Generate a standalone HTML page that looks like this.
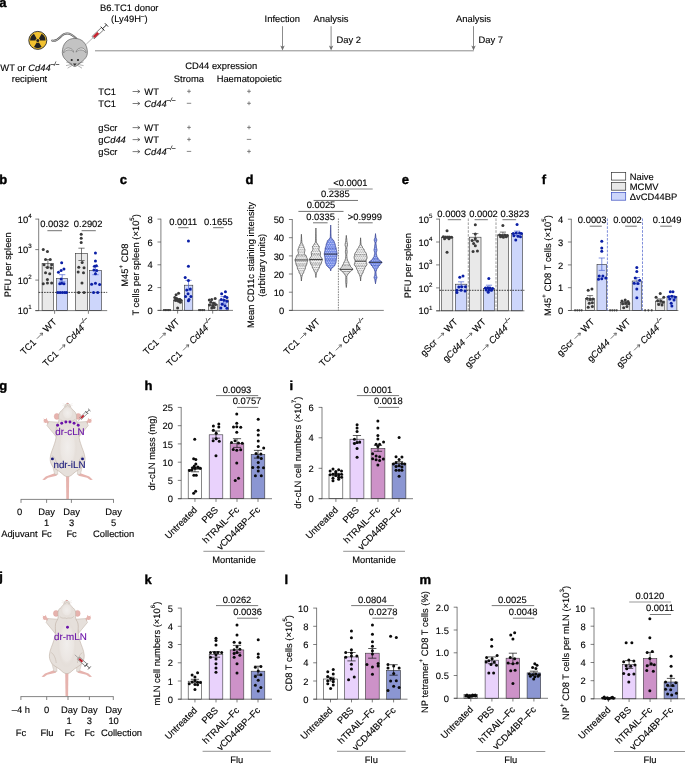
<!DOCTYPE html>
<html><head><meta charset="utf-8"><title>Figure</title>
<style>
html,body{margin:0;padding:0;background:#fff;}
body{width:685px;height:764px;overflow:hidden;font-family:"Liberation Sans",sans-serif;}
svg{display:block;will-change:transform;opacity:0.999;}
svg text{font-family:"Liberation Sans",sans-serif;text-rendering:geometricPrecision;}
</style></head><body>
<svg width="685" height="764" viewBox="0 0 685 764">
<rect x="0" y="0" width="685" height="764" fill="#fff"/>
<text x="-0.80" y="6.80" font-size="13" font-weight="bold" fill="#000" stroke="#000" stroke-width="0.4" stroke-linejoin="round">a</text>
<circle cx="37.80" cy="40.40" r="9.0" fill="#f2c230" stroke="#2a2a2a" stroke-width="0.9"/>
<path d="M35.50 40.40 L30.10 40.40 A7.7 7.7 0 0 1 33.95 33.73 L36.65 38.41 A2.3 2.3 0 0 0 35.50 40.40Z" fill="#222"/>
<path d="M38.95 38.41 L41.65 33.73 A7.7 7.7 0 0 1 45.50 40.40 L40.10 40.40 A2.3 2.3 0 0 0 38.95 38.41Z" fill="#222"/>
<path d="M38.95 42.39 L41.65 47.07 A7.7 7.7 0 0 1 33.95 47.07 L36.65 42.39 A2.3 2.3 0 0 0 38.95 42.39Z" fill="#222"/>
<circle cx="37.80" cy="40.40" r="1.5" fill="#222" stroke="none" stroke-width="0"/>
<path d="M52.2 40.6 C57 42.4 59.6 36.6 63.6 34.4 C67.6 32.2 71.6 33.6 76.4 38.8" fill="none" stroke="#555" stroke-width="2.0" stroke-linecap="round"/>
<path d="M52.2 40.6 C57 42.4 59.6 36.6 63.6 34.4 C67.6 32.2 71.6 33.6 76.4 38.8" fill="none" stroke="#c6c6c6" stroke-width="0.9" stroke-linecap="round"/>
<path d="M62.3 52.6 C62.3 43.6 67.6 38.4 74.8 38.4 C82 38.4 87.4 43.6 87.4 52.6 C87.4 56.2 85.2 58.8 82.8 60.8 L77.2 65.4 C76.2 66.2 75.5 66.5 74.8 66.5 C74.1 66.5 73.4 66.2 72.4 65.4 L66.8 60.8 C64.4 58.8 62.3 56.2 62.3 52.6Z" fill="#c3c3c3" stroke="#5e5e5e" stroke-width="0.7"/>
<path d="M63.6 52.8 C64.0 49.2 66.6 47.6 69.0 48.0 C71.6 48.4 73.4 50.2 73.6 52.2 C72.2 50.6 70.6 49.8 68.6 49.9 C66.4 50.0 64.8 51.2 63.6 52.8Z" fill="#e6e6e6" stroke="#5e5e5e" stroke-width="0.55" stroke-linejoin="round"/>
<path d="M86.0 52.8 C85.6 49.2 83.0 47.6 80.6 48.0 C78.0 48.4 76.2 50.2 76.0 52.2 C77.4 50.6 79.0 49.8 81.0 49.9 C83.2 50.0 84.8 51.2 86.0 52.8Z" fill="#e6e6e6" stroke="#5e5e5e" stroke-width="0.55" stroke-linejoin="round"/>
<circle cx="71.70" cy="60.00" r="1.05" fill="#222" stroke="none" stroke-width="0"/>
<circle cx="78.00" cy="60.00" r="1.05" fill="#222" stroke="none" stroke-width="0"/>
<path d="M72.9 63.4 L76.7 63.4 L74.8 66.0Z" fill="#333"/>
<line x1="71.80" y1="63.60" x2="66.20" y2="62.00" stroke="#555" stroke-width="0.45"/>
<line x1="71.80" y1="64.40" x2="66.00" y2="65.60" stroke="#555" stroke-width="0.45"/>
<line x1="72.40" y1="65.20" x2="67.60" y2="68.20" stroke="#555" stroke-width="0.45"/>
<line x1="77.80" y1="63.60" x2="83.40" y2="62.00" stroke="#555" stroke-width="0.45"/>
<line x1="77.80" y1="64.40" x2="83.60" y2="65.60" stroke="#555" stroke-width="0.45"/>
<line x1="77.20" y1="65.20" x2="82.00" y2="68.20" stroke="#555" stroke-width="0.45"/>
<g transform="translate(86.2 44.2) rotate(-43.5)"><line x1="0" y1="0" x2="9.6" y2="0" stroke="#666" stroke-width="0.45"/><rect x="9.6" y="-1.6" width="13.0" height="3.2" fill="#fff" stroke="#333" stroke-width="0.6"/><rect x="10.4" y="-1.2" width="6.2" height="2.4" fill="#c8202c"/><line x1="22.6" y1="-2.7" x2="22.6" y2="2.7" stroke="#222" stroke-width="0.9"/><line x1="22.6" y1="0" x2="28.0" y2="0" stroke="#222" stroke-width="0.9"/><line x1="28.0" y1="-2.3" x2="28.0" y2="2.3" stroke="#222" stroke-width="0.9"/></g>
<text x="129.30" y="10.60" font-size="9.4" text-anchor="middle" fill="#000" stroke="#000" stroke-width="0.12">B6.TC1 donor</text>
<text x="129.30" y="22.40" font-size="9.4" text-anchor="middle" fill="#000" stroke="#000" stroke-width="0.12">(Ly49H<tspan font-size="6.2" dy="-4.89">–</tspan><tspan dy="4.89" font-size="9.4">&#8203;</tspan>)</text>
<text x="0.30" y="70.60" font-size="9.4" fill="#000" stroke="#000" stroke-width="0.12">WT or <tspan font-style="italic">Cd44<tspan font-size="6.2" dy="-4.89">–/–</tspan><tspan dy="4.89" font-size="9.4">&#8203;</tspan></tspan></text>
<text x="29.50" y="82.40" font-size="9.4" text-anchor="middle" fill="#000" stroke="#000" stroke-width="0.12">recipient</text>
<line x1="95.00" y1="50.80" x2="473.80" y2="50.80" stroke="#6e6e6e" stroke-width="0.8"/>
<line x1="282.50" y1="26.20" x2="282.50" y2="48.60" stroke="#6e6e6e" stroke-width="0.8"/>
<path d="M280.30 45.60 L282.50 50.60 L284.70 45.60 L282.50 46.80Z" fill="#6e6e6e"/>
<line x1="331.10" y1="26.20" x2="331.10" y2="48.60" stroke="#6e6e6e" stroke-width="0.8"/>
<path d="M328.90 45.60 L331.10 50.60 L333.30 45.60 L331.10 46.80Z" fill="#6e6e6e"/>
<line x1="473.50" y1="26.20" x2="473.50" y2="48.60" stroke="#6e6e6e" stroke-width="0.8"/>
<path d="M471.30 45.60 L473.50 50.60 L475.70 45.60 L473.50 46.80Z" fill="#6e6e6e"/>
<text x="282.30" y="21.80" font-size="9.4" text-anchor="middle" fill="#000" stroke="#000" stroke-width="0.12">Infection</text>
<text x="331.00" y="21.80" font-size="9.4" text-anchor="middle" fill="#000" stroke="#000" stroke-width="0.12">Analysis</text>
<text x="473.50" y="21.80" font-size="9.4" text-anchor="middle" fill="#000" stroke="#000" stroke-width="0.12">Analysis</text>
<text x="336.50" y="43.00" font-size="9.4" fill="#000" stroke="#000" stroke-width="0.12">Day 2</text>
<text x="478.50" y="43.00" font-size="9.4" fill="#000" stroke="#000" stroke-width="0.12">Day 7</text>
<text x="221.30" y="68.80" font-size="9.4" text-anchor="middle" fill="#000" stroke="#000" stroke-width="0.12">CD44 expression</text>
<text x="188.90" y="81.80" font-size="9.4" text-anchor="middle" fill="#000" stroke="#000" stroke-width="0.12">Stroma</text>
<text x="249.20" y="81.80" font-size="9.4" text-anchor="middle" fill="#000" stroke="#000" stroke-width="0.12">Haematopoietic</text>
<text x="98.20" y="94.50" font-size="9.4" fill="#000" stroke="#000" stroke-width="0.12">TC1</text>
<line x1="132.60" y1="91.50" x2="139.40" y2="91.50" stroke="#222" stroke-width="0.6"/>
<path d="M137.60 89.90 L139.90 91.50 L137.60 93.10" stroke="#222" stroke-width="0.6" fill="none"/>
<text x="144.30" y="94.50" font-size="9.4" fill="#000" stroke="#000" stroke-width="0.12">WT</text>
<line x1="187.10" y1="91.30" x2="190.90" y2="91.30" stroke="#555" stroke-width="0.7"/>
<line x1="189.00" y1="89.40" x2="189.00" y2="93.20" stroke="#555" stroke-width="0.7"/>
<line x1="247.10" y1="91.30" x2="250.90" y2="91.30" stroke="#555" stroke-width="0.7"/>
<line x1="249.00" y1="89.40" x2="249.00" y2="93.20" stroke="#555" stroke-width="0.7"/>
<text x="98.20" y="106.50" font-size="9.4" fill="#000" stroke="#000" stroke-width="0.12">TC1</text>
<line x1="132.60" y1="103.50" x2="139.40" y2="103.50" stroke="#222" stroke-width="0.6"/>
<path d="M137.60 101.90 L139.90 103.50 L137.60 105.10" stroke="#222" stroke-width="0.6" fill="none"/>
<text x="144.30" y="106.50" font-size="9.4" fill="#000" stroke="#000" stroke-width="0.12"><tspan font-style="italic">Cd44<tspan font-size="6.2" dy="-4.89">–/–</tspan><tspan dy="4.89" font-size="9.4">&#8203;</tspan></tspan></text>
<line x1="186.80" y1="103.30" x2="191.20" y2="103.30" stroke="#555" stroke-width="0.7"/>
<line x1="247.10" y1="103.30" x2="250.90" y2="103.30" stroke="#555" stroke-width="0.7"/>
<line x1="249.00" y1="101.40" x2="249.00" y2="105.20" stroke="#555" stroke-width="0.7"/>
<text x="98.20" y="130.60" font-size="9.4" fill="#000" stroke="#000" stroke-width="0.12">gScr</text>
<line x1="132.60" y1="127.60" x2="139.40" y2="127.60" stroke="#222" stroke-width="0.6"/>
<path d="M137.60 126.00 L139.90 127.60 L137.60 129.20" stroke="#222" stroke-width="0.6" fill="none"/>
<text x="144.30" y="130.60" font-size="9.4" fill="#000" stroke="#000" stroke-width="0.12">WT</text>
<line x1="187.10" y1="127.40" x2="190.90" y2="127.40" stroke="#555" stroke-width="0.7"/>
<line x1="189.00" y1="125.50" x2="189.00" y2="129.30" stroke="#555" stroke-width="0.7"/>
<line x1="247.10" y1="127.40" x2="250.90" y2="127.40" stroke="#555" stroke-width="0.7"/>
<line x1="249.00" y1="125.50" x2="249.00" y2="129.30" stroke="#555" stroke-width="0.7"/>
<text x="98.20" y="142.60" font-size="9.4" fill="#000" stroke="#000" stroke-width="0.12">g<tspan font-style="italic">Cd44</tspan></text>
<line x1="132.60" y1="139.60" x2="139.40" y2="139.60" stroke="#222" stroke-width="0.6"/>
<path d="M137.60 138.00 L139.90 139.60 L137.60 141.20" stroke="#222" stroke-width="0.6" fill="none"/>
<text x="144.30" y="142.60" font-size="9.4" fill="#000" stroke="#000" stroke-width="0.12">WT</text>
<line x1="187.10" y1="139.40" x2="190.90" y2="139.40" stroke="#555" stroke-width="0.7"/>
<line x1="189.00" y1="137.50" x2="189.00" y2="141.30" stroke="#555" stroke-width="0.7"/>
<line x1="246.80" y1="139.40" x2="251.20" y2="139.40" stroke="#555" stroke-width="0.7"/>
<text x="98.20" y="154.60" font-size="9.4" fill="#000" stroke="#000" stroke-width="0.12">gScr</text>
<line x1="132.60" y1="151.60" x2="139.40" y2="151.60" stroke="#222" stroke-width="0.6"/>
<path d="M137.60 150.00 L139.90 151.60 L137.60 153.20" stroke="#222" stroke-width="0.6" fill="none"/>
<text x="144.30" y="154.60" font-size="9.4" fill="#000" stroke="#000" stroke-width="0.12"><tspan font-style="italic">Cd44<tspan font-size="6.2" dy="-4.89">–/–</tspan><tspan dy="4.89" font-size="9.4">&#8203;</tspan></tspan></text>
<line x1="186.80" y1="151.40" x2="191.20" y2="151.40" stroke="#555" stroke-width="0.7"/>
<line x1="247.10" y1="151.40" x2="250.90" y2="151.40" stroke="#555" stroke-width="0.7"/>
<line x1="249.00" y1="149.50" x2="249.00" y2="153.30" stroke="#555" stroke-width="0.7"/>
<text x="-0.80" y="183.90" font-size="13" font-weight="bold" fill="#000" stroke="#000" stroke-width="0.4" stroke-linejoin="round">b</text>
<rect x="42.10" y="263.40" width="11.60" height="47.20" fill="#e9e9e9" stroke="#2e2e2e" stroke-width="0.58"/>
<rect x="56.70" y="278.40" width="11.00" height="32.20" fill="#cdd6fb" stroke="#2e2e2e" stroke-width="0.58"/>
<rect x="75.30" y="253.30" width="12.40" height="57.30" fill="#e9e9e9" stroke="#2e2e2e" stroke-width="0.58"/>
<rect x="89.60" y="270.40" width="11.90" height="40.20" fill="#cdd6fb" stroke="#2e2e2e" stroke-width="0.58"/>
<line x1="38.70" y1="218.75" x2="38.70" y2="310.95" stroke="#3a3a3a" stroke-width="0.65"/>
<line x1="35.30" y1="219.10" x2="38.70" y2="219.10" stroke="#3a3a3a" stroke-width="0.65"/>
<text x="31.70" y="222.75" font-size="9.4" text-anchor="end" fill="#000" stroke="#000" stroke-width="0.12">10<tspan font-size="6.2" dy="-4.89">4</tspan><tspan dy="4.89" font-size="9.4">&#8203;</tspan></text>
<line x1="35.30" y1="249.60" x2="38.70" y2="249.60" stroke="#3a3a3a" stroke-width="0.65"/>
<text x="31.70" y="253.25" font-size="9.4" text-anchor="end" fill="#000" stroke="#000" stroke-width="0.12">10<tspan font-size="6.2" dy="-4.89">3</tspan><tspan dy="4.89" font-size="9.4">&#8203;</tspan></text>
<line x1="35.30" y1="280.10" x2="38.70" y2="280.10" stroke="#3a3a3a" stroke-width="0.65"/>
<text x="31.70" y="283.75" font-size="9.4" text-anchor="end" fill="#000" stroke="#000" stroke-width="0.12">10<tspan font-size="6.2" dy="-4.89">2</tspan><tspan dy="4.89" font-size="9.4">&#8203;</tspan></text>
<line x1="35.30" y1="310.60" x2="38.70" y2="310.60" stroke="#3a3a3a" stroke-width="0.65"/>
<text x="31.70" y="314.25" font-size="9.4" text-anchor="end" fill="#000" stroke="#000" stroke-width="0.12">10<tspan font-size="6.2" dy="-4.89">1</tspan><tspan dy="4.89" font-size="9.4">&#8203;</tspan></text>
<line x1="35.40" y1="310.60" x2="107.20" y2="310.60" stroke="#3a3a3a" stroke-width="0.65"/>
<line x1="54.60" y1="310.60" x2="54.60" y2="313.80" stroke="#3a3a3a" stroke-width="0.65"/>
<line x1="88.40" y1="310.60" x2="88.40" y2="313.80" stroke="#3a3a3a" stroke-width="0.65"/>
<line x1="38.70" y1="292.40" x2="107.20" y2="292.40" stroke="#111" stroke-width="0.8" stroke-dasharray="1.6 1.1"/>
<line x1="47.90" y1="259.60" x2="47.90" y2="267.20" stroke="#333" stroke-width="0.65"/>
<line x1="44.80" y1="259.60" x2="51.00" y2="259.60" stroke="#333" stroke-width="0.65"/>
<line x1="44.80" y1="267.20" x2="51.00" y2="267.20" stroke="#333" stroke-width="0.65"/>
<line x1="62.20" y1="274.70" x2="62.20" y2="281.80" stroke="#4058d0" stroke-width="0.65"/>
<line x1="59.10" y1="274.70" x2="65.30" y2="274.70" stroke="#4058d0" stroke-width="0.65"/>
<line x1="59.10" y1="281.80" x2="65.30" y2="281.80" stroke="#4058d0" stroke-width="0.65"/>
<line x1="81.50" y1="248.20" x2="81.50" y2="260.50" stroke="#333" stroke-width="0.65"/>
<line x1="78.40" y1="248.20" x2="84.60" y2="248.20" stroke="#333" stroke-width="0.65"/>
<line x1="78.40" y1="260.50" x2="84.60" y2="260.50" stroke="#333" stroke-width="0.65"/>
<line x1="95.50" y1="266.60" x2="95.50" y2="274.70" stroke="#4058d0" stroke-width="0.65"/>
<line x1="92.40" y1="266.60" x2="98.60" y2="266.60" stroke="#4058d0" stroke-width="0.65"/>
<line x1="92.40" y1="274.70" x2="98.60" y2="274.70" stroke="#4058d0" stroke-width="0.65"/>
<circle cx="43.26" cy="249.51" r="1.5" fill="#3a3a3a" stroke="none" stroke-width="0"/>
<circle cx="47.44" cy="251.41" r="1.5" fill="#3a3a3a" stroke="none" stroke-width="0"/>
<circle cx="45.54" cy="259.57" r="1.5" fill="#3a3a3a" stroke="none" stroke-width="0"/>
<circle cx="50.28" cy="259.57" r="1.5" fill="#3a3a3a" stroke="none" stroke-width="0"/>
<circle cx="44.02" cy="264.69" r="1.5" fill="#3a3a3a" stroke="none" stroke-width="0"/>
<circle cx="51.61" cy="264.69" r="1.5" fill="#3a3a3a" stroke="none" stroke-width="0"/>
<circle cx="47.44" cy="267.54" r="1.5" fill="#3a3a3a" stroke="none" stroke-width="0"/>
<circle cx="51.23" cy="268.11" r="1.5" fill="#3a3a3a" stroke="none" stroke-width="0"/>
<circle cx="45.54" cy="272.85" r="1.5" fill="#3a3a3a" stroke="none" stroke-width="0"/>
<circle cx="49.72" cy="273.80" r="1.5" fill="#3a3a3a" stroke="none" stroke-width="0"/>
<circle cx="47.44" cy="279.49" r="1.5" fill="#3a3a3a" stroke="none" stroke-width="0"/>
<circle cx="43.26" cy="283.67" r="1.5" fill="#3a3a3a" stroke="none" stroke-width="0"/>
<circle cx="47.44" cy="282.91" r="1.5" fill="#3a3a3a" stroke="none" stroke-width="0"/>
<circle cx="51.61" cy="282.91" r="1.5" fill="#3a3a3a" stroke="none" stroke-width="0"/>
<circle cx="61.67" cy="262.79" r="1.5" fill="#0b1fa6" stroke="none" stroke-width="0"/>
<circle cx="63.95" cy="269.06" r="1.5" fill="#0b1fa6" stroke="none" stroke-width="0"/>
<circle cx="61.10" cy="270.57" r="1.5" fill="#0b1fa6" stroke="none" stroke-width="0"/>
<circle cx="58.44" cy="272.28" r="1.5" fill="#0b1fa6" stroke="none" stroke-width="0"/>
<circle cx="61.10" cy="278.92" r="1.5" fill="#0b1fa6" stroke="none" stroke-width="0"/>
<circle cx="61.67" cy="283.29" r="1.5" fill="#0b1fa6" stroke="none" stroke-width="0"/>
<circle cx="63.95" cy="283.67" r="1.5" fill="#0b1fa6" stroke="none" stroke-width="0"/>
<circle cx="59.77" cy="283.86" r="1.5" fill="#0b1fa6" stroke="none" stroke-width="0"/>
<circle cx="57.87" cy="292.39" r="1.5" fill="#0b1fa6" stroke="none" stroke-width="0"/>
<circle cx="60.15" cy="292.39" r="1.5" fill="#0b1fa6" stroke="none" stroke-width="0"/>
<circle cx="62.43" cy="292.39" r="1.5" fill="#0b1fa6" stroke="none" stroke-width="0"/>
<circle cx="64.71" cy="292.39" r="1.5" fill="#0b1fa6" stroke="none" stroke-width="0"/>
<circle cx="66.41" cy="292.39" r="1.5" fill="#0b1fa6" stroke="none" stroke-width="0"/>
<circle cx="81.21" cy="234.33" r="1.5" fill="#3a3a3a" stroke="none" stroke-width="0"/>
<circle cx="81.21" cy="238.13" r="1.5" fill="#3a3a3a" stroke="none" stroke-width="0"/>
<circle cx="81.21" cy="242.49" r="1.5" fill="#3a3a3a" stroke="none" stroke-width="0"/>
<circle cx="82.16" cy="262.41" r="1.5" fill="#3a3a3a" stroke="none" stroke-width="0"/>
<circle cx="78.75" cy="267.16" r="1.5" fill="#3a3a3a" stroke="none" stroke-width="0"/>
<circle cx="84.06" cy="267.73" r="1.5" fill="#3a3a3a" stroke="none" stroke-width="0"/>
<circle cx="78.18" cy="271.90" r="1.5" fill="#3a3a3a" stroke="none" stroke-width="0"/>
<circle cx="83.49" cy="272.85" r="1.5" fill="#3a3a3a" stroke="none" stroke-width="0"/>
<circle cx="81.97" cy="282.91" r="1.5" fill="#3a3a3a" stroke="none" stroke-width="0"/>
<circle cx="78.75" cy="292.39" r="1.5" fill="#3a3a3a" stroke="none" stroke-width="0"/>
<circle cx="84.06" cy="292.39" r="1.5" fill="#3a3a3a" stroke="none" stroke-width="0"/>
<circle cx="95.45" cy="252.93" r="1.5" fill="#0b1fa6" stroke="none" stroke-width="0"/>
<circle cx="95.45" cy="260.90" r="1.5" fill="#0b1fa6" stroke="none" stroke-width="0"/>
<circle cx="94.50" cy="266.21" r="1.5" fill="#0b1fa6" stroke="none" stroke-width="0"/>
<circle cx="96.39" cy="265.83" r="1.5" fill="#0b1fa6" stroke="none" stroke-width="0"/>
<circle cx="93.93" cy="270.00" r="1.5" fill="#0b1fa6" stroke="none" stroke-width="0"/>
<circle cx="96.77" cy="270.38" r="1.5" fill="#0b1fa6" stroke="none" stroke-width="0"/>
<circle cx="95.45" cy="273.80" r="1.5" fill="#0b1fa6" stroke="none" stroke-width="0"/>
<circle cx="91.65" cy="284.24" r="1.5" fill="#0b1fa6" stroke="none" stroke-width="0"/>
<circle cx="95.45" cy="283.29" r="1.5" fill="#0b1fa6" stroke="none" stroke-width="0"/>
<circle cx="99.62" cy="284.61" r="1.5" fill="#0b1fa6" stroke="none" stroke-width="0"/>
<circle cx="93.55" cy="292.39" r="1.5" fill="#0b1fa6" stroke="none" stroke-width="0"/>
<circle cx="97.72" cy="292.39" r="1.5" fill="#0b1fa6" stroke="none" stroke-width="0"/>
<text x="54.60" y="226.90" font-size="9.4" text-anchor="middle" fill="#000" stroke="#000" stroke-width="0.12">0.0032</text>
<line x1="47.40" y1="230.70" x2="62.00" y2="230.70" stroke="#444" stroke-width="0.75"/>
<text x="88.20" y="226.90" font-size="9.4" text-anchor="middle" fill="#000" stroke="#000" stroke-width="0.12">0.2902</text>
<line x1="81.60" y1="230.70" x2="95.80" y2="230.70" stroke="#444" stroke-width="0.75"/>
<text x="11.00" y="264.80" font-size="9.4" text-anchor="middle" transform="rotate(-90 11.00 264.80)" fill="#000" stroke="#000" stroke-width="0.12">PFU per spleen</text>
<g transform="translate(57.20 322.50) rotate(-45)"><text x="-46.77" y="0" font-size="9.4" fill="#000" stroke="#000" stroke-width="0.12">TC1</text><path d="M-25.81 -2.91 L-18.41 -2.91" stroke="#222" stroke-width="0.6" fill="none"/><path d="M-20.11 -4.51 L-17.81 -2.91 L-20.11 -1.31" stroke="#222" stroke-width="0.6" fill="none" stroke-linejoin="miter"/><text x="-14.61" y="0" font-size="9.4" fill="#000" stroke="#000" stroke-width="0.12">WT</text></g>
<g transform="translate(91.20 322.50) rotate(-45)"><text x="-63.26" y="0" font-size="9.4" fill="#000" stroke="#000" stroke-width="0.12">TC1</text><path d="M-42.30 -2.91 L-34.90 -2.91" stroke="#222" stroke-width="0.6" fill="none"/><path d="M-36.60 -4.51 L-34.30 -2.91 L-36.60 -1.31" stroke="#222" stroke-width="0.6" fill="none" stroke-linejoin="miter"/><text x="-31.10" y="0" font-size="9.4" fill="#000" stroke="#000" stroke-width="0.12"><tspan font-style="italic">Cd44<tspan font-size="6.2" dy="-4.89">–/–</tspan><tspan dy="4.89" font-size="9.4">&#8203;</tspan></tspan></text></g>
<text x="119.80" y="183.90" font-size="13" font-weight="bold" fill="#000" stroke="#000" stroke-width="0.4" stroke-linejoin="round">c</text>
<rect x="173.40" y="300.00" width="9.30" height="10.40" fill="#e9e9e9" stroke="#2e2e2e" stroke-width="0.58"/>
<rect x="184.30" y="285.20" width="8.50" height="25.20" fill="#cdd6fb" stroke="#2e2e2e" stroke-width="0.58"/>
<rect x="208.40" y="304.20" width="9.10" height="6.20" fill="#e9e9e9" stroke="#2e2e2e" stroke-width="0.58"/>
<rect x="219.00" y="300.00" width="9.30" height="10.40" fill="#cdd6fb" stroke="#2e2e2e" stroke-width="0.58"/>
<line x1="160.90" y1="218.75" x2="160.90" y2="310.75" stroke="#3a3a3a" stroke-width="0.65"/>
<line x1="157.50" y1="219.10" x2="160.90" y2="219.10" stroke="#3a3a3a" stroke-width="0.65"/>
<text x="152.70" y="222.75" font-size="9.4" text-anchor="end" fill="#000" stroke="#000" stroke-width="0.12">8</text>
<line x1="157.50" y1="242.00" x2="160.90" y2="242.00" stroke="#3a3a3a" stroke-width="0.65"/>
<text x="152.70" y="245.65" font-size="9.4" text-anchor="end" fill="#000" stroke="#000" stroke-width="0.12">6</text>
<line x1="157.50" y1="264.80" x2="160.90" y2="264.80" stroke="#3a3a3a" stroke-width="0.65"/>
<text x="152.70" y="268.45" font-size="9.4" text-anchor="end" fill="#000" stroke="#000" stroke-width="0.12">4</text>
<line x1="157.50" y1="287.60" x2="160.90" y2="287.60" stroke="#3a3a3a" stroke-width="0.65"/>
<text x="152.70" y="291.25" font-size="9.4" text-anchor="end" fill="#000" stroke="#000" stroke-width="0.12">2</text>
<line x1="157.50" y1="310.40" x2="160.90" y2="310.40" stroke="#3a3a3a" stroke-width="0.65"/>
<text x="152.70" y="314.05" font-size="9.4" text-anchor="end" fill="#000" stroke="#000" stroke-width="0.12">0</text>
<line x1="157.70" y1="310.40" x2="233.00" y2="310.40" stroke="#3a3a3a" stroke-width="0.65"/>
<line x1="177.60" y1="310.40" x2="177.60" y2="313.60" stroke="#3a3a3a" stroke-width="0.65"/>
<line x1="212.70" y1="310.40" x2="212.70" y2="313.60" stroke="#3a3a3a" stroke-width="0.65"/>
<line x1="178.00" y1="298.50" x2="178.00" y2="301.50" stroke="#333" stroke-width="0.65"/>
<line x1="174.90" y1="298.50" x2="181.10" y2="298.50" stroke="#333" stroke-width="0.65"/>
<line x1="174.90" y1="301.50" x2="181.10" y2="301.50" stroke="#333" stroke-width="0.65"/>
<line x1="188.50" y1="280.40" x2="188.50" y2="290.30" stroke="#4058d0" stroke-width="0.65"/>
<line x1="185.40" y1="280.40" x2="191.60" y2="280.40" stroke="#4058d0" stroke-width="0.65"/>
<line x1="185.40" y1="290.30" x2="191.60" y2="290.30" stroke="#4058d0" stroke-width="0.65"/>
<line x1="213.00" y1="302.30" x2="213.00" y2="305.70" stroke="#333" stroke-width="0.65"/>
<line x1="209.90" y1="302.30" x2="216.10" y2="302.30" stroke="#333" stroke-width="0.65"/>
<line x1="209.90" y1="305.70" x2="216.10" y2="305.70" stroke="#333" stroke-width="0.65"/>
<line x1="223.60" y1="296.60" x2="223.60" y2="303.20" stroke="#4058d0" stroke-width="0.65"/>
<line x1="220.50" y1="296.60" x2="226.70" y2="296.60" stroke="#4058d0" stroke-width="0.65"/>
<line x1="220.50" y1="303.20" x2="226.70" y2="303.20" stroke="#4058d0" stroke-width="0.65"/>
<circle cx="163.96" cy="310.04" r="1.1" fill="#3a3a3a" stroke="none" stroke-width="0"/>
<circle cx="165.47" cy="310.04" r="1.1" fill="#3a3a3a" stroke="none" stroke-width="0"/>
<circle cx="166.99" cy="310.04" r="1.1" fill="#3a3a3a" stroke="none" stroke-width="0"/>
<circle cx="168.51" cy="310.04" r="1.1" fill="#3a3a3a" stroke="none" stroke-width="0"/>
<circle cx="170.03" cy="310.04" r="1.1" fill="#3a3a3a" stroke="none" stroke-width="0"/>
<circle cx="178.57" cy="293.15" r="1.5" fill="#3a3a3a" stroke="none" stroke-width="0"/>
<circle cx="176.10" cy="294.67" r="1.5" fill="#3a3a3a" stroke="none" stroke-width="0"/>
<circle cx="174.77" cy="297.52" r="1.5" fill="#3a3a3a" stroke="none" stroke-width="0"/>
<circle cx="176.67" cy="298.47" r="1.5" fill="#3a3a3a" stroke="none" stroke-width="0"/>
<circle cx="179.52" cy="299.42" r="1.5" fill="#3a3a3a" stroke="none" stroke-width="0"/>
<circle cx="175.34" cy="300.36" r="1.5" fill="#3a3a3a" stroke="none" stroke-width="0"/>
<circle cx="178.57" cy="301.31" r="1.5" fill="#3a3a3a" stroke="none" stroke-width="0"/>
<circle cx="180.46" cy="302.26" r="1.5" fill="#3a3a3a" stroke="none" stroke-width="0"/>
<circle cx="177.62" cy="307.95" r="1.5" fill="#3a3a3a" stroke="none" stroke-width="0"/>
<circle cx="177.24" cy="299.98" r="1.5" fill="#3a3a3a" stroke="none" stroke-width="0"/>
<circle cx="180.84" cy="300.36" r="1.5" fill="#3a3a3a" stroke="none" stroke-width="0"/>
<circle cx="188.43" cy="240.97" r="1.5" fill="#0b1fa6" stroke="none" stroke-width="0"/>
<circle cx="188.43" cy="266.21" r="1.5" fill="#0b1fa6" stroke="none" stroke-width="0"/>
<circle cx="185.21" cy="277.59" r="1.5" fill="#0b1fa6" stroke="none" stroke-width="0"/>
<circle cx="188.43" cy="280.44" r="1.5" fill="#0b1fa6" stroke="none" stroke-width="0"/>
<circle cx="190.33" cy="288.98" r="1.5" fill="#0b1fa6" stroke="none" stroke-width="0"/>
<circle cx="186.73" cy="289.93" r="1.5" fill="#0b1fa6" stroke="none" stroke-width="0"/>
<circle cx="188.06" cy="293.72" r="1.5" fill="#0b1fa6" stroke="none" stroke-width="0"/>
<circle cx="185.59" cy="296.57" r="1.5" fill="#0b1fa6" stroke="none" stroke-width="0"/>
<circle cx="190.90" cy="296.57" r="1.5" fill="#0b1fa6" stroke="none" stroke-width="0"/>
<circle cx="189.00" cy="299.42" r="1.5" fill="#0b1fa6" stroke="none" stroke-width="0"/>
<circle cx="188.43" cy="300.74" r="1.5" fill="#0b1fa6" stroke="none" stroke-width="0"/>
<circle cx="199.06" cy="310.04" r="1.1" fill="#3a3a3a" stroke="none" stroke-width="0"/>
<circle cx="200.77" cy="310.04" r="1.1" fill="#3a3a3a" stroke="none" stroke-width="0"/>
<circle cx="202.48" cy="310.04" r="1.1" fill="#3a3a3a" stroke="none" stroke-width="0"/>
<circle cx="204.18" cy="310.04" r="1.1" fill="#3a3a3a" stroke="none" stroke-width="0"/>
<circle cx="209.31" cy="299.98" r="1.5" fill="#3a3a3a" stroke="none" stroke-width="0"/>
<circle cx="211.77" cy="299.42" r="1.5" fill="#3a3a3a" stroke="none" stroke-width="0"/>
<circle cx="215.19" cy="298.47" r="1.5" fill="#3a3a3a" stroke="none" stroke-width="0"/>
<circle cx="210.83" cy="302.26" r="1.5" fill="#3a3a3a" stroke="none" stroke-width="0"/>
<circle cx="213.67" cy="303.21" r="1.5" fill="#3a3a3a" stroke="none" stroke-width="0"/>
<circle cx="209.50" cy="305.11" r="1.5" fill="#3a3a3a" stroke="none" stroke-width="0"/>
<circle cx="212.72" cy="305.68" r="1.5" fill="#3a3a3a" stroke="none" stroke-width="0"/>
<circle cx="215.57" cy="304.54" r="1.5" fill="#3a3a3a" stroke="none" stroke-width="0"/>
<circle cx="211.77" cy="307.95" r="1.5" fill="#3a3a3a" stroke="none" stroke-width="0"/>
<circle cx="214.05" cy="307.57" r="1.5" fill="#3a3a3a" stroke="none" stroke-width="0"/>
<circle cx="225.44" cy="291.83" r="1.5" fill="#0b1fa6" stroke="none" stroke-width="0"/>
<circle cx="221.64" cy="293.72" r="1.5" fill="#0b1fa6" stroke="none" stroke-width="0"/>
<circle cx="225.06" cy="296.57" r="1.5" fill="#0b1fa6" stroke="none" stroke-width="0"/>
<circle cx="226.95" cy="297.52" r="1.5" fill="#0b1fa6" stroke="none" stroke-width="0"/>
<circle cx="221.26" cy="299.42" r="1.5" fill="#0b1fa6" stroke="none" stroke-width="0"/>
<circle cx="224.11" cy="300.36" r="1.5" fill="#0b1fa6" stroke="none" stroke-width="0"/>
<circle cx="226.95" cy="301.31" r="1.5" fill="#0b1fa6" stroke="none" stroke-width="0"/>
<circle cx="222.21" cy="304.16" r="1.5" fill="#0b1fa6" stroke="none" stroke-width="0"/>
<circle cx="225.06" cy="305.68" r="1.5" fill="#0b1fa6" stroke="none" stroke-width="0"/>
<circle cx="220.88" cy="307.95" r="1.5" fill="#0b1fa6" stroke="none" stroke-width="0"/>
<circle cx="226.95" cy="308.33" r="1.5" fill="#0b1fa6" stroke="none" stroke-width="0"/>
<text x="183.20" y="224.50" font-size="9.4" text-anchor="middle" fill="#000" stroke="#000" stroke-width="0.12">0.0011</text>
<line x1="178.20" y1="227.70" x2="188.60" y2="227.70" stroke="#444" stroke-width="0.75"/>
<text x="218.30" y="224.50" font-size="9.4" text-anchor="middle" fill="#000" stroke="#000" stroke-width="0.12">0.1655</text>
<line x1="213.10" y1="227.70" x2="223.70" y2="227.70" stroke="#444" stroke-width="0.75"/>
<text x="127.80" y="265.20" font-size="9.4" text-anchor="middle" transform="rotate(-90 127.80 265.20)" fill="#000" stroke="#000" stroke-width="0.12">M45<tspan font-size="6.2" dy="-4.89">+</tspan><tspan dy="4.89" font-size="9.4">&#8203;</tspan> CD8</text>
<text x="139.20" y="264.80" font-size="9.4" text-anchor="middle" transform="rotate(-90 139.20 264.80)" fill="#000" stroke="#000" stroke-width="0.12">T cells per spleen (×10<tspan font-size="6.2" dy="-4.89">5</tspan><tspan dy="4.89" font-size="9.4">&#8203;</tspan>)</text>
<g transform="translate(180.00 322.50) rotate(-45)"><text x="-46.77" y="0" font-size="9.4" fill="#000" stroke="#000" stroke-width="0.12">TC1</text><path d="M-25.81 -2.91 L-18.41 -2.91" stroke="#222" stroke-width="0.6" fill="none"/><path d="M-20.11 -4.51 L-17.81 -2.91 L-20.11 -1.31" stroke="#222" stroke-width="0.6" fill="none" stroke-linejoin="miter"/><text x="-14.61" y="0" font-size="9.4" fill="#000" stroke="#000" stroke-width="0.12">WT</text></g>
<g transform="translate(215.00 322.50) rotate(-45)"><text x="-63.26" y="0" font-size="9.4" fill="#000" stroke="#000" stroke-width="0.12">TC1</text><path d="M-42.30 -2.91 L-34.90 -2.91" stroke="#222" stroke-width="0.6" fill="none"/><path d="M-36.60 -4.51 L-34.30 -2.91 L-36.60 -1.31" stroke="#222" stroke-width="0.6" fill="none" stroke-linejoin="miter"/><text x="-31.10" y="0" font-size="9.4" fill="#000" stroke="#000" stroke-width="0.12"><tspan font-style="italic">Cd44<tspan font-size="6.2" dy="-4.89">–/–</tspan><tspan dy="4.89" font-size="9.4">&#8203;</tspan></tspan></text></g>
<text x="245.50" y="183.50" font-size="13" font-weight="bold" fill="#000" stroke="#000" stroke-width="0.4" stroke-linejoin="round">d</text>
<clipPath id="vc1"><path d="M301.40 234.30 L301.41 234.97 L301.45 235.63 L301.50 236.30 L301.55 236.97 L301.60 237.64 L301.64 238.30 L301.65 238.97 L301.67 239.64 L301.73 240.30 L301.80 240.97 L301.86 241.64 L301.90 242.31 L301.99 242.97 L302.37 243.64 L302.80 244.31 L303.00 244.97 L303.21 245.64 L303.66 246.31 L303.90 246.98 L304.01 247.64 L304.30 248.31 L304.64 248.98 L304.87 249.64 L304.89 250.31 L304.81 250.98 L304.67 251.65 L304.53 252.31 L304.43 252.98 L304.41 253.65 L304.74 254.31 L305.38 254.98 L306.03 255.65 L306.38 256.32 L306.46 256.98 L306.74 257.65 L307.14 258.32 L307.53 258.98 L307.77 259.65 L307.78 260.32 L307.61 260.99 L307.34 261.65 L307.10 262.32 L307.00 262.99 L306.93 263.65 L306.74 264.32 L306.45 264.99 L306.12 265.66 L305.80 266.32 L305.56 266.99 L305.42 267.66 L305.37 268.32 L305.17 268.99 L304.81 269.66 L304.40 270.33 L304.04 270.99 L303.83 271.66 L303.77 272.33 L303.50 272.99 L303.06 273.66 L302.60 274.33 L302.28 275.00 L302.19 275.66 L302.02 276.33 L301.77 277.00 L301.70 277.66 L301.66 278.33 L301.58 279.00 L301.50 279.67 L301.43 280.33 L301.40 281.00 L301.40 281.00 L301.37 280.33 L301.30 279.67 L301.22 279.00 L301.14 278.33 L301.10 277.66 L301.03 277.00 L300.78 276.33 L300.61 275.66 L300.52 275.00 L300.20 274.33 L299.74 273.66 L299.30 272.99 L299.03 272.33 L298.97 271.66 L298.76 270.99 L298.40 270.33 L297.99 269.66 L297.63 268.99 L297.43 268.32 L297.38 267.66 L297.24 266.99 L297.00 266.32 L296.68 265.66 L296.35 264.99 L296.06 264.32 L295.87 263.65 L295.80 262.99 L295.70 262.32 L295.46 261.65 L295.19 260.99 L295.02 260.32 L295.03 259.65 L295.27 258.98 L295.66 258.32 L296.06 257.65 L296.34 256.98 L296.42 256.32 L296.77 255.65 L297.42 254.98 L298.06 254.31 L298.39 253.65 L298.37 252.98 L298.27 252.31 L298.13 251.65 L297.99 250.98 L297.91 250.31 L297.93 249.64 L298.16 248.98 L298.50 248.31 L298.79 247.64 L298.90 246.98 L299.14 246.31 L299.59 245.64 L299.80 244.97 L300.00 244.31 L300.43 243.64 L300.81 242.97 L300.90 242.31 L300.94 241.64 L301.00 240.97 L301.07 240.30 L301.13 239.64 L301.15 238.97 L301.16 238.30 L301.20 237.64 L301.25 236.97 L301.30 236.30 L301.35 235.63 L301.39 234.97 L301.40 234.30Z"/></clipPath>
<path d="M301.40 234.30 L301.41 234.97 L301.45 235.63 L301.50 236.30 L301.55 236.97 L301.60 237.64 L301.64 238.30 L301.65 238.97 L301.67 239.64 L301.73 240.30 L301.80 240.97 L301.86 241.64 L301.90 242.31 L301.99 242.97 L302.37 243.64 L302.80 244.31 L303.00 244.97 L303.21 245.64 L303.66 246.31 L303.90 246.98 L304.01 247.64 L304.30 248.31 L304.64 248.98 L304.87 249.64 L304.89 250.31 L304.81 250.98 L304.67 251.65 L304.53 252.31 L304.43 252.98 L304.41 253.65 L304.74 254.31 L305.38 254.98 L306.03 255.65 L306.38 256.32 L306.46 256.98 L306.74 257.65 L307.14 258.32 L307.53 258.98 L307.77 259.65 L307.78 260.32 L307.61 260.99 L307.34 261.65 L307.10 262.32 L307.00 262.99 L306.93 263.65 L306.74 264.32 L306.45 264.99 L306.12 265.66 L305.80 266.32 L305.56 266.99 L305.42 267.66 L305.37 268.32 L305.17 268.99 L304.81 269.66 L304.40 270.33 L304.04 270.99 L303.83 271.66 L303.77 272.33 L303.50 272.99 L303.06 273.66 L302.60 274.33 L302.28 275.00 L302.19 275.66 L302.02 276.33 L301.77 277.00 L301.70 277.66 L301.66 278.33 L301.58 279.00 L301.50 279.67 L301.43 280.33 L301.40 281.00 L301.40 281.00 L301.37 280.33 L301.30 279.67 L301.22 279.00 L301.14 278.33 L301.10 277.66 L301.03 277.00 L300.78 276.33 L300.61 275.66 L300.52 275.00 L300.20 274.33 L299.74 273.66 L299.30 272.99 L299.03 272.33 L298.97 271.66 L298.76 270.99 L298.40 270.33 L297.99 269.66 L297.63 268.99 L297.43 268.32 L297.38 267.66 L297.24 266.99 L297.00 266.32 L296.68 265.66 L296.35 264.99 L296.06 264.32 L295.87 263.65 L295.80 262.99 L295.70 262.32 L295.46 261.65 L295.19 260.99 L295.02 260.32 L295.03 259.65 L295.27 258.98 L295.66 258.32 L296.06 257.65 L296.34 256.98 L296.42 256.32 L296.77 255.65 L297.42 254.98 L298.06 254.31 L298.39 253.65 L298.37 252.98 L298.27 252.31 L298.13 251.65 L297.99 250.98 L297.91 250.31 L297.93 249.64 L298.16 248.98 L298.50 248.31 L298.79 247.64 L298.90 246.98 L299.14 246.31 L299.59 245.64 L299.80 244.97 L300.00 244.31 L300.43 243.64 L300.81 242.97 L300.90 242.31 L300.94 241.64 L301.00 240.97 L301.07 240.30 L301.13 239.64 L301.15 238.97 L301.16 238.30 L301.20 237.64 L301.25 236.97 L301.30 236.30 L301.35 235.63 L301.39 234.97 L301.40 234.30Z" fill="#fff" stroke="none"/>
<path d="M293.40 235.30h16 M294.40 237.05h16 M293.40 238.80h16 M294.40 240.55h16 M293.40 242.30h16 M294.40 244.05h16 M293.40 245.80h16 M294.40 247.55h16 M293.40 249.30h16 M294.40 251.05h16 M293.40 252.80h16 M294.40 254.55h16 M293.40 256.30h16 M294.40 258.05h16 M293.40 259.80h16 M294.40 261.55h16 M293.40 263.30h16 M294.40 265.05h16 M293.40 266.80h16 M294.40 268.55h16 M293.40 270.30h16 M294.40 272.05h16 M293.40 273.80h16 M294.40 275.55h16 M293.40 277.30h16 M294.40 279.05h16 M293.40 280.80h16" clip-path="url(#vc1)" stroke="#6e6e6e" stroke-width="0.62" stroke-dasharray="1.5 0.5" fill="none"/>
<path d="M301.40 234.30 L301.41 234.97 L301.45 235.63 L301.50 236.30 L301.55 236.97 L301.60 237.64 L301.64 238.30 L301.65 238.97 L301.67 239.64 L301.73 240.30 L301.80 240.97 L301.86 241.64 L301.90 242.31 L301.99 242.97 L302.37 243.64 L302.80 244.31 L303.00 244.97 L303.21 245.64 L303.66 246.31 L303.90 246.98 L304.01 247.64 L304.30 248.31 L304.64 248.98 L304.87 249.64 L304.89 250.31 L304.81 250.98 L304.67 251.65 L304.53 252.31 L304.43 252.98 L304.41 253.65 L304.74 254.31 L305.38 254.98 L306.03 255.65 L306.38 256.32 L306.46 256.98 L306.74 257.65 L307.14 258.32 L307.53 258.98 L307.77 259.65 L307.78 260.32 L307.61 260.99 L307.34 261.65 L307.10 262.32 L307.00 262.99 L306.93 263.65 L306.74 264.32 L306.45 264.99 L306.12 265.66 L305.80 266.32 L305.56 266.99 L305.42 267.66 L305.37 268.32 L305.17 268.99 L304.81 269.66 L304.40 270.33 L304.04 270.99 L303.83 271.66 L303.77 272.33 L303.50 272.99 L303.06 273.66 L302.60 274.33 L302.28 275.00 L302.19 275.66 L302.02 276.33 L301.77 277.00 L301.70 277.66 L301.66 278.33 L301.58 279.00 L301.50 279.67 L301.43 280.33 L301.40 281.00 L301.40 281.00 L301.37 280.33 L301.30 279.67 L301.22 279.00 L301.14 278.33 L301.10 277.66 L301.03 277.00 L300.78 276.33 L300.61 275.66 L300.52 275.00 L300.20 274.33 L299.74 273.66 L299.30 272.99 L299.03 272.33 L298.97 271.66 L298.76 270.99 L298.40 270.33 L297.99 269.66 L297.63 268.99 L297.43 268.32 L297.38 267.66 L297.24 266.99 L297.00 266.32 L296.68 265.66 L296.35 264.99 L296.06 264.32 L295.87 263.65 L295.80 262.99 L295.70 262.32 L295.46 261.65 L295.19 260.99 L295.02 260.32 L295.03 259.65 L295.27 258.98 L295.66 258.32 L296.06 257.65 L296.34 256.98 L296.42 256.32 L296.77 255.65 L297.42 254.98 L298.06 254.31 L298.39 253.65 L298.37 252.98 L298.27 252.31 L298.13 251.65 L297.99 250.98 L297.91 250.31 L297.93 249.64 L298.16 248.98 L298.50 248.31 L298.79 247.64 L298.90 246.98 L299.14 246.31 L299.59 245.64 L299.80 244.97 L300.00 244.31 L300.43 243.64 L300.81 242.97 L300.90 242.31 L300.94 241.64 L301.00 240.97 L301.07 240.30 L301.13 239.64 L301.15 238.97 L301.16 238.30 L301.20 237.64 L301.25 236.97 L301.30 236.30 L301.35 235.63 L301.39 234.97 L301.40 234.30Z" fill="none" stroke="#2a2a2a" stroke-width="0.6" stroke-linejoin="round"/>
<line x1="296.77" y1="255.50" x2="306.03" y2="255.50" stroke="#333" stroke-width="0.5" stroke-dasharray="0.7 0.7"/>
<line x1="296.35" y1="265.00" x2="306.45" y2="265.00" stroke="#333" stroke-width="0.5" stroke-dasharray="0.7 0.7"/>
<line x1="295.02" y1="260.00" x2="307.78" y2="260.00" stroke="#111" stroke-width="0.8"/>
<clipPath id="vc2"><path d="M315.90 228.00 L315.90 228.71 L315.92 229.41 L315.94 230.12 L315.97 230.83 L316.00 231.54 L316.04 232.24 L316.07 232.95 L316.10 233.66 L316.13 234.36 L316.14 235.07 L316.15 235.78 L316.15 236.49 L316.17 237.19 L316.20 237.90 L316.23 238.61 L316.27 239.31 L316.30 240.02 L316.33 240.73 L316.35 241.44 L316.36 242.14 L316.70 242.85 L317.28 243.56 L317.67 244.26 L317.91 244.97 L318.72 245.68 L319.29 246.39 L319.26 247.09 L319.14 247.80 L319.00 248.51 L318.91 249.21 L318.98 249.92 L319.40 250.63 L319.98 251.34 L320.41 252.04 L320.50 252.75 L320.45 253.46 L320.38 254.16 L320.32 254.87 L320.30 255.58 L320.49 256.29 L320.94 256.99 L321.51 257.70 L322.04 258.41 L322.35 259.11 L322.37 259.82 L322.16 260.53 L321.84 261.24 L321.57 261.94 L321.49 262.65 L321.33 263.36 L320.96 264.06 L320.49 264.77 L320.01 265.48 L319.66 266.19 L319.50 266.89 L319.39 267.60 L319.01 268.31 L318.51 269.01 L318.09 269.72 L317.90 270.43 L317.70 271.14 L317.17 271.84 L316.70 272.55 L316.57 273.26 L316.31 273.96 L316.20 274.67 L316.14 275.38 L316.04 276.09 L315.94 276.79 L315.90 277.50 L315.90 277.50 L315.86 276.79 L315.76 276.09 L315.66 275.38 L315.60 274.67 L315.49 273.96 L315.23 273.26 L315.10 272.55 L314.63 271.84 L314.10 271.14 L313.90 270.43 L313.71 269.72 L313.29 269.01 L312.79 268.31 L312.41 267.60 L312.30 266.89 L312.14 266.19 L311.79 265.48 L311.31 264.77 L310.84 264.06 L310.47 263.36 L310.31 262.65 L310.23 261.94 L309.96 261.24 L309.64 260.53 L309.43 259.82 L309.45 259.11 L309.76 258.41 L310.29 257.70 L310.86 256.99 L311.31 256.29 L311.50 255.58 L311.48 254.87 L311.42 254.16 L311.35 253.46 L311.30 252.75 L311.39 252.04 L311.82 251.34 L312.40 250.63 L312.82 249.92 L312.89 249.21 L312.80 248.51 L312.66 247.80 L312.54 247.09 L312.51 246.39 L313.08 245.68 L313.89 244.97 L314.13 244.26 L314.52 243.56 L315.10 242.85 L315.44 242.14 L315.45 241.44 L315.47 240.73 L315.50 240.02 L315.53 239.31 L315.57 238.61 L315.60 237.90 L315.63 237.19 L315.65 236.49 L315.65 235.78 L315.66 235.07 L315.67 234.36 L315.70 233.66 L315.73 232.95 L315.76 232.24 L315.80 231.54 L315.83 230.83 L315.86 230.12 L315.88 229.41 L315.90 228.71 L315.90 228.00Z"/></clipPath>
<path d="M315.90 228.00 L315.90 228.71 L315.92 229.41 L315.94 230.12 L315.97 230.83 L316.00 231.54 L316.04 232.24 L316.07 232.95 L316.10 233.66 L316.13 234.36 L316.14 235.07 L316.15 235.78 L316.15 236.49 L316.17 237.19 L316.20 237.90 L316.23 238.61 L316.27 239.31 L316.30 240.02 L316.33 240.73 L316.35 241.44 L316.36 242.14 L316.70 242.85 L317.28 243.56 L317.67 244.26 L317.91 244.97 L318.72 245.68 L319.29 246.39 L319.26 247.09 L319.14 247.80 L319.00 248.51 L318.91 249.21 L318.98 249.92 L319.40 250.63 L319.98 251.34 L320.41 252.04 L320.50 252.75 L320.45 253.46 L320.38 254.16 L320.32 254.87 L320.30 255.58 L320.49 256.29 L320.94 256.99 L321.51 257.70 L322.04 258.41 L322.35 259.11 L322.37 259.82 L322.16 260.53 L321.84 261.24 L321.57 261.94 L321.49 262.65 L321.33 263.36 L320.96 264.06 L320.49 264.77 L320.01 265.48 L319.66 266.19 L319.50 266.89 L319.39 267.60 L319.01 268.31 L318.51 269.01 L318.09 269.72 L317.90 270.43 L317.70 271.14 L317.17 271.84 L316.70 272.55 L316.57 273.26 L316.31 273.96 L316.20 274.67 L316.14 275.38 L316.04 276.09 L315.94 276.79 L315.90 277.50 L315.90 277.50 L315.86 276.79 L315.76 276.09 L315.66 275.38 L315.60 274.67 L315.49 273.96 L315.23 273.26 L315.10 272.55 L314.63 271.84 L314.10 271.14 L313.90 270.43 L313.71 269.72 L313.29 269.01 L312.79 268.31 L312.41 267.60 L312.30 266.89 L312.14 266.19 L311.79 265.48 L311.31 264.77 L310.84 264.06 L310.47 263.36 L310.31 262.65 L310.23 261.94 L309.96 261.24 L309.64 260.53 L309.43 259.82 L309.45 259.11 L309.76 258.41 L310.29 257.70 L310.86 256.99 L311.31 256.29 L311.50 255.58 L311.48 254.87 L311.42 254.16 L311.35 253.46 L311.30 252.75 L311.39 252.04 L311.82 251.34 L312.40 250.63 L312.82 249.92 L312.89 249.21 L312.80 248.51 L312.66 247.80 L312.54 247.09 L312.51 246.39 L313.08 245.68 L313.89 244.97 L314.13 244.26 L314.52 243.56 L315.10 242.85 L315.44 242.14 L315.45 241.44 L315.47 240.73 L315.50 240.02 L315.53 239.31 L315.57 238.61 L315.60 237.90 L315.63 237.19 L315.65 236.49 L315.65 235.78 L315.66 235.07 L315.67 234.36 L315.70 233.66 L315.73 232.95 L315.76 232.24 L315.80 231.54 L315.83 230.83 L315.86 230.12 L315.88 229.41 L315.90 228.71 L315.90 228.00Z" fill="#fff" stroke="none"/>
<path d="M307.90 229.00h16 M308.90 230.75h16 M307.90 232.50h16 M308.90 234.25h16 M307.90 236.00h16 M308.90 237.75h16 M307.90 239.50h16 M308.90 241.25h16 M307.90 243.00h16 M308.90 244.75h16 M307.90 246.50h16 M308.90 248.25h16 M307.90 250.00h16 M308.90 251.75h16 M307.90 253.50h16 M308.90 255.25h16 M307.90 257.00h16 M308.90 258.75h16 M307.90 260.50h16 M308.90 262.25h16 M307.90 264.00h16 M308.90 265.75h16 M307.90 267.50h16 M308.90 269.25h16 M307.90 271.00h16 M308.90 272.75h16 M307.90 274.50h16 M308.90 276.25h16" clip-path="url(#vc2)" stroke="#6e6e6e" stroke-width="0.62" stroke-dasharray="1.5 0.5" fill="none"/>
<path d="M315.90 228.00 L315.90 228.71 L315.92 229.41 L315.94 230.12 L315.97 230.83 L316.00 231.54 L316.04 232.24 L316.07 232.95 L316.10 233.66 L316.13 234.36 L316.14 235.07 L316.15 235.78 L316.15 236.49 L316.17 237.19 L316.20 237.90 L316.23 238.61 L316.27 239.31 L316.30 240.02 L316.33 240.73 L316.35 241.44 L316.36 242.14 L316.70 242.85 L317.28 243.56 L317.67 244.26 L317.91 244.97 L318.72 245.68 L319.29 246.39 L319.26 247.09 L319.14 247.80 L319.00 248.51 L318.91 249.21 L318.98 249.92 L319.40 250.63 L319.98 251.34 L320.41 252.04 L320.50 252.75 L320.45 253.46 L320.38 254.16 L320.32 254.87 L320.30 255.58 L320.49 256.29 L320.94 256.99 L321.51 257.70 L322.04 258.41 L322.35 259.11 L322.37 259.82 L322.16 260.53 L321.84 261.24 L321.57 261.94 L321.49 262.65 L321.33 263.36 L320.96 264.06 L320.49 264.77 L320.01 265.48 L319.66 266.19 L319.50 266.89 L319.39 267.60 L319.01 268.31 L318.51 269.01 L318.09 269.72 L317.90 270.43 L317.70 271.14 L317.17 271.84 L316.70 272.55 L316.57 273.26 L316.31 273.96 L316.20 274.67 L316.14 275.38 L316.04 276.09 L315.94 276.79 L315.90 277.50 L315.90 277.50 L315.86 276.79 L315.76 276.09 L315.66 275.38 L315.60 274.67 L315.49 273.96 L315.23 273.26 L315.10 272.55 L314.63 271.84 L314.10 271.14 L313.90 270.43 L313.71 269.72 L313.29 269.01 L312.79 268.31 L312.41 267.60 L312.30 266.89 L312.14 266.19 L311.79 265.48 L311.31 264.77 L310.84 264.06 L310.47 263.36 L310.31 262.65 L310.23 261.94 L309.96 261.24 L309.64 260.53 L309.43 259.82 L309.45 259.11 L309.76 258.41 L310.29 257.70 L310.86 256.99 L311.31 256.29 L311.50 255.58 L311.48 254.87 L311.42 254.16 L311.35 253.46 L311.30 252.75 L311.39 252.04 L311.82 251.34 L312.40 250.63 L312.82 249.92 L312.89 249.21 L312.80 248.51 L312.66 247.80 L312.54 247.09 L312.51 246.39 L313.08 245.68 L313.89 244.97 L314.13 244.26 L314.52 243.56 L315.10 242.85 L315.44 242.14 L315.45 241.44 L315.47 240.73 L315.50 240.02 L315.53 239.31 L315.57 238.61 L315.60 237.90 L315.63 237.19 L315.65 236.49 L315.65 235.78 L315.66 235.07 L315.67 234.36 L315.70 233.66 L315.73 232.95 L315.76 232.24 L315.80 231.54 L315.83 230.83 L315.86 230.12 L315.88 229.41 L315.90 228.71 L315.90 228.00Z" fill="none" stroke="#2a2a2a" stroke-width="0.6" stroke-linejoin="round"/>
<line x1="311.42" y1="254.50" x2="320.38" y2="254.50" stroke="#333" stroke-width="0.5" stroke-dasharray="0.7 0.7"/>
<line x1="310.84" y1="264.00" x2="320.96" y2="264.00" stroke="#333" stroke-width="0.5" stroke-dasharray="0.7 0.7"/>
<line x1="309.43" y1="259.50" x2="322.37" y2="259.50" stroke="#111" stroke-width="0.8"/>
<clipPath id="vc3"><path d="M330.70 225.00 L330.71 225.66 L330.72 226.31 L330.75 226.97 L330.78 227.63 L330.81 228.29 L330.85 228.94 L330.88 229.60 L330.91 230.26 L330.94 230.91 L330.95 231.57 L330.95 232.23 L330.96 232.89 L330.98 233.54 L331.01 234.20 L331.04 234.86 L331.07 235.51 L331.09 236.17 L331.10 236.83 L331.24 237.49 L331.71 238.14 L332.08 238.80 L332.35 239.46 L333.28 240.11 L334.04 240.77 L334.13 241.43 L334.31 242.09 L334.58 242.74 L334.89 243.40 L335.14 244.06 L335.28 244.71 L335.32 245.37 L335.45 246.03 L335.68 246.69 L335.93 247.34 L336.15 248.00 L336.28 248.66 L336.31 249.31 L336.37 249.97 L336.49 250.63 L336.65 251.29 L336.81 251.94 L336.95 252.60 L337.06 253.26 L337.10 253.91 L337.07 254.57 L336.97 255.23 L336.83 255.89 L336.68 256.54 L336.56 257.20 L336.50 257.86 L336.48 258.51 L336.42 259.17 L336.33 259.83 L336.23 260.49 L336.14 261.14 L336.10 261.80 L336.04 262.46 L335.80 263.11 L335.46 263.77 L335.19 264.43 L335.09 265.09 L334.64 265.74 L333.83 266.40 L333.32 267.06 L332.70 267.71 L331.43 268.37 L331.16 269.03 L330.99 269.69 L330.82 270.34 L330.70 271.00 L330.70 271.00 L330.58 270.34 L330.41 269.69 L330.24 269.03 L329.97 268.37 L328.70 267.71 L328.08 267.06 L327.57 266.40 L326.76 265.74 L326.31 265.09 L326.21 264.43 L325.94 263.77 L325.60 263.11 L325.36 262.46 L325.30 261.80 L325.26 261.14 L325.17 260.49 L325.07 259.83 L324.98 259.17 L324.92 258.51 L324.90 257.86 L324.84 257.20 L324.72 256.54 L324.57 255.89 L324.43 255.23 L324.33 254.57 L324.30 253.91 L324.34 253.26 L324.45 252.60 L324.59 251.94 L324.75 251.29 L324.91 250.63 L325.03 249.97 L325.09 249.31 L325.12 248.66 L325.25 248.00 L325.47 247.34 L325.72 246.69 L325.95 246.03 L326.08 245.37 L326.12 244.71 L326.26 244.06 L326.51 243.40 L326.82 242.74 L327.09 242.09 L327.27 241.43 L327.36 240.77 L328.12 240.11 L329.05 239.46 L329.32 238.80 L329.69 238.14 L330.16 237.49 L330.30 236.83 L330.31 236.17 L330.33 235.51 L330.36 234.86 L330.39 234.20 L330.42 233.54 L330.44 232.89 L330.45 232.23 L330.45 231.57 L330.46 230.91 L330.49 230.26 L330.52 229.60 L330.55 228.94 L330.59 228.29 L330.62 227.63 L330.65 226.97 L330.68 226.31 L330.69 225.66 L330.70 225.00Z"/></clipPath>
<path d="M330.70 225.00 L330.71 225.66 L330.72 226.31 L330.75 226.97 L330.78 227.63 L330.81 228.29 L330.85 228.94 L330.88 229.60 L330.91 230.26 L330.94 230.91 L330.95 231.57 L330.95 232.23 L330.96 232.89 L330.98 233.54 L331.01 234.20 L331.04 234.86 L331.07 235.51 L331.09 236.17 L331.10 236.83 L331.24 237.49 L331.71 238.14 L332.08 238.80 L332.35 239.46 L333.28 240.11 L334.04 240.77 L334.13 241.43 L334.31 242.09 L334.58 242.74 L334.89 243.40 L335.14 244.06 L335.28 244.71 L335.32 245.37 L335.45 246.03 L335.68 246.69 L335.93 247.34 L336.15 248.00 L336.28 248.66 L336.31 249.31 L336.37 249.97 L336.49 250.63 L336.65 251.29 L336.81 251.94 L336.95 252.60 L337.06 253.26 L337.10 253.91 L337.07 254.57 L336.97 255.23 L336.83 255.89 L336.68 256.54 L336.56 257.20 L336.50 257.86 L336.48 258.51 L336.42 259.17 L336.33 259.83 L336.23 260.49 L336.14 261.14 L336.10 261.80 L336.04 262.46 L335.80 263.11 L335.46 263.77 L335.19 264.43 L335.09 265.09 L334.64 265.74 L333.83 266.40 L333.32 267.06 L332.70 267.71 L331.43 268.37 L331.16 269.03 L330.99 269.69 L330.82 270.34 L330.70 271.00 L330.70 271.00 L330.58 270.34 L330.41 269.69 L330.24 269.03 L329.97 268.37 L328.70 267.71 L328.08 267.06 L327.57 266.40 L326.76 265.74 L326.31 265.09 L326.21 264.43 L325.94 263.77 L325.60 263.11 L325.36 262.46 L325.30 261.80 L325.26 261.14 L325.17 260.49 L325.07 259.83 L324.98 259.17 L324.92 258.51 L324.90 257.86 L324.84 257.20 L324.72 256.54 L324.57 255.89 L324.43 255.23 L324.33 254.57 L324.30 253.91 L324.34 253.26 L324.45 252.60 L324.59 251.94 L324.75 251.29 L324.91 250.63 L325.03 249.97 L325.09 249.31 L325.12 248.66 L325.25 248.00 L325.47 247.34 L325.72 246.69 L325.95 246.03 L326.08 245.37 L326.12 244.71 L326.26 244.06 L326.51 243.40 L326.82 242.74 L327.09 242.09 L327.27 241.43 L327.36 240.77 L328.12 240.11 L329.05 239.46 L329.32 238.80 L329.69 238.14 L330.16 237.49 L330.30 236.83 L330.31 236.17 L330.33 235.51 L330.36 234.86 L330.39 234.20 L330.42 233.54 L330.44 232.89 L330.45 232.23 L330.45 231.57 L330.46 230.91 L330.49 230.26 L330.52 229.60 L330.55 228.94 L330.59 228.29 L330.62 227.63 L330.65 226.97 L330.68 226.31 L330.69 225.66 L330.70 225.00Z" fill="#6f86e6" stroke="none"/>
<path d="M322.70 226.00h16 M323.70 227.75h16 M322.70 229.50h16 M323.70 231.25h16 M322.70 233.00h16 M323.70 234.75h16 M322.70 236.50h16 M323.70 238.25h16 M322.70 240.00h16 M323.70 241.75h16 M322.70 243.50h16 M323.70 245.25h16 M322.70 247.00h16 M323.70 248.75h16 M322.70 250.50h16 M323.70 252.25h16 M322.70 254.00h16 M323.70 255.75h16 M322.70 257.50h16 M323.70 259.25h16 M322.70 261.00h16 M323.70 262.75h16 M322.70 264.50h16 M323.70 266.25h16 M322.70 268.00h16 M323.70 269.75h16" clip-path="url(#vc3)" stroke="#f4f6ff" stroke-width="0.8" stroke-dasharray="0.8 1.0" fill="none"/>
<path d="M330.70 225.00 L330.71 225.66 L330.72 226.31 L330.75 226.97 L330.78 227.63 L330.81 228.29 L330.85 228.94 L330.88 229.60 L330.91 230.26 L330.94 230.91 L330.95 231.57 L330.95 232.23 L330.96 232.89 L330.98 233.54 L331.01 234.20 L331.04 234.86 L331.07 235.51 L331.09 236.17 L331.10 236.83 L331.24 237.49 L331.71 238.14 L332.08 238.80 L332.35 239.46 L333.28 240.11 L334.04 240.77 L334.13 241.43 L334.31 242.09 L334.58 242.74 L334.89 243.40 L335.14 244.06 L335.28 244.71 L335.32 245.37 L335.45 246.03 L335.68 246.69 L335.93 247.34 L336.15 248.00 L336.28 248.66 L336.31 249.31 L336.37 249.97 L336.49 250.63 L336.65 251.29 L336.81 251.94 L336.95 252.60 L337.06 253.26 L337.10 253.91 L337.07 254.57 L336.97 255.23 L336.83 255.89 L336.68 256.54 L336.56 257.20 L336.50 257.86 L336.48 258.51 L336.42 259.17 L336.33 259.83 L336.23 260.49 L336.14 261.14 L336.10 261.80 L336.04 262.46 L335.80 263.11 L335.46 263.77 L335.19 264.43 L335.09 265.09 L334.64 265.74 L333.83 266.40 L333.32 267.06 L332.70 267.71 L331.43 268.37 L331.16 269.03 L330.99 269.69 L330.82 270.34 L330.70 271.00 L330.70 271.00 L330.58 270.34 L330.41 269.69 L330.24 269.03 L329.97 268.37 L328.70 267.71 L328.08 267.06 L327.57 266.40 L326.76 265.74 L326.31 265.09 L326.21 264.43 L325.94 263.77 L325.60 263.11 L325.36 262.46 L325.30 261.80 L325.26 261.14 L325.17 260.49 L325.07 259.83 L324.98 259.17 L324.92 258.51 L324.90 257.86 L324.84 257.20 L324.72 256.54 L324.57 255.89 L324.43 255.23 L324.33 254.57 L324.30 253.91 L324.34 253.26 L324.45 252.60 L324.59 251.94 L324.75 251.29 L324.91 250.63 L325.03 249.97 L325.09 249.31 L325.12 248.66 L325.25 248.00 L325.47 247.34 L325.72 246.69 L325.95 246.03 L326.08 245.37 L326.12 244.71 L326.26 244.06 L326.51 243.40 L326.82 242.74 L327.09 242.09 L327.27 241.43 L327.36 240.77 L328.12 240.11 L329.05 239.46 L329.32 238.80 L329.69 238.14 L330.16 237.49 L330.30 236.83 L330.31 236.17 L330.33 235.51 L330.36 234.86 L330.39 234.20 L330.42 233.54 L330.44 232.89 L330.45 232.23 L330.45 231.57 L330.46 230.91 L330.49 230.26 L330.52 229.60 L330.55 228.94 L330.59 228.29 L330.62 227.63 L330.65 226.97 L330.68 226.31 L330.69 225.66 L330.70 225.00Z" fill="none" stroke="#17247a" stroke-width="0.6" stroke-linejoin="round"/>
<line x1="325.12" y1="248.50" x2="336.28" y2="248.50" stroke="#1a2a90" stroke-width="0.5" stroke-dasharray="0.7 0.7"/>
<line x1="325.07" y1="260.00" x2="336.33" y2="260.00" stroke="#1a2a90" stroke-width="0.5" stroke-dasharray="0.7 0.7"/>
<line x1="324.30" y1="254.10" x2="337.10" y2="254.10" stroke="#111" stroke-width="0.8"/>
<clipPath id="vc4"><path d="M346.30 235.40 L346.33 236.14 L346.42 236.89 L346.54 237.63 L346.66 238.38 L346.76 239.12 L346.80 239.87 L346.83 240.61 L346.92 241.35 L347.06 242.10 L347.22 242.84 L347.37 243.59 L347.47 244.33 L347.50 245.08 L347.38 245.82 L347.13 246.56 L346.89 247.31 L346.80 248.05 L346.84 248.80 L346.93 249.54 L347.04 250.29 L347.14 251.03 L347.20 251.77 L347.17 252.52 L347.05 253.26 L346.90 254.01 L346.81 254.75 L346.81 255.50 L346.87 256.24 L346.95 256.98 L347.00 257.73 L347.07 258.47 L347.33 259.22 L347.50 259.96 L347.68 260.71 L348.16 261.45 L348.67 262.19 L348.90 262.94 L349.07 263.68 L349.55 264.43 L350.05 265.17 L350.30 265.92 L350.55 266.66 L351.30 267.40 L352.19 268.15 L352.80 268.89 L352.79 269.64 L351.86 270.38 L350.61 271.13 L349.92 271.87 L349.59 272.61 L348.65 273.36 L347.83 274.10 L347.63 274.85 L347.19 275.59 L346.81 276.34 L346.80 277.08 L346.81 277.82 L346.83 278.57 L346.85 279.31 L346.87 280.06 L346.89 280.80 L346.90 281.55 L346.89 282.29 L346.82 283.03 L346.71 283.78 L346.62 284.52 L346.59 285.27 L346.49 286.01 L346.36 286.76 L346.30 287.50 L346.30 287.50 L346.24 286.76 L346.11 286.01 L346.01 285.27 L345.98 284.52 L345.89 283.78 L345.78 283.03 L345.71 282.29 L345.70 281.55 L345.71 280.80 L345.73 280.06 L345.75 279.31 L345.77 278.57 L345.79 277.82 L345.80 277.08 L345.79 276.34 L345.41 275.59 L344.97 274.85 L344.77 274.10 L343.95 273.36 L343.01 272.61 L342.68 271.87 L341.99 271.13 L340.74 270.38 L339.81 269.64 L339.80 268.89 L340.41 268.15 L341.30 267.40 L342.05 266.66 L342.30 265.92 L342.55 265.17 L343.05 264.43 L343.53 263.68 L343.70 262.94 L343.93 262.19 L344.44 261.45 L344.92 260.71 L345.10 259.96 L345.27 259.22 L345.53 258.47 L345.60 257.73 L345.65 256.98 L345.73 256.24 L345.79 255.50 L345.79 254.75 L345.70 254.01 L345.55 253.26 L345.43 252.52 L345.40 251.77 L345.46 251.03 L345.56 250.29 L345.67 249.54 L345.76 248.80 L345.80 248.05 L345.71 247.31 L345.47 246.56 L345.22 245.82 L345.10 245.08 L345.13 244.33 L345.23 243.59 L345.38 242.84 L345.54 242.10 L345.68 241.35 L345.77 240.61 L345.80 239.87 L345.84 239.12 L345.94 238.38 L346.06 237.63 L346.18 236.89 L346.27 236.14 L346.30 235.40Z"/></clipPath>
<path d="M346.30 235.40 L346.33 236.14 L346.42 236.89 L346.54 237.63 L346.66 238.38 L346.76 239.12 L346.80 239.87 L346.83 240.61 L346.92 241.35 L347.06 242.10 L347.22 242.84 L347.37 243.59 L347.47 244.33 L347.50 245.08 L347.38 245.82 L347.13 246.56 L346.89 247.31 L346.80 248.05 L346.84 248.80 L346.93 249.54 L347.04 250.29 L347.14 251.03 L347.20 251.77 L347.17 252.52 L347.05 253.26 L346.90 254.01 L346.81 254.75 L346.81 255.50 L346.87 256.24 L346.95 256.98 L347.00 257.73 L347.07 258.47 L347.33 259.22 L347.50 259.96 L347.68 260.71 L348.16 261.45 L348.67 262.19 L348.90 262.94 L349.07 263.68 L349.55 264.43 L350.05 265.17 L350.30 265.92 L350.55 266.66 L351.30 267.40 L352.19 268.15 L352.80 268.89 L352.79 269.64 L351.86 270.38 L350.61 271.13 L349.92 271.87 L349.59 272.61 L348.65 273.36 L347.83 274.10 L347.63 274.85 L347.19 275.59 L346.81 276.34 L346.80 277.08 L346.81 277.82 L346.83 278.57 L346.85 279.31 L346.87 280.06 L346.89 280.80 L346.90 281.55 L346.89 282.29 L346.82 283.03 L346.71 283.78 L346.62 284.52 L346.59 285.27 L346.49 286.01 L346.36 286.76 L346.30 287.50 L346.30 287.50 L346.24 286.76 L346.11 286.01 L346.01 285.27 L345.98 284.52 L345.89 283.78 L345.78 283.03 L345.71 282.29 L345.70 281.55 L345.71 280.80 L345.73 280.06 L345.75 279.31 L345.77 278.57 L345.79 277.82 L345.80 277.08 L345.79 276.34 L345.41 275.59 L344.97 274.85 L344.77 274.10 L343.95 273.36 L343.01 272.61 L342.68 271.87 L341.99 271.13 L340.74 270.38 L339.81 269.64 L339.80 268.89 L340.41 268.15 L341.30 267.40 L342.05 266.66 L342.30 265.92 L342.55 265.17 L343.05 264.43 L343.53 263.68 L343.70 262.94 L343.93 262.19 L344.44 261.45 L344.92 260.71 L345.10 259.96 L345.27 259.22 L345.53 258.47 L345.60 257.73 L345.65 256.98 L345.73 256.24 L345.79 255.50 L345.79 254.75 L345.70 254.01 L345.55 253.26 L345.43 252.52 L345.40 251.77 L345.46 251.03 L345.56 250.29 L345.67 249.54 L345.76 248.80 L345.80 248.05 L345.71 247.31 L345.47 246.56 L345.22 245.82 L345.10 245.08 L345.13 244.33 L345.23 243.59 L345.38 242.84 L345.54 242.10 L345.68 241.35 L345.77 240.61 L345.80 239.87 L345.84 239.12 L345.94 238.38 L346.06 237.63 L346.18 236.89 L346.27 236.14 L346.30 235.40Z" fill="#fff" stroke="none"/>
<path d="M338.30 236.40h16 M339.30 238.15h16 M338.30 239.90h16 M339.30 241.65h16 M338.30 243.40h16 M339.30 245.15h16 M338.30 246.90h16 M339.30 248.65h16 M338.30 250.40h16 M339.30 252.15h16 M338.30 253.90h16 M339.30 255.65h16 M338.30 257.40h16 M339.30 259.15h16 M338.30 260.90h16 M339.30 262.65h16 M338.30 264.40h16 M339.30 266.15h16 M338.30 267.90h16 M339.30 269.65h16 M338.30 271.40h16 M339.30 273.15h16 M338.30 274.90h16 M339.30 276.65h16 M338.30 278.40h16 M339.30 280.15h16 M338.30 281.90h16 M339.30 283.65h16 M338.30 285.40h16 M339.30 287.15h16" clip-path="url(#vc4)" stroke="#6e6e6e" stroke-width="0.62" stroke-dasharray="1.5 0.5" fill="none"/>
<path d="M346.30 235.40 L346.33 236.14 L346.42 236.89 L346.54 237.63 L346.66 238.38 L346.76 239.12 L346.80 239.87 L346.83 240.61 L346.92 241.35 L347.06 242.10 L347.22 242.84 L347.37 243.59 L347.47 244.33 L347.50 245.08 L347.38 245.82 L347.13 246.56 L346.89 247.31 L346.80 248.05 L346.84 248.80 L346.93 249.54 L347.04 250.29 L347.14 251.03 L347.20 251.77 L347.17 252.52 L347.05 253.26 L346.90 254.01 L346.81 254.75 L346.81 255.50 L346.87 256.24 L346.95 256.98 L347.00 257.73 L347.07 258.47 L347.33 259.22 L347.50 259.96 L347.68 260.71 L348.16 261.45 L348.67 262.19 L348.90 262.94 L349.07 263.68 L349.55 264.43 L350.05 265.17 L350.30 265.92 L350.55 266.66 L351.30 267.40 L352.19 268.15 L352.80 268.89 L352.79 269.64 L351.86 270.38 L350.61 271.13 L349.92 271.87 L349.59 272.61 L348.65 273.36 L347.83 274.10 L347.63 274.85 L347.19 275.59 L346.81 276.34 L346.80 277.08 L346.81 277.82 L346.83 278.57 L346.85 279.31 L346.87 280.06 L346.89 280.80 L346.90 281.55 L346.89 282.29 L346.82 283.03 L346.71 283.78 L346.62 284.52 L346.59 285.27 L346.49 286.01 L346.36 286.76 L346.30 287.50 L346.30 287.50 L346.24 286.76 L346.11 286.01 L346.01 285.27 L345.98 284.52 L345.89 283.78 L345.78 283.03 L345.71 282.29 L345.70 281.55 L345.71 280.80 L345.73 280.06 L345.75 279.31 L345.77 278.57 L345.79 277.82 L345.80 277.08 L345.79 276.34 L345.41 275.59 L344.97 274.85 L344.77 274.10 L343.95 273.36 L343.01 272.61 L342.68 271.87 L341.99 271.13 L340.74 270.38 L339.81 269.64 L339.80 268.89 L340.41 268.15 L341.30 267.40 L342.05 266.66 L342.30 265.92 L342.55 265.17 L343.05 264.43 L343.53 263.68 L343.70 262.94 L343.93 262.19 L344.44 261.45 L344.92 260.71 L345.10 259.96 L345.27 259.22 L345.53 258.47 L345.60 257.73 L345.65 256.98 L345.73 256.24 L345.79 255.50 L345.79 254.75 L345.70 254.01 L345.55 253.26 L345.43 252.52 L345.40 251.77 L345.46 251.03 L345.56 250.29 L345.67 249.54 L345.76 248.80 L345.80 248.05 L345.71 247.31 L345.47 246.56 L345.22 245.82 L345.10 245.08 L345.13 244.33 L345.23 243.59 L345.38 242.84 L345.54 242.10 L345.68 241.35 L345.77 240.61 L345.80 239.87 L345.84 239.12 L345.94 238.38 L346.06 237.63 L346.18 236.89 L346.27 236.14 L346.30 235.40Z" fill="none" stroke="#2a2a2a" stroke-width="0.6" stroke-linejoin="round"/>
<line x1="342.55" y1="265.50" x2="350.05" y2="265.50" stroke="#333" stroke-width="0.5" stroke-dasharray="0.7 0.7"/>
<line x1="342.68" y1="271.60" x2="349.92" y2="271.60" stroke="#333" stroke-width="0.5" stroke-dasharray="0.7 0.7"/>
<line x1="339.81" y1="269.30" x2="352.79" y2="269.30" stroke="#111" stroke-width="0.8"/>
<clipPath id="vc5"><path d="M360.60 237.80 L360.61 238.42 L360.65 239.03 L360.70 239.65 L360.76 240.27 L360.81 240.89 L360.84 241.50 L360.85 242.12 L360.90 242.74 L360.99 243.35 L361.07 243.97 L361.10 244.59 L361.34 245.21 L361.81 245.82 L362.25 246.44 L362.40 247.06 L362.62 247.67 L363.10 248.29 L363.67 248.91 L364.09 249.53 L364.21 250.14 L364.39 250.76 L364.78 251.38 L365.30 251.99 L365.81 252.61 L366.20 253.23 L366.39 253.85 L366.43 254.46 L366.55 255.08 L366.73 255.70 L366.92 256.31 L367.06 256.93 L367.10 257.55 L367.02 258.17 L366.83 258.78 L366.58 259.40 L366.33 260.02 L366.16 260.63 L366.10 261.25 L366.18 261.87 L366.36 262.49 L366.60 263.10 L366.79 263.72 L366.90 264.34 L366.81 264.95 L366.45 265.57 L365.91 266.19 L365.35 266.81 L364.94 267.42 L364.80 268.04 L364.70 268.66 L364.43 269.27 L364.07 269.89 L363.69 270.51 L363.38 271.13 L363.22 271.74 L363.16 272.36 L362.91 272.98 L362.51 273.59 L362.08 274.21 L361.74 274.83 L361.60 275.45 L361.47 276.06 L361.15 276.68 L360.92 277.30 L360.89 277.91 L360.84 278.53 L360.76 279.15 L360.68 279.77 L360.62 280.38 L360.60 281.00 L360.60 281.00 L360.58 280.38 L360.52 279.77 L360.44 279.15 L360.36 278.53 L360.31 277.91 L360.28 277.30 L360.05 276.68 L359.73 276.06 L359.60 275.45 L359.46 274.83 L359.12 274.21 L358.69 273.59 L358.29 272.98 L358.04 272.36 L357.98 271.74 L357.82 271.13 L357.51 270.51 L357.13 269.89 L356.77 269.27 L356.50 268.66 L356.40 268.04 L356.26 267.42 L355.85 266.81 L355.29 266.19 L354.75 265.57 L354.39 264.95 L354.30 264.34 L354.41 263.72 L354.60 263.10 L354.84 262.49 L355.02 261.87 L355.10 261.25 L355.04 260.63 L354.87 260.02 L354.62 259.40 L354.37 258.78 L354.18 258.17 L354.10 257.55 L354.14 256.93 L354.28 256.31 L354.47 255.70 L354.65 255.08 L354.77 254.46 L354.81 253.85 L355.00 253.23 L355.39 252.61 L355.90 251.99 L356.42 251.38 L356.81 250.76 L356.99 250.14 L357.11 249.53 L357.53 248.91 L358.10 248.29 L358.58 247.67 L358.80 247.06 L358.95 246.44 L359.39 245.82 L359.86 245.21 L360.10 244.59 L360.13 243.97 L360.21 243.35 L360.30 242.74 L360.35 242.12 L360.36 241.50 L360.39 240.89 L360.44 240.27 L360.50 239.65 L360.55 239.03 L360.59 238.42 L360.60 237.80Z"/></clipPath>
<path d="M360.60 237.80 L360.61 238.42 L360.65 239.03 L360.70 239.65 L360.76 240.27 L360.81 240.89 L360.84 241.50 L360.85 242.12 L360.90 242.74 L360.99 243.35 L361.07 243.97 L361.10 244.59 L361.34 245.21 L361.81 245.82 L362.25 246.44 L362.40 247.06 L362.62 247.67 L363.10 248.29 L363.67 248.91 L364.09 249.53 L364.21 250.14 L364.39 250.76 L364.78 251.38 L365.30 251.99 L365.81 252.61 L366.20 253.23 L366.39 253.85 L366.43 254.46 L366.55 255.08 L366.73 255.70 L366.92 256.31 L367.06 256.93 L367.10 257.55 L367.02 258.17 L366.83 258.78 L366.58 259.40 L366.33 260.02 L366.16 260.63 L366.10 261.25 L366.18 261.87 L366.36 262.49 L366.60 263.10 L366.79 263.72 L366.90 264.34 L366.81 264.95 L366.45 265.57 L365.91 266.19 L365.35 266.81 L364.94 267.42 L364.80 268.04 L364.70 268.66 L364.43 269.27 L364.07 269.89 L363.69 270.51 L363.38 271.13 L363.22 271.74 L363.16 272.36 L362.91 272.98 L362.51 273.59 L362.08 274.21 L361.74 274.83 L361.60 275.45 L361.47 276.06 L361.15 276.68 L360.92 277.30 L360.89 277.91 L360.84 278.53 L360.76 279.15 L360.68 279.77 L360.62 280.38 L360.60 281.00 L360.60 281.00 L360.58 280.38 L360.52 279.77 L360.44 279.15 L360.36 278.53 L360.31 277.91 L360.28 277.30 L360.05 276.68 L359.73 276.06 L359.60 275.45 L359.46 274.83 L359.12 274.21 L358.69 273.59 L358.29 272.98 L358.04 272.36 L357.98 271.74 L357.82 271.13 L357.51 270.51 L357.13 269.89 L356.77 269.27 L356.50 268.66 L356.40 268.04 L356.26 267.42 L355.85 266.81 L355.29 266.19 L354.75 265.57 L354.39 264.95 L354.30 264.34 L354.41 263.72 L354.60 263.10 L354.84 262.49 L355.02 261.87 L355.10 261.25 L355.04 260.63 L354.87 260.02 L354.62 259.40 L354.37 258.78 L354.18 258.17 L354.10 257.55 L354.14 256.93 L354.28 256.31 L354.47 255.70 L354.65 255.08 L354.77 254.46 L354.81 253.85 L355.00 253.23 L355.39 252.61 L355.90 251.99 L356.42 251.38 L356.81 250.76 L356.99 250.14 L357.11 249.53 L357.53 248.91 L358.10 248.29 L358.58 247.67 L358.80 247.06 L358.95 246.44 L359.39 245.82 L359.86 245.21 L360.10 244.59 L360.13 243.97 L360.21 243.35 L360.30 242.74 L360.35 242.12 L360.36 241.50 L360.39 240.89 L360.44 240.27 L360.50 239.65 L360.55 239.03 L360.59 238.42 L360.60 237.80Z" fill="#fff" stroke="none"/>
<path d="M352.60 238.80h16 M353.60 240.55h16 M352.60 242.30h16 M353.60 244.05h16 M352.60 245.80h16 M353.60 247.55h16 M352.60 249.30h16 M353.60 251.05h16 M352.60 252.80h16 M353.60 254.55h16 M352.60 256.30h16 M353.60 258.05h16 M352.60 259.80h16 M353.60 261.55h16 M352.60 263.30h16 M353.60 265.05h16 M352.60 266.80h16 M353.60 268.55h16 M352.60 270.30h16 M353.60 272.05h16 M352.60 273.80h16 M353.60 275.55h16 M352.60 277.30h16 M353.60 279.05h16 M352.60 280.80h16" clip-path="url(#vc5)" stroke="#6e6e6e" stroke-width="0.62" stroke-dasharray="1.5 0.5" fill="none"/>
<path d="M360.60 237.80 L360.61 238.42 L360.65 239.03 L360.70 239.65 L360.76 240.27 L360.81 240.89 L360.84 241.50 L360.85 242.12 L360.90 242.74 L360.99 243.35 L361.07 243.97 L361.10 244.59 L361.34 245.21 L361.81 245.82 L362.25 246.44 L362.40 247.06 L362.62 247.67 L363.10 248.29 L363.67 248.91 L364.09 249.53 L364.21 250.14 L364.39 250.76 L364.78 251.38 L365.30 251.99 L365.81 252.61 L366.20 253.23 L366.39 253.85 L366.43 254.46 L366.55 255.08 L366.73 255.70 L366.92 256.31 L367.06 256.93 L367.10 257.55 L367.02 258.17 L366.83 258.78 L366.58 259.40 L366.33 260.02 L366.16 260.63 L366.10 261.25 L366.18 261.87 L366.36 262.49 L366.60 263.10 L366.79 263.72 L366.90 264.34 L366.81 264.95 L366.45 265.57 L365.91 266.19 L365.35 266.81 L364.94 267.42 L364.80 268.04 L364.70 268.66 L364.43 269.27 L364.07 269.89 L363.69 270.51 L363.38 271.13 L363.22 271.74 L363.16 272.36 L362.91 272.98 L362.51 273.59 L362.08 274.21 L361.74 274.83 L361.60 275.45 L361.47 276.06 L361.15 276.68 L360.92 277.30 L360.89 277.91 L360.84 278.53 L360.76 279.15 L360.68 279.77 L360.62 280.38 L360.60 281.00 L360.60 281.00 L360.58 280.38 L360.52 279.77 L360.44 279.15 L360.36 278.53 L360.31 277.91 L360.28 277.30 L360.05 276.68 L359.73 276.06 L359.60 275.45 L359.46 274.83 L359.12 274.21 L358.69 273.59 L358.29 272.98 L358.04 272.36 L357.98 271.74 L357.82 271.13 L357.51 270.51 L357.13 269.89 L356.77 269.27 L356.50 268.66 L356.40 268.04 L356.26 267.42 L355.85 266.81 L355.29 266.19 L354.75 265.57 L354.39 264.95 L354.30 264.34 L354.41 263.72 L354.60 263.10 L354.84 262.49 L355.02 261.87 L355.10 261.25 L355.04 260.63 L354.87 260.02 L354.62 259.40 L354.37 258.78 L354.18 258.17 L354.10 257.55 L354.14 256.93 L354.28 256.31 L354.47 255.70 L354.65 255.08 L354.77 254.46 L354.81 253.85 L355.00 253.23 L355.39 252.61 L355.90 251.99 L356.42 251.38 L356.81 250.76 L356.99 250.14 L357.11 249.53 L357.53 248.91 L358.10 248.29 L358.58 247.67 L358.80 247.06 L358.95 246.44 L359.39 245.82 L359.86 245.21 L360.10 244.59 L360.13 243.97 L360.21 243.35 L360.30 242.74 L360.35 242.12 L360.36 241.50 L360.39 240.89 L360.44 240.27 L360.50 239.65 L360.55 239.03 L360.59 238.42 L360.60 237.80Z" fill="none" stroke="#2a2a2a" stroke-width="0.6" stroke-linejoin="round"/>
<line x1="354.65" y1="255.00" x2="366.55" y2="255.00" stroke="#333" stroke-width="0.5" stroke-dasharray="0.7 0.7"/>
<line x1="355.29" y1="266.00" x2="365.91" y2="266.00" stroke="#333" stroke-width="0.5" stroke-dasharray="0.7 0.7"/>
<line x1="355.10" y1="261.10" x2="366.10" y2="261.10" stroke="#111" stroke-width="0.8"/>
<clipPath id="vc6"><path d="M375.50 233.60 L375.54 234.32 L375.63 235.03 L375.75 235.75 L375.83 236.47 L375.86 237.19 L376.05 237.90 L376.38 238.62 L376.69 239.34 L376.80 240.05 L376.68 240.77 L376.40 241.49 L376.13 242.21 L376.00 242.92 L376.02 243.64 L376.10 244.36 L376.21 245.07 L376.32 245.79 L376.39 246.51 L376.41 247.23 L376.53 247.94 L376.75 248.66 L376.94 249.38 L377.00 250.09 L376.88 250.81 L376.64 251.53 L376.40 252.25 L376.30 252.96 L376.36 253.68 L376.52 254.40 L376.70 255.11 L376.80 255.83 L376.95 256.55 L377.46 257.27 L377.97 257.98 L378.14 258.70 L378.88 259.42 L379.76 260.13 L380.10 260.85 L381.32 261.57 L382.10 262.29 L381.64 263.00 L380.66 263.72 L380.10 264.44 L379.81 265.15 L379.06 265.87 L378.42 266.59 L378.24 267.31 L377.73 268.02 L377.04 268.74 L376.70 269.46 L376.58 270.17 L376.29 270.89 L376.04 271.61 L376.01 272.33 L376.05 273.04 L376.13 273.76 L376.19 274.48 L376.21 275.19 L376.43 275.91 L376.78 276.63 L376.99 277.35 L376.89 278.06 L376.53 278.78 L376.19 279.50 L376.10 280.21 L376.02 280.93 L375.86 281.65 L375.69 282.37 L375.55 283.08 L375.50 283.80 L375.50 283.80 L375.45 283.08 L375.31 282.37 L375.14 281.65 L374.98 280.93 L374.90 280.21 L374.81 279.50 L374.47 278.78 L374.11 278.06 L374.01 277.35 L374.22 276.63 L374.57 275.91 L374.79 275.19 L374.81 274.48 L374.87 273.76 L374.95 273.04 L374.99 272.33 L374.96 271.61 L374.71 270.89 L374.42 270.17 L374.30 269.46 L373.96 268.74 L373.27 268.02 L372.76 267.31 L372.58 266.59 L371.94 265.87 L371.19 265.15 L370.90 264.44 L370.34 263.72 L369.36 263.00 L368.90 262.29 L369.68 261.57 L370.90 260.85 L371.24 260.13 L372.12 259.42 L372.86 258.70 L373.03 257.98 L373.54 257.27 L374.05 256.55 L374.20 255.83 L374.30 255.11 L374.48 254.40 L374.64 253.68 L374.70 252.96 L374.60 252.25 L374.36 251.53 L374.12 250.81 L374.00 250.09 L374.06 249.38 L374.25 248.66 L374.47 247.94 L374.59 247.23 L374.61 246.51 L374.68 245.79 L374.79 245.07 L374.90 244.36 L374.98 243.64 L375.00 242.92 L374.87 242.21 L374.60 241.49 L374.32 240.77 L374.20 240.05 L374.31 239.34 L374.62 238.62 L374.95 237.90 L375.14 237.19 L375.17 236.47 L375.25 235.75 L375.37 235.03 L375.46 234.32 L375.50 233.60Z"/></clipPath>
<path d="M375.50 233.60 L375.54 234.32 L375.63 235.03 L375.75 235.75 L375.83 236.47 L375.86 237.19 L376.05 237.90 L376.38 238.62 L376.69 239.34 L376.80 240.05 L376.68 240.77 L376.40 241.49 L376.13 242.21 L376.00 242.92 L376.02 243.64 L376.10 244.36 L376.21 245.07 L376.32 245.79 L376.39 246.51 L376.41 247.23 L376.53 247.94 L376.75 248.66 L376.94 249.38 L377.00 250.09 L376.88 250.81 L376.64 251.53 L376.40 252.25 L376.30 252.96 L376.36 253.68 L376.52 254.40 L376.70 255.11 L376.80 255.83 L376.95 256.55 L377.46 257.27 L377.97 257.98 L378.14 258.70 L378.88 259.42 L379.76 260.13 L380.10 260.85 L381.32 261.57 L382.10 262.29 L381.64 263.00 L380.66 263.72 L380.10 264.44 L379.81 265.15 L379.06 265.87 L378.42 266.59 L378.24 267.31 L377.73 268.02 L377.04 268.74 L376.70 269.46 L376.58 270.17 L376.29 270.89 L376.04 271.61 L376.01 272.33 L376.05 273.04 L376.13 273.76 L376.19 274.48 L376.21 275.19 L376.43 275.91 L376.78 276.63 L376.99 277.35 L376.89 278.06 L376.53 278.78 L376.19 279.50 L376.10 280.21 L376.02 280.93 L375.86 281.65 L375.69 282.37 L375.55 283.08 L375.50 283.80 L375.50 283.80 L375.45 283.08 L375.31 282.37 L375.14 281.65 L374.98 280.93 L374.90 280.21 L374.81 279.50 L374.47 278.78 L374.11 278.06 L374.01 277.35 L374.22 276.63 L374.57 275.91 L374.79 275.19 L374.81 274.48 L374.87 273.76 L374.95 273.04 L374.99 272.33 L374.96 271.61 L374.71 270.89 L374.42 270.17 L374.30 269.46 L373.96 268.74 L373.27 268.02 L372.76 267.31 L372.58 266.59 L371.94 265.87 L371.19 265.15 L370.90 264.44 L370.34 263.72 L369.36 263.00 L368.90 262.29 L369.68 261.57 L370.90 260.85 L371.24 260.13 L372.12 259.42 L372.86 258.70 L373.03 257.98 L373.54 257.27 L374.05 256.55 L374.20 255.83 L374.30 255.11 L374.48 254.40 L374.64 253.68 L374.70 252.96 L374.60 252.25 L374.36 251.53 L374.12 250.81 L374.00 250.09 L374.06 249.38 L374.25 248.66 L374.47 247.94 L374.59 247.23 L374.61 246.51 L374.68 245.79 L374.79 245.07 L374.90 244.36 L374.98 243.64 L375.00 242.92 L374.87 242.21 L374.60 241.49 L374.32 240.77 L374.20 240.05 L374.31 239.34 L374.62 238.62 L374.95 237.90 L375.14 237.19 L375.17 236.47 L375.25 235.75 L375.37 235.03 L375.46 234.32 L375.50 233.60Z" fill="#6f86e6" stroke="none"/>
<path d="M367.50 234.60h16 M368.50 236.35h16 M367.50 238.10h16 M368.50 239.85h16 M367.50 241.60h16 M368.50 243.35h16 M367.50 245.10h16 M368.50 246.85h16 M367.50 248.60h16 M368.50 250.35h16 M367.50 252.10h16 M368.50 253.85h16 M367.50 255.60h16 M368.50 257.35h16 M367.50 259.10h16 M368.50 260.85h16 M367.50 262.60h16 M368.50 264.35h16 M367.50 266.10h16 M368.50 267.85h16 M367.50 269.60h16 M368.50 271.35h16 M367.50 273.10h16 M368.50 274.85h16 M367.50 276.60h16 M368.50 278.35h16 M367.50 280.10h16 M368.50 281.85h16 M367.50 283.60h16" clip-path="url(#vc6)" stroke="#f4f6ff" stroke-width="0.8" stroke-dasharray="0.8 1.0" fill="none"/>
<path d="M375.50 233.60 L375.54 234.32 L375.63 235.03 L375.75 235.75 L375.83 236.47 L375.86 237.19 L376.05 237.90 L376.38 238.62 L376.69 239.34 L376.80 240.05 L376.68 240.77 L376.40 241.49 L376.13 242.21 L376.00 242.92 L376.02 243.64 L376.10 244.36 L376.21 245.07 L376.32 245.79 L376.39 246.51 L376.41 247.23 L376.53 247.94 L376.75 248.66 L376.94 249.38 L377.00 250.09 L376.88 250.81 L376.64 251.53 L376.40 252.25 L376.30 252.96 L376.36 253.68 L376.52 254.40 L376.70 255.11 L376.80 255.83 L376.95 256.55 L377.46 257.27 L377.97 257.98 L378.14 258.70 L378.88 259.42 L379.76 260.13 L380.10 260.85 L381.32 261.57 L382.10 262.29 L381.64 263.00 L380.66 263.72 L380.10 264.44 L379.81 265.15 L379.06 265.87 L378.42 266.59 L378.24 267.31 L377.73 268.02 L377.04 268.74 L376.70 269.46 L376.58 270.17 L376.29 270.89 L376.04 271.61 L376.01 272.33 L376.05 273.04 L376.13 273.76 L376.19 274.48 L376.21 275.19 L376.43 275.91 L376.78 276.63 L376.99 277.35 L376.89 278.06 L376.53 278.78 L376.19 279.50 L376.10 280.21 L376.02 280.93 L375.86 281.65 L375.69 282.37 L375.55 283.08 L375.50 283.80 L375.50 283.80 L375.45 283.08 L375.31 282.37 L375.14 281.65 L374.98 280.93 L374.90 280.21 L374.81 279.50 L374.47 278.78 L374.11 278.06 L374.01 277.35 L374.22 276.63 L374.57 275.91 L374.79 275.19 L374.81 274.48 L374.87 273.76 L374.95 273.04 L374.99 272.33 L374.96 271.61 L374.71 270.89 L374.42 270.17 L374.30 269.46 L373.96 268.74 L373.27 268.02 L372.76 267.31 L372.58 266.59 L371.94 265.87 L371.19 265.15 L370.90 264.44 L370.34 263.72 L369.36 263.00 L368.90 262.29 L369.68 261.57 L370.90 260.85 L371.24 260.13 L372.12 259.42 L372.86 258.70 L373.03 257.98 L373.54 257.27 L374.05 256.55 L374.20 255.83 L374.30 255.11 L374.48 254.40 L374.64 253.68 L374.70 252.96 L374.60 252.25 L374.36 251.53 L374.12 250.81 L374.00 250.09 L374.06 249.38 L374.25 248.66 L374.47 247.94 L374.59 247.23 L374.61 246.51 L374.68 245.79 L374.79 245.07 L374.90 244.36 L374.98 243.64 L375.00 242.92 L374.87 242.21 L374.60 241.49 L374.32 240.77 L374.20 240.05 L374.31 239.34 L374.62 238.62 L374.95 237.90 L375.14 237.19 L375.17 236.47 L375.25 235.75 L375.37 235.03 L375.46 234.32 L375.50 233.60Z" fill="none" stroke="#17247a" stroke-width="0.6" stroke-linejoin="round"/>
<line x1="372.86" y1="259.00" x2="378.14" y2="259.00" stroke="#1a2a90" stroke-width="0.5" stroke-dasharray="0.7 0.7"/>
<line x1="371.19" y1="265.40" x2="379.81" y2="265.40" stroke="#1a2a90" stroke-width="0.5" stroke-dasharray="0.7 0.7"/>
<line x1="368.90" y1="262.30" x2="382.10" y2="262.30" stroke="#111" stroke-width="0.8"/>
<line x1="292.30" y1="219.15" x2="292.30" y2="310.75" stroke="#3a3a3a" stroke-width="0.65"/>
<line x1="288.90" y1="219.50" x2="292.30" y2="219.50" stroke="#3a3a3a" stroke-width="0.65"/>
<text x="284.10" y="223.15" font-size="9.4" text-anchor="end" fill="#000" stroke="#000" stroke-width="0.12">50</text>
<line x1="288.90" y1="237.70" x2="292.30" y2="237.70" stroke="#3a3a3a" stroke-width="0.65"/>
<text x="284.10" y="241.35" font-size="9.4" text-anchor="end" fill="#000" stroke="#000" stroke-width="0.12">40</text>
<line x1="288.90" y1="255.90" x2="292.30" y2="255.90" stroke="#3a3a3a" stroke-width="0.65"/>
<text x="284.10" y="259.55" font-size="9.4" text-anchor="end" fill="#000" stroke="#000" stroke-width="0.12">30</text>
<line x1="288.90" y1="274.00" x2="292.30" y2="274.00" stroke="#3a3a3a" stroke-width="0.65"/>
<text x="284.10" y="277.65" font-size="9.4" text-anchor="end" fill="#000" stroke="#000" stroke-width="0.12">20</text>
<line x1="288.90" y1="292.20" x2="292.30" y2="292.20" stroke="#3a3a3a" stroke-width="0.65"/>
<text x="284.10" y="295.85" font-size="9.4" text-anchor="end" fill="#000" stroke="#000" stroke-width="0.12">10</text>
<line x1="288.90" y1="310.40" x2="292.30" y2="310.40" stroke="#3a3a3a" stroke-width="0.65"/>
<text x="284.10" y="314.05" font-size="9.4" text-anchor="end" fill="#000" stroke="#000" stroke-width="0.12">0</text>
<line x1="289.10" y1="310.40" x2="383.80" y2="310.40" stroke="#3a3a3a" stroke-width="0.65"/>
<line x1="338.40" y1="218.50" x2="338.40" y2="310.40" stroke="#333" stroke-width="0.6" stroke-dasharray="1.6 1.0"/>
<text x="350.40" y="185.70" font-size="9.4" text-anchor="middle" fill="#000" stroke="#000" stroke-width="0.12">&lt;0.0001</text>
<line x1="328.30" y1="189.00" x2="372.70" y2="189.00" stroke="#8a8a8a" stroke-width="1.0"/>
<text x="335.30" y="196.60" font-size="9.4" text-anchor="middle" fill="#000" stroke="#000" stroke-width="0.12">0.2385</text>
<line x1="313.60" y1="200.45" x2="358.00" y2="200.45" stroke="#444" stroke-width="0.75"/>
<text x="321.00" y="208.40" font-size="9.4" text-anchor="middle" fill="#000" stroke="#000" stroke-width="0.12">0.0025</text>
<line x1="298.40" y1="211.40" x2="343.50" y2="211.40" stroke="#444" stroke-width="0.75"/>
<text x="320.60" y="220.20" font-size="9.4" text-anchor="middle" fill="#000" stroke="#000" stroke-width="0.12">0.0335</text>
<line x1="313.00" y1="222.80" x2="327.60" y2="222.80" stroke="#444" stroke-width="0.75"/>
<text x="364.90" y="220.20" font-size="9.4" text-anchor="middle" fill="#000" stroke="#000" stroke-width="0.12">&gt;0.9999</text>
<line x1="358.00" y1="222.80" x2="372.70" y2="222.80" stroke="#444" stroke-width="0.75"/>
<text x="253.80" y="265.00" font-size="9.4" text-anchor="middle" transform="rotate(-90 253.80 265.00)" fill="#000" stroke="#000" stroke-width="0.12">Mean CD11c staining intensity</text>
<text x="265.50" y="265.30" font-size="9.4" text-anchor="middle" transform="rotate(-90 265.50 265.30)" fill="#000" stroke="#000" stroke-width="0.12">(arbitrary units)</text>
<g transform="translate(320.60 322.50) rotate(-45)"><text x="-46.77" y="0" font-size="9.4" fill="#000" stroke="#000" stroke-width="0.12">TC1</text><path d="M-25.81 -2.91 L-18.41 -2.91" stroke="#222" stroke-width="0.6" fill="none"/><path d="M-20.11 -4.51 L-17.81 -2.91 L-20.11 -1.31" stroke="#222" stroke-width="0.6" fill="none" stroke-linejoin="miter"/><text x="-14.61" y="0" font-size="9.4" fill="#000" stroke="#000" stroke-width="0.12">WT</text></g>
<g transform="translate(367.80 322.50) rotate(-45)"><text x="-63.26" y="0" font-size="9.4" fill="#000" stroke="#000" stroke-width="0.12">TC1</text><path d="M-42.30 -2.91 L-34.90 -2.91" stroke="#222" stroke-width="0.6" fill="none"/><path d="M-36.60 -4.51 L-34.30 -2.91 L-36.60 -1.31" stroke="#222" stroke-width="0.6" fill="none" stroke-linejoin="miter"/><text x="-31.10" y="0" font-size="9.4" fill="#000" stroke="#000" stroke-width="0.12"><tspan font-style="italic">Cd44<tspan font-size="6.2" dy="-4.89">–/–</tspan><tspan dy="4.89" font-size="9.4">&#8203;</tspan></tspan></text></g>
<text x="401.80" y="183.50" font-size="13" font-weight="bold" fill="#000" stroke="#000" stroke-width="0.4" stroke-linejoin="round">e</text>
<rect x="441.40" y="237.20" width="11.40" height="73.60" fill="#e9e9e9" stroke="#2e2e2e" stroke-width="0.58"/>
<rect x="455.40" y="284.20" width="11.40" height="26.60" fill="#cdd6fb" stroke="#2e2e2e" stroke-width="0.58"/>
<rect x="469.60" y="237.20" width="11.40" height="73.60" fill="#e9e9e9" stroke="#2e2e2e" stroke-width="0.58"/>
<rect x="483.50" y="288.40" width="11.00" height="22.40" fill="#cdd6fb" stroke="#2e2e2e" stroke-width="0.58"/>
<rect x="497.30" y="234.90" width="11.20" height="75.90" fill="#e9e9e9" stroke="#2e2e2e" stroke-width="0.58"/>
<rect x="511.40" y="233.40" width="11.20" height="77.40" fill="#cdd6fb" stroke="#2e2e2e" stroke-width="0.58"/>
<line x1="439.50" y1="218.75" x2="439.50" y2="311.15" stroke="#3a3a3a" stroke-width="0.65"/>
<line x1="436.10" y1="219.10" x2="439.50" y2="219.10" stroke="#3a3a3a" stroke-width="0.65"/>
<text x="432.50" y="222.75" font-size="9.4" text-anchor="end" fill="#000" stroke="#000" stroke-width="0.12">10<tspan font-size="6.2" dy="-4.89">5</tspan><tspan dy="4.89" font-size="9.4">&#8203;</tspan></text>
<line x1="436.10" y1="242.00" x2="439.50" y2="242.00" stroke="#3a3a3a" stroke-width="0.65"/>
<text x="432.50" y="245.65" font-size="9.4" text-anchor="end" fill="#000" stroke="#000" stroke-width="0.12">10<tspan font-size="6.2" dy="-4.89">4</tspan><tspan dy="4.89" font-size="9.4">&#8203;</tspan></text>
<line x1="436.10" y1="264.90" x2="439.50" y2="264.90" stroke="#3a3a3a" stroke-width="0.65"/>
<text x="432.50" y="268.55" font-size="9.4" text-anchor="end" fill="#000" stroke="#000" stroke-width="0.12">10<tspan font-size="6.2" dy="-4.89">3</tspan><tspan dy="4.89" font-size="9.4">&#8203;</tspan></text>
<line x1="436.10" y1="287.90" x2="439.50" y2="287.90" stroke="#3a3a3a" stroke-width="0.65"/>
<text x="432.50" y="291.55" font-size="9.4" text-anchor="end" fill="#000" stroke="#000" stroke-width="0.12">10<tspan font-size="6.2" dy="-4.89">2</tspan><tspan dy="4.89" font-size="9.4">&#8203;</tspan></text>
<line x1="436.10" y1="310.80" x2="439.50" y2="310.80" stroke="#3a3a3a" stroke-width="0.65"/>
<text x="432.50" y="314.45" font-size="9.4" text-anchor="end" fill="#000" stroke="#000" stroke-width="0.12">10<tspan font-size="6.2" dy="-4.89">1</tspan><tspan dy="4.89" font-size="9.4">&#8203;</tspan></text>
<line x1="436.30" y1="310.80" x2="524.40" y2="310.80" stroke="#3a3a3a" stroke-width="0.65"/>
<line x1="439.50" y1="290.30" x2="524.40" y2="290.30" stroke="#111" stroke-width="0.8" stroke-dasharray="1.6 1.1"/>
<line x1="468.30" y1="218.50" x2="468.30" y2="310.80" stroke="#5a5a5a" stroke-width="0.6" stroke-dasharray="2.6 1.3"/>
<line x1="496.00" y1="218.50" x2="496.00" y2="310.80" stroke="#5a5a5a" stroke-width="0.6" stroke-dasharray="2.6 1.3"/>
<line x1="447.10" y1="236.20" x2="447.10" y2="238.10" stroke="#333" stroke-width="0.65"/>
<line x1="444.00" y1="236.20" x2="450.20" y2="236.20" stroke="#333" stroke-width="0.65"/>
<line x1="444.00" y1="238.10" x2="450.20" y2="238.10" stroke="#333" stroke-width="0.65"/>
<line x1="461.10" y1="281.80" x2="461.10" y2="286.70" stroke="#4058d0" stroke-width="0.65"/>
<line x1="458.00" y1="281.80" x2="464.20" y2="281.80" stroke="#4058d0" stroke-width="0.65"/>
<line x1="458.00" y1="286.70" x2="464.20" y2="286.70" stroke="#4058d0" stroke-width="0.65"/>
<line x1="475.30" y1="233.60" x2="475.30" y2="240.60" stroke="#333" stroke-width="0.65"/>
<line x1="472.20" y1="233.60" x2="478.40" y2="233.60" stroke="#333" stroke-width="0.65"/>
<line x1="472.20" y1="240.60" x2="478.40" y2="240.60" stroke="#333" stroke-width="0.65"/>
<line x1="489.00" y1="285.20" x2="489.00" y2="290.90" stroke="#4058d0" stroke-width="0.65"/>
<line x1="485.90" y1="285.20" x2="492.10" y2="285.20" stroke="#4058d0" stroke-width="0.65"/>
<line x1="485.90" y1="290.90" x2="492.10" y2="290.90" stroke="#4058d0" stroke-width="0.65"/>
<line x1="502.90" y1="232.10" x2="502.90" y2="236.20" stroke="#333" stroke-width="0.65"/>
<line x1="499.80" y1="232.10" x2="506.00" y2="232.10" stroke="#333" stroke-width="0.65"/>
<line x1="499.80" y1="236.20" x2="506.00" y2="236.20" stroke="#333" stroke-width="0.65"/>
<line x1="517.00" y1="231.10" x2="517.00" y2="235.50" stroke="#4058d0" stroke-width="0.65"/>
<line x1="513.90" y1="231.10" x2="520.10" y2="231.10" stroke="#4058d0" stroke-width="0.65"/>
<line x1="513.90" y1="235.50" x2="520.10" y2="235.50" stroke="#4058d0" stroke-width="0.65"/>
<circle cx="447.06" cy="230.72" r="1.5" fill="#3a3a3a" stroke="none" stroke-width="0"/>
<circle cx="443.26" cy="236.80" r="1.5" fill="#3a3a3a" stroke="none" stroke-width="0"/>
<circle cx="445.54" cy="237.37" r="1.5" fill="#3a3a3a" stroke="none" stroke-width="0"/>
<circle cx="447.82" cy="237.37" r="1.5" fill="#3a3a3a" stroke="none" stroke-width="0"/>
<circle cx="449.72" cy="237.37" r="1.5" fill="#3a3a3a" stroke="none" stroke-width="0"/>
<circle cx="451.61" cy="237.37" r="1.5" fill="#3a3a3a" stroke="none" stroke-width="0"/>
<circle cx="444.59" cy="238.69" r="1.5" fill="#3a3a3a" stroke="none" stroke-width="0"/>
<circle cx="448.96" cy="238.69" r="1.5" fill="#3a3a3a" stroke="none" stroke-width="0"/>
<circle cx="447.06" cy="252.36" r="1.5" fill="#3a3a3a" stroke="none" stroke-width="0"/>
<circle cx="459.77" cy="277.21" r="1.5" fill="#0b1fa6" stroke="none" stroke-width="0"/>
<circle cx="463.00" cy="276.08" r="1.5" fill="#0b1fa6" stroke="none" stroke-width="0"/>
<circle cx="458.82" cy="287.08" r="1.5" fill="#0b1fa6" stroke="none" stroke-width="0"/>
<circle cx="461.67" cy="286.70" r="1.5" fill="#0b1fa6" stroke="none" stroke-width="0"/>
<circle cx="465.46" cy="286.70" r="1.5" fill="#0b1fa6" stroke="none" stroke-width="0"/>
<circle cx="456.93" cy="290.31" r="1.5" fill="#0b1fa6" stroke="none" stroke-width="0"/>
<circle cx="461.10" cy="290.31" r="1.5" fill="#0b1fa6" stroke="none" stroke-width="0"/>
<circle cx="465.09" cy="290.88" r="1.5" fill="#0b1fa6" stroke="none" stroke-width="0"/>
<circle cx="456.93" cy="292.39" r="1.5" fill="#0b1fa6" stroke="none" stroke-width="0"/>
<circle cx="475.33" cy="224.84" r="1.5" fill="#3a3a3a" stroke="none" stroke-width="0"/>
<circle cx="475.33" cy="233.95" r="1.5" fill="#3a3a3a" stroke="none" stroke-width="0"/>
<circle cx="472.11" cy="240.59" r="1.5" fill="#3a3a3a" stroke="none" stroke-width="0"/>
<circle cx="477.42" cy="241.16" r="1.5" fill="#3a3a3a" stroke="none" stroke-width="0"/>
<circle cx="475.33" cy="245.72" r="1.5" fill="#3a3a3a" stroke="none" stroke-width="0"/>
<circle cx="473.06" cy="251.60" r="1.5" fill="#3a3a3a" stroke="none" stroke-width="0"/>
<circle cx="477.42" cy="251.03" r="1.5" fill="#3a3a3a" stroke="none" stroke-width="0"/>
<circle cx="475.33" cy="238.69" r="1.5" fill="#3a3a3a" stroke="none" stroke-width="0"/>
<circle cx="473.62" cy="243.44" r="1.5" fill="#3a3a3a" stroke="none" stroke-width="0"/>
<circle cx="488.80" cy="278.54" r="1.5" fill="#0b1fa6" stroke="none" stroke-width="0"/>
<circle cx="485.39" cy="288.03" r="1.5" fill="#0b1fa6" stroke="none" stroke-width="0"/>
<circle cx="487.67" cy="287.65" r="1.5" fill="#0b1fa6" stroke="none" stroke-width="0"/>
<circle cx="490.13" cy="288.03" r="1.5" fill="#0b1fa6" stroke="none" stroke-width="0"/>
<circle cx="492.60" cy="288.41" r="1.5" fill="#0b1fa6" stroke="none" stroke-width="0"/>
<circle cx="486.34" cy="289.93" r="1.5" fill="#0b1fa6" stroke="none" stroke-width="0"/>
<circle cx="489.18" cy="289.93" r="1.5" fill="#0b1fa6" stroke="none" stroke-width="0"/>
<circle cx="491.46" cy="290.31" r="1.5" fill="#0b1fa6" stroke="none" stroke-width="0"/>
<circle cx="488.24" cy="292.20" r="1.5" fill="#0b1fa6" stroke="none" stroke-width="0"/>
<circle cx="502.85" cy="225.41" r="1.5" fill="#3a3a3a" stroke="none" stroke-width="0"/>
<circle cx="499.62" cy="234.90" r="1.5" fill="#3a3a3a" stroke="none" stroke-width="0"/>
<circle cx="502.09" cy="235.47" r="1.5" fill="#3a3a3a" stroke="none" stroke-width="0"/>
<circle cx="504.74" cy="234.90" r="1.5" fill="#3a3a3a" stroke="none" stroke-width="0"/>
<circle cx="507.21" cy="235.47" r="1.5" fill="#3a3a3a" stroke="none" stroke-width="0"/>
<circle cx="500.57" cy="236.80" r="1.5" fill="#3a3a3a" stroke="none" stroke-width="0"/>
<circle cx="503.42" cy="237.37" r="1.5" fill="#3a3a3a" stroke="none" stroke-width="0"/>
<circle cx="506.26" cy="236.80" r="1.5" fill="#3a3a3a" stroke="none" stroke-width="0"/>
<circle cx="517.08" cy="224.46" r="1.5" fill="#0b1fa6" stroke="none" stroke-width="0"/>
<circle cx="513.28" cy="233.57" r="1.5" fill="#0b1fa6" stroke="none" stroke-width="0"/>
<circle cx="516.13" cy="233.00" r="1.5" fill="#0b1fa6" stroke="none" stroke-width="0"/>
<circle cx="519.54" cy="233.00" r="1.5" fill="#0b1fa6" stroke="none" stroke-width="0"/>
<circle cx="521.44" cy="233.57" r="1.5" fill="#0b1fa6" stroke="none" stroke-width="0"/>
<circle cx="513.85" cy="235.85" r="1.5" fill="#0b1fa6" stroke="none" stroke-width="0"/>
<circle cx="518.03" cy="236.23" r="1.5" fill="#0b1fa6" stroke="none" stroke-width="0"/>
<circle cx="520.49" cy="236.80" r="1.5" fill="#0b1fa6" stroke="none" stroke-width="0"/>
<circle cx="515.75" cy="240.02" r="1.5" fill="#0b1fa6" stroke="none" stroke-width="0"/>
<text x="451.70" y="216.90" font-size="9.4" text-anchor="middle" fill="#000" stroke="#000" stroke-width="0.12">0.0003</text>
<line x1="447.80" y1="219.70" x2="461.10" y2="219.70" stroke="#444" stroke-width="0.75"/>
<text x="483.50" y="216.90" font-size="9.4" text-anchor="middle" fill="#000" stroke="#000" stroke-width="0.12">0.0002</text>
<line x1="474.60" y1="219.70" x2="487.90" y2="219.70" stroke="#444" stroke-width="0.75"/>
<text x="514.80" y="216.90" font-size="9.4" text-anchor="middle" fill="#000" stroke="#000" stroke-width="0.12">0.3823</text>
<line x1="502.50" y1="219.70" x2="516.10" y2="219.70" stroke="#444" stroke-width="0.75"/>
<text x="411.20" y="265.70" font-size="9.4" text-anchor="middle" transform="rotate(-90 411.20 265.70)" fill="#000" stroke="#000" stroke-width="0.12">PFU per spleen</text>
<g transform="translate(458.30 322.50) rotate(-45)"><text x="-48.34" y="0" font-size="9.4" fill="#000" stroke="#000" stroke-width="0.12">gScr</text><path d="M-25.81 -2.91 L-18.41 -2.91" stroke="#222" stroke-width="0.6" fill="none"/><path d="M-20.11 -4.51 L-17.81 -2.91 L-20.11 -1.31" stroke="#222" stroke-width="0.6" fill="none" stroke-linejoin="miter"/><text x="-14.61" y="0" font-size="9.4" fill="#000" stroke="#000" stroke-width="0.12">WT</text></g>
<g transform="translate(486.50 322.50) rotate(-45)"><text x="-56.71" y="0" font-size="9.4" fill="#000" stroke="#000" stroke-width="0.12">g<tspan font-style="italic">Cd44</tspan></text><path d="M-25.81 -2.91 L-18.41 -2.91" stroke="#222" stroke-width="0.6" fill="none"/><path d="M-20.11 -4.51 L-17.81 -2.91 L-20.11 -1.31" stroke="#222" stroke-width="0.6" fill="none" stroke-linejoin="miter"/><text x="-14.61" y="0" font-size="9.4" fill="#000" stroke="#000" stroke-width="0.12">WT</text></g>
<g transform="translate(514.50 322.50) rotate(-45)"><text x="-64.83" y="0" font-size="9.4" fill="#000" stroke="#000" stroke-width="0.12">gScr</text><path d="M-42.30 -2.91 L-34.90 -2.91" stroke="#222" stroke-width="0.6" fill="none"/><path d="M-36.60 -4.51 L-34.30 -2.91 L-36.60 -1.31" stroke="#222" stroke-width="0.6" fill="none" stroke-linejoin="miter"/><text x="-31.10" y="0" font-size="9.4" fill="#000" stroke="#000" stroke-width="0.12"><tspan font-style="italic">Cd44<tspan font-size="6.2" dy="-4.89">–/–</tspan><tspan dy="4.89" font-size="9.4">&#8203;</tspan></tspan></text></g>
<text x="541.80" y="183.90" font-size="13" font-weight="bold" fill="#000" stroke="#000" stroke-width="0.4" stroke-linejoin="round">f</text>
<rect x="611.40" y="172.40" width="14.30" height="7.70" fill="#fff" stroke="#333" stroke-width="0.7"/>
<rect x="611.40" y="182.50" width="14.30" height="7.70" fill="#e9e9e9" stroke="#333" stroke-width="0.7"/>
<rect x="611.40" y="192.50" width="14.30" height="7.70" fill="#cdd6fb" stroke="#3b4fc0" stroke-width="0.7"/>
<text x="629.80" y="179.80" font-size="9.4" fill="#000" stroke="#000" stroke-width="0.12">Naive</text>
<text x="629.80" y="189.80" font-size="9.4" fill="#000" stroke="#000" stroke-width="0.12">MCMV</text>
<text x="629.80" y="199.80" font-size="9.4" fill="#000" stroke="#000" stroke-width="0.12">ΔvCD44BP</text>
<rect x="585.40" y="298.50" width="9.20" height="12.00" fill="#e9e9e9" stroke="#2e2e2e" stroke-width="0.58"/>
<rect x="597.00" y="264.30" width="9.60" height="46.20" fill="#cdd6fb" stroke="#2e2e2e" stroke-width="0.58"/>
<rect x="620.40" y="302.60" width="9.40" height="7.90" fill="#e9e9e9" stroke="#2e2e2e" stroke-width="0.58"/>
<rect x="632.20" y="281.00" width="9.40" height="29.50" fill="#cdd6fb" stroke="#2e2e2e" stroke-width="0.58"/>
<rect x="655.40" y="301.10" width="9.40" height="9.40" fill="#e9e9e9" stroke="#2e2e2e" stroke-width="0.58"/>
<rect x="667.00" y="296.30" width="9.90" height="14.20" fill="#cdd6fb" stroke="#2e2e2e" stroke-width="0.58"/>
<line x1="571.30" y1="218.85" x2="571.30" y2="310.85" stroke="#3a3a3a" stroke-width="0.65"/>
<line x1="567.90" y1="219.20" x2="571.30" y2="219.20" stroke="#3a3a3a" stroke-width="0.65"/>
<text x="563.10" y="222.85" font-size="9.4" text-anchor="end" fill="#000" stroke="#000" stroke-width="0.12">4</text>
<line x1="567.90" y1="242.00" x2="571.30" y2="242.00" stroke="#3a3a3a" stroke-width="0.65"/>
<text x="563.10" y="245.65" font-size="9.4" text-anchor="end" fill="#000" stroke="#000" stroke-width="0.12">3</text>
<line x1="567.90" y1="264.90" x2="571.30" y2="264.90" stroke="#3a3a3a" stroke-width="0.65"/>
<text x="563.10" y="268.55" font-size="9.4" text-anchor="end" fill="#000" stroke="#000" stroke-width="0.12">2</text>
<line x1="567.90" y1="287.70" x2="571.30" y2="287.70" stroke="#3a3a3a" stroke-width="0.65"/>
<text x="563.10" y="291.35" font-size="9.4" text-anchor="end" fill="#000" stroke="#000" stroke-width="0.12">1</text>
<line x1="567.90" y1="310.50" x2="571.30" y2="310.50" stroke="#3a3a3a" stroke-width="0.65"/>
<text x="563.10" y="314.15" font-size="9.4" text-anchor="end" fill="#000" stroke="#000" stroke-width="0.12">0</text>
<line x1="568.10" y1="310.50" x2="678.40" y2="310.50" stroke="#3a3a3a" stroke-width="0.65"/>
<line x1="607.40" y1="218.50" x2="607.40" y2="310.50" stroke="#3b52c8" stroke-width="0.65" stroke-dasharray="2.6 1.3"/>
<line x1="642.50" y1="218.50" x2="642.50" y2="310.50" stroke="#3b52c8" stroke-width="0.65" stroke-dasharray="2.6 1.3"/>
<line x1="590.00" y1="295.60" x2="590.00" y2="300.70" stroke="#333" stroke-width="0.65"/>
<line x1="586.90" y1="295.60" x2="593.10" y2="295.60" stroke="#333" stroke-width="0.65"/>
<line x1="586.90" y1="300.70" x2="593.10" y2="300.70" stroke="#333" stroke-width="0.65"/>
<line x1="601.80" y1="258.00" x2="601.80" y2="270.40" stroke="#4058d0" stroke-width="0.65"/>
<line x1="598.70" y1="258.00" x2="604.90" y2="258.00" stroke="#4058d0" stroke-width="0.65"/>
<line x1="598.70" y1="270.40" x2="604.90" y2="270.40" stroke="#4058d0" stroke-width="0.65"/>
<line x1="625.10" y1="301.50" x2="625.10" y2="304.40" stroke="#333" stroke-width="0.65"/>
<line x1="622.00" y1="301.50" x2="628.20" y2="301.50" stroke="#333" stroke-width="0.65"/>
<line x1="622.00" y1="304.40" x2="628.20" y2="304.40" stroke="#333" stroke-width="0.65"/>
<line x1="636.90" y1="277.50" x2="636.90" y2="284.00" stroke="#4058d0" stroke-width="0.65"/>
<line x1="633.80" y1="277.50" x2="640.00" y2="277.50" stroke="#4058d0" stroke-width="0.65"/>
<line x1="633.80" y1="284.00" x2="640.00" y2="284.00" stroke="#4058d0" stroke-width="0.65"/>
<line x1="660.10" y1="298.90" x2="660.10" y2="303.30" stroke="#333" stroke-width="0.65"/>
<line x1="657.00" y1="298.90" x2="663.20" y2="298.90" stroke="#333" stroke-width="0.65"/>
<line x1="657.00" y1="303.30" x2="663.20" y2="303.30" stroke="#333" stroke-width="0.65"/>
<line x1="672.00" y1="295.60" x2="672.00" y2="298.90" stroke="#4058d0" stroke-width="0.65"/>
<line x1="668.90" y1="295.60" x2="675.10" y2="295.60" stroke="#4058d0" stroke-width="0.65"/>
<line x1="668.90" y1="298.90" x2="675.10" y2="298.90" stroke="#4058d0" stroke-width="0.65"/>
<circle cx="575.07" cy="310.30" r="1.1" fill="#3a3a3a" stroke="none" stroke-width="0"/>
<circle cx="577.26" cy="310.30" r="1.1" fill="#3a3a3a" stroke="none" stroke-width="0"/>
<circle cx="579.45" cy="310.30" r="1.1" fill="#3a3a3a" stroke="none" stroke-width="0"/>
<circle cx="581.64" cy="310.30" r="1.1" fill="#3a3a3a" stroke="none" stroke-width="0"/>
<circle cx="588.21" cy="290.15" r="1.5" fill="#3a3a3a" stroke="none" stroke-width="0"/>
<circle cx="591.93" cy="289.06" r="1.5" fill="#3a3a3a" stroke="none" stroke-width="0"/>
<circle cx="587.11" cy="298.47" r="1.5" fill="#3a3a3a" stroke="none" stroke-width="0"/>
<circle cx="590.18" cy="299.35" r="1.5" fill="#3a3a3a" stroke="none" stroke-width="0"/>
<circle cx="593.02" cy="298.91" r="1.5" fill="#3a3a3a" stroke="none" stroke-width="0"/>
<circle cx="589.30" cy="303.29" r="1.5" fill="#3a3a3a" stroke="none" stroke-width="0"/>
<circle cx="592.37" cy="302.85" r="1.5" fill="#3a3a3a" stroke="none" stroke-width="0"/>
<circle cx="588.21" cy="307.23" r="1.5" fill="#3a3a3a" stroke="none" stroke-width="0"/>
<circle cx="592.37" cy="306.58" r="1.5" fill="#3a3a3a" stroke="none" stroke-width="0"/>
<circle cx="601.78" cy="241.33" r="1.5" fill="#0b1fa6" stroke="none" stroke-width="0"/>
<circle cx="601.78" cy="247.89" r="1.5" fill="#0b1fa6" stroke="none" stroke-width="0"/>
<circle cx="601.78" cy="251.18" r="1.5" fill="#0b1fa6" stroke="none" stroke-width="0"/>
<circle cx="599.16" cy="275.92" r="1.5" fill="#0b1fa6" stroke="none" stroke-width="0"/>
<circle cx="602.88" cy="275.92" r="1.5" fill="#0b1fa6" stroke="none" stroke-width="0"/>
<circle cx="605.72" cy="278.11" r="1.5" fill="#0b1fa6" stroke="none" stroke-width="0"/>
<circle cx="598.50" cy="279.21" r="1.5" fill="#0b1fa6" stroke="none" stroke-width="0"/>
<circle cx="601.78" cy="278.77" r="1.5" fill="#0b1fa6" stroke="none" stroke-width="0"/>
<circle cx="610.10" cy="310.30" r="1.1" fill="#3a3a3a" stroke="none" stroke-width="0"/>
<circle cx="612.29" cy="310.30" r="1.1" fill="#3a3a3a" stroke="none" stroke-width="0"/>
<circle cx="614.48" cy="310.30" r="1.1" fill="#3a3a3a" stroke="none" stroke-width="0"/>
<circle cx="616.67" cy="310.30" r="1.1" fill="#3a3a3a" stroke="none" stroke-width="0"/>
<circle cx="621.93" cy="301.10" r="1.5" fill="#3a3a3a" stroke="none" stroke-width="0"/>
<circle cx="625.21" cy="300.01" r="1.5" fill="#3a3a3a" stroke="none" stroke-width="0"/>
<circle cx="628.06" cy="301.54" r="1.5" fill="#3a3a3a" stroke="none" stroke-width="0"/>
<circle cx="622.58" cy="303.73" r="1.5" fill="#3a3a3a" stroke="none" stroke-width="0"/>
<circle cx="625.87" cy="303.29" r="1.5" fill="#3a3a3a" stroke="none" stroke-width="0"/>
<circle cx="628.72" cy="303.73" r="1.5" fill="#3a3a3a" stroke="none" stroke-width="0"/>
<circle cx="623.68" cy="307.67" r="1.5" fill="#3a3a3a" stroke="none" stroke-width="0"/>
<circle cx="626.96" cy="306.58" r="1.5" fill="#3a3a3a" stroke="none" stroke-width="0"/>
<circle cx="636.82" cy="267.60" r="1.5" fill="#0b1fa6" stroke="none" stroke-width="0"/>
<circle cx="636.82" cy="271.54" r="1.5" fill="#0b1fa6" stroke="none" stroke-width="0"/>
<circle cx="635.28" cy="278.11" r="1.5" fill="#0b1fa6" stroke="none" stroke-width="0"/>
<circle cx="639.66" cy="280.30" r="1.5" fill="#0b1fa6" stroke="none" stroke-width="0"/>
<circle cx="634.19" cy="283.15" r="1.5" fill="#0b1fa6" stroke="none" stroke-width="0"/>
<circle cx="637.91" cy="283.58" r="1.5" fill="#0b1fa6" stroke="none" stroke-width="0"/>
<circle cx="636.82" cy="289.06" r="1.5" fill="#0b1fa6" stroke="none" stroke-width="0"/>
<circle cx="636.82" cy="297.82" r="1.5" fill="#0b1fa6" stroke="none" stroke-width="0"/>
<circle cx="645.14" cy="310.30" r="1.1" fill="#3a3a3a" stroke="none" stroke-width="0"/>
<circle cx="648.42" cy="310.30" r="1.1" fill="#3a3a3a" stroke="none" stroke-width="0"/>
<circle cx="651.71" cy="310.30" r="1.1" fill="#3a3a3a" stroke="none" stroke-width="0"/>
<circle cx="660.25" cy="293.44" r="1.5" fill="#3a3a3a" stroke="none" stroke-width="0"/>
<circle cx="656.09" cy="297.16" r="1.5" fill="#3a3a3a" stroke="none" stroke-width="0"/>
<circle cx="663.75" cy="297.16" r="1.5" fill="#3a3a3a" stroke="none" stroke-width="0"/>
<circle cx="657.62" cy="300.66" r="1.5" fill="#3a3a3a" stroke="none" stroke-width="0"/>
<circle cx="660.90" cy="301.10" r="1.5" fill="#3a3a3a" stroke="none" stroke-width="0"/>
<circle cx="663.09" cy="302.20" r="1.5" fill="#3a3a3a" stroke="none" stroke-width="0"/>
<circle cx="658.71" cy="304.39" r="1.5" fill="#3a3a3a" stroke="none" stroke-width="0"/>
<circle cx="662.00" cy="305.04" r="1.5" fill="#3a3a3a" stroke="none" stroke-width="0"/>
<circle cx="670.32" cy="291.69" r="1.5" fill="#0b1fa6" stroke="none" stroke-width="0"/>
<circle cx="672.95" cy="291.69" r="1.5" fill="#0b1fa6" stroke="none" stroke-width="0"/>
<circle cx="668.57" cy="296.72" r="1.5" fill="#0b1fa6" stroke="none" stroke-width="0"/>
<circle cx="671.85" cy="296.28" r="1.5" fill="#0b1fa6" stroke="none" stroke-width="0"/>
<circle cx="675.14" cy="297.16" r="1.5" fill="#0b1fa6" stroke="none" stroke-width="0"/>
<circle cx="669.66" cy="298.91" r="1.5" fill="#0b1fa6" stroke="none" stroke-width="0"/>
<circle cx="674.04" cy="300.01" r="1.5" fill="#0b1fa6" stroke="none" stroke-width="0"/>
<circle cx="671.19" cy="303.29" r="1.5" fill="#0b1fa6" stroke="none" stroke-width="0"/>
<circle cx="671.85" cy="305.92" r="1.5" fill="#0b1fa6" stroke="none" stroke-width="0"/>
<text x="592.20" y="222.70" font-size="9.4" text-anchor="middle" fill="#000" stroke="#000" stroke-width="0.12">0.0003</text>
<line x1="589.70" y1="226.20" x2="601.80" y2="226.20" stroke="#444" stroke-width="0.75"/>
<text x="627.50" y="222.70" font-size="9.4" text-anchor="middle" fill="#000" stroke="#000" stroke-width="0.12">0.0002</text>
<line x1="625.20" y1="226.20" x2="636.80" y2="226.20" stroke="#444" stroke-width="0.75"/>
<text x="667.20" y="222.70" font-size="9.4" text-anchor="middle" fill="#000" stroke="#000" stroke-width="0.12">0.1049</text>
<line x1="660.20" y1="226.20" x2="671.90" y2="226.20" stroke="#444" stroke-width="0.75"/>
<text x="551.00" y="265.50" font-size="9.4" text-anchor="middle" transform="rotate(-90 551.00 265.50)" fill="#000" stroke="#000" stroke-width="0.12">M45<tspan font-size="6.2" dy="-4.89">+</tspan><tspan dy="4.89" font-size="9.4">&#8203;</tspan> CD8 T cells (×10<tspan font-size="6.2" dy="-4.89">5</tspan><tspan dy="4.89" font-size="9.4">&#8203;</tspan>)</text>
<g transform="translate(595.00 322.50) rotate(-45)"><text x="-48.34" y="0" font-size="9.4" fill="#000" stroke="#000" stroke-width="0.12">gScr</text><path d="M-25.81 -2.91 L-18.41 -2.91" stroke="#222" stroke-width="0.6" fill="none"/><path d="M-20.11 -4.51 L-17.81 -2.91 L-20.11 -1.31" stroke="#222" stroke-width="0.6" fill="none" stroke-linejoin="miter"/><text x="-14.61" y="0" font-size="9.4" fill="#000" stroke="#000" stroke-width="0.12">WT</text></g>
<g transform="translate(631.00 322.50) rotate(-45)"><text x="-56.71" y="0" font-size="9.4" fill="#000" stroke="#000" stroke-width="0.12">g<tspan font-style="italic">Cd44</tspan></text><path d="M-25.81 -2.91 L-18.41 -2.91" stroke="#222" stroke-width="0.6" fill="none"/><path d="M-20.11 -4.51 L-17.81 -2.91 L-20.11 -1.31" stroke="#222" stroke-width="0.6" fill="none" stroke-linejoin="miter"/><text x="-14.61" y="0" font-size="9.4" fill="#000" stroke="#000" stroke-width="0.12">WT</text></g>
<g transform="translate(666.00 322.50) rotate(-45)"><text x="-64.83" y="0" font-size="9.4" fill="#000" stroke="#000" stroke-width="0.12">gScr</text><path d="M-42.30 -2.91 L-34.90 -2.91" stroke="#222" stroke-width="0.6" fill="none"/><path d="M-36.60 -4.51 L-34.30 -2.91 L-36.60 -1.31" stroke="#222" stroke-width="0.6" fill="none" stroke-linejoin="miter"/><text x="-31.10" y="0" font-size="9.4" fill="#000" stroke="#000" stroke-width="0.12"><tspan font-style="italic">Cd44<tspan font-size="6.2" dy="-4.89">–/–</tspan><tspan dy="4.89" font-size="9.4">&#8203;</tspan></tspan></text></g>
<defs><radialGradient id="belly" cx="50%" cy="50%" r="50%"><stop offset="0" stop-color="#f1eeec"/><stop offset="0.7" stop-color="#ebe6e2"/><stop offset="1" stop-color="#e0d8d2" stop-opacity="0"/></radialGradient></defs>
<text x="-0.80" y="389.70" font-size="13" font-weight="bold" fill="#000" stroke="#000" stroke-width="0.4" stroke-linejoin="round">g</text>
<g transform="translate(0.00 0.00)"><path d="M66.0 474 L66.3 499 L68.9 499 L69.2 474Z" fill="#e6b3ae"/><path d="M57.4 473.0 L56.6 475.8 L48.0 477.7 L44.8 479.9 L42.3 479.7 L45.8 476.5 L54.6 473.2Z" fill="#e6b3ae"/><path d="M77.7 473.0 L78.5 475.8 L87.1 477.7 L90.3 479.9 L92.8 479.7 L89.3 476.5 L80.5 473.2Z" fill="#e6b3ae"/><path d="M52.2 463 C52.8 468 54.2 472 54.8 474.6 L57.8 474.4 C57.4 471 57.8 468.6 59 466.4Z" fill="#e6e0db" stroke="#bfb0a4" stroke-width="0.4"/><path d="M82.9 463 C82.3 468 80.9 472 80.3 474.6 L77.3 474.4 C77.7 471 77.3 468.6 76.1 466.4Z" fill="#e6e0db" stroke="#bfb0a4" stroke-width="0.4"/><path d="M48.6 425.2 L45.8 421.6 L43.4 422.6 L44.6 420.6 L43.2 418.6 L45.6 419.6 L46.6 417.8 L47.4 420.2 L50.4 423Z" fill="#e6b3ae"/><path d="M86.4 425.2 L89.2 421.6 L91.6 422.6 L90.4 420.6 L91.8 418.6 L89.4 419.6 L88.4 417.8 L87.6 420.2 L84.6 423Z" fill="#e6b3ae"/><ellipse cx="45.4" cy="421.0" rx="1.7" ry="2.0" fill="#e6b3ae" transform="rotate(-35 45.4 421)"/><ellipse cx="89.8" cy="421.0" rx="1.7" ry="2.0" fill="#e6b3ae" transform="rotate(35 89.8 421)"/><ellipse cx="56.9" cy="416.4" rx="2.7" ry="3.0" fill="#e6b3ae" stroke="#dba09b" stroke-width="0.4"/><ellipse cx="78.3" cy="416.4" rx="2.7" ry="3.0" fill="#e6b3ae" stroke="#dba09b" stroke-width="0.4"/><path d="M58.6 422.2 L48.8 421.6 L46.9 425.4 L56.0 436.5Z" fill="#e6e0db" stroke="#bfb0a4" stroke-width="0.5" stroke-linejoin="round"/><path d="M76.6 422.2 L86.4 421.6 L88.3 425.4 L79.2 436.5Z" fill="#e6e0db" stroke="#bfb0a4" stroke-width="0.5" stroke-linejoin="round"/><path d="M67.6 403.2 C66.0 403.4 65.2 405.2 64.4 407.4 C63.0 410.2 59.2 411.4 58.8 415.0 C58.4 418.2 59.6 420.6 58.2 422.8 C56.2 425.4 56.0 428.4 56.2 431.6 C56.6 436.4 55.8 440.0 54.6 443.4 C53.2 448.4 50.6 452.8 50.2 458.0 C49.9 463.2 52.4 467.2 55.8 469.2 C58.6 471.0 60.6 472.2 62.6 474.2 C64.6 476.2 66.4 476.6 67.6 476.6 C68.8 476.6 70.6 476.2 72.6 474.2 C74.6 472.2 76.6 471.0 79.4 469.2 C82.8 467.2 85.3 463.2 85.0 458.0 C84.6 452.8 82.0 448.4 80.6 443.4 C79.4 440.0 78.6 436.4 79.0 431.6 C79.2 428.4 79.0 425.4 77.0 422.8 C75.6 420.6 76.8 418.2 76.4 415.0 C76.0 411.4 72.2 410.2 70.8 407.4 C70.0 405.2 69.2 403.4 67.6 403.2Z" fill="#e6e0db" stroke="#bfb0a4" stroke-width="0.6"/><path d="M60.6 419.4 C63.4 422.6 65.6 420.0 67.6 421.6 C69.6 420.0 71.8 422.6 74.6 419.4" fill="none" stroke="#bfb0a4" stroke-width="0.5"/><ellipse cx="67.6" cy="447" rx="9.6" ry="24" fill="url(#belly)"/><ellipse cx="67.6" cy="413" rx="6.0" ry="7" fill="url(#belly)"/><path d="M52 455.5 C54.5 457 56.6 461 57 466" fill="none" stroke="#bfb0a4" stroke-width="0.5"/><path d="M83.2 455.5 C80.7 457 78.6 461 78.2 466" fill="none" stroke="#bfb0a4" stroke-width="0.5"/><path d="M65.6 407.4 C66.4 404.8 68.8 404.8 69.6 407.4" fill="none" stroke="#bfb0a4" stroke-width="0.4"/><ellipse cx="67.6" cy="403.6" rx="1.1" ry="0.7" fill="#dba09b"/><line x1="66" y1="405" x2="62.6" y2="403.6" stroke="#d9cfc8" stroke-width="0.3"/><line x1="66" y1="405.6" x2="62.4" y2="405.6" stroke="#d9cfc8" stroke-width="0.3"/><line x1="69.2" y1="405" x2="72.6" y2="403.6" stroke="#d9cfc8" stroke-width="0.3"/><line x1="69.2" y1="405.6" x2="72.8" y2="405.6" stroke="#d9cfc8" stroke-width="0.3"/></g>
<circle cx="57.60" cy="425.30" r="1.45" fill="#6a12a8" stroke="none" stroke-width="0"/>
<circle cx="61.72" cy="423.24" r="1.45" fill="#6a12a8" stroke="none" stroke-width="0"/>
<circle cx="65.84" cy="421.97" r="1.45" fill="#6a12a8" stroke="none" stroke-width="0"/>
<circle cx="69.96" cy="421.97" r="1.45" fill="#6a12a8" stroke="none" stroke-width="0"/>
<circle cx="74.08" cy="423.24" r="1.45" fill="#6a12a8" stroke="none" stroke-width="0"/>
<circle cx="78.20" cy="425.30" r="1.45" fill="#6a12a8" stroke="none" stroke-width="0"/>
<text x="70.00" y="434.60" font-size="9.8" text-anchor="middle" fill="#6a12a8" stroke="#6a12a8" stroke-width="0.12">dr-cLN</text>
<circle cx="52.40" cy="458.90" r="1.45" fill="#17177a" stroke="none" stroke-width="0"/>
<circle cx="82.50" cy="458.90" r="1.45" fill="#17177a" stroke="none" stroke-width="0"/>
<text x="69.50" y="467.70" font-size="9.8" text-anchor="middle" fill="#17177a" stroke="#17177a" stroke-width="0.12">ndr-iLN</text>
<g transform="translate(77.60 421.60) rotate(-45) scale(1.06)"><line x1="0" y1="0" x2="4" y2="0" stroke="#666" stroke-width="0.35"/><rect x="4" y="-1.15" width="8.2" height="2.3" fill="#f4f4f4" stroke="#444" stroke-width="0.45"/><rect x="4.6" y="-0.8" width="3.6" height="1.6" fill="#c0202a"/><line x1="12.2" y1="-1.9" x2="12.2" y2="1.9" stroke="#333" stroke-width="0.6"/><line x1="12.2" y1="0" x2="15.6" y2="0" stroke="#333" stroke-width="0.6"/><line x1="15.6" y1="-1.6" x2="15.6" y2="1.6" stroke="#333" stroke-width="0.6"/></g>
<line x1="20.70" y1="499.40" x2="113.80" y2="499.40" stroke="#666" stroke-width="0.8"/>
<line x1="21.00" y1="499.40" x2="21.00" y2="502.90" stroke="#666" stroke-width="0.8"/>
<line x1="46.60" y1="499.40" x2="46.60" y2="502.90" stroke="#666" stroke-width="0.8"/>
<line x1="71.40" y1="499.40" x2="71.40" y2="502.90" stroke="#666" stroke-width="0.8"/>
<line x1="113.50" y1="499.40" x2="113.50" y2="502.90" stroke="#666" stroke-width="0.8"/>
<text x="19.60" y="514.80" font-size="9.4" text-anchor="middle" fill="#000" stroke="#000" stroke-width="0.12">0</text>
<text x="46.60" y="514.80" font-size="9.4" text-anchor="middle" fill="#000" stroke="#000" stroke-width="0.12">Day</text>
<text x="71.60" y="514.80" font-size="9.4" text-anchor="middle" fill="#000" stroke="#000" stroke-width="0.12">Day</text>
<text x="113.60" y="514.80" font-size="9.4" text-anchor="middle" fill="#000" stroke="#000" stroke-width="0.12">Day</text>
<text x="46.60" y="525.60" font-size="9.4" text-anchor="middle" fill="#000" stroke="#000" stroke-width="0.12">1</text>
<text x="71.60" y="525.60" font-size="9.4" text-anchor="middle" fill="#000" stroke="#000" stroke-width="0.12">3</text>
<text x="113.60" y="525.60" font-size="9.4" text-anchor="middle" fill="#000" stroke="#000" stroke-width="0.12">5</text>
<text x="19.40" y="536.80" font-size="9.4" text-anchor="middle" fill="#000" stroke="#000" stroke-width="0.12">Adjuvant</text>
<text x="46.60" y="536.80" font-size="9.4" text-anchor="middle" fill="#000" stroke="#000" stroke-width="0.12">Fc</text>
<text x="71.60" y="536.80" font-size="9.4" text-anchor="middle" fill="#000" stroke="#000" stroke-width="0.12">Fc</text>
<text x="113.60" y="536.80" font-size="9.4" text-anchor="middle" fill="#000" stroke="#000" stroke-width="0.12">Collection</text>
<text x="144.60" y="390.10" font-size="13" font-weight="bold" fill="#000" stroke="#000" stroke-width="0.4" stroke-linejoin="round">h</text>
<rect x="188.20" y="469.60" width="13.50" height="29.10" fill="#ffffff" stroke="#333" stroke-width="0.58"/>
<rect x="209.20" y="434.80" width="13.60" height="63.90" fill="#e9d2fc" stroke="#333" stroke-width="0.58"/>
<rect x="230.20" y="443.50" width="13.60" height="55.20" fill="#cd92c8" stroke="#333" stroke-width="0.58"/>
<rect x="251.20" y="454.30" width="13.60" height="44.40" fill="#8b96d2" stroke="#333" stroke-width="0.58"/>
<line x1="181.20" y1="407.05" x2="181.20" y2="499.05" stroke="#3a3a3a" stroke-width="0.65"/>
<line x1="177.80" y1="407.40" x2="181.20" y2="407.40" stroke="#3a3a3a" stroke-width="0.65"/>
<text x="173.00" y="411.05" font-size="9.4" text-anchor="end" fill="#000" stroke="#000" stroke-width="0.12">25</text>
<line x1="177.80" y1="425.70" x2="181.20" y2="425.70" stroke="#3a3a3a" stroke-width="0.65"/>
<text x="173.00" y="429.35" font-size="9.4" text-anchor="end" fill="#000" stroke="#000" stroke-width="0.12">20</text>
<line x1="177.80" y1="443.90" x2="181.20" y2="443.90" stroke="#3a3a3a" stroke-width="0.65"/>
<text x="173.00" y="447.55" font-size="9.4" text-anchor="end" fill="#000" stroke="#000" stroke-width="0.12">15</text>
<line x1="177.80" y1="462.20" x2="181.20" y2="462.20" stroke="#3a3a3a" stroke-width="0.65"/>
<text x="173.00" y="465.85" font-size="9.4" text-anchor="end" fill="#000" stroke="#000" stroke-width="0.12">10</text>
<line x1="177.80" y1="480.40" x2="181.20" y2="480.40" stroke="#3a3a3a" stroke-width="0.65"/>
<text x="173.00" y="484.05" font-size="9.4" text-anchor="end" fill="#000" stroke="#000" stroke-width="0.12">5</text>
<line x1="177.80" y1="498.70" x2="181.20" y2="498.70" stroke="#3a3a3a" stroke-width="0.65"/>
<text x="173.00" y="502.35" font-size="9.4" text-anchor="end" fill="#000" stroke="#000" stroke-width="0.12">0</text>
<line x1="178.00" y1="498.70" x2="272.00" y2="498.70" stroke="#3a3a3a" stroke-width="0.65"/>
<line x1="194.95" y1="498.70" x2="194.95" y2="501.90" stroke="#3a3a3a" stroke-width="0.65"/>
<line x1="216.00" y1="498.70" x2="216.00" y2="501.90" stroke="#3a3a3a" stroke-width="0.65"/>
<line x1="237.00" y1="498.70" x2="237.00" y2="501.90" stroke="#3a3a3a" stroke-width="0.65"/>
<line x1="258.00" y1="498.70" x2="258.00" y2="501.90" stroke="#3a3a3a" stroke-width="0.65"/>
<line x1="194.95" y1="467.90" x2="194.95" y2="471.80" stroke="#111" stroke-width="0.7"/>
<line x1="190.85" y1="467.90" x2="199.05" y2="467.90" stroke="#111" stroke-width="0.7"/>
<line x1="190.85" y1="471.80" x2="199.05" y2="471.80" stroke="#111" stroke-width="0.7"/>
<line x1="216.00" y1="431.00" x2="216.00" y2="438.20" stroke="#111" stroke-width="0.7"/>
<line x1="211.90" y1="431.00" x2="220.10" y2="431.00" stroke="#111" stroke-width="0.7"/>
<line x1="211.90" y1="438.20" x2="220.10" y2="438.20" stroke="#111" stroke-width="0.7"/>
<line x1="237.00" y1="438.70" x2="237.00" y2="447.40" stroke="#111" stroke-width="0.7"/>
<line x1="232.90" y1="438.70" x2="241.10" y2="438.70" stroke="#111" stroke-width="0.7"/>
<line x1="232.90" y1="447.40" x2="241.10" y2="447.40" stroke="#111" stroke-width="0.7"/>
<line x1="258.00" y1="450.40" x2="258.00" y2="458.10" stroke="#111" stroke-width="0.7"/>
<line x1="253.90" y1="450.40" x2="262.10" y2="450.40" stroke="#111" stroke-width="0.7"/>
<line x1="253.90" y1="458.10" x2="262.10" y2="458.10" stroke="#111" stroke-width="0.7"/>
<circle cx="194.74" cy="439.16" r="1.5" fill="#0a0a0a" stroke="none" stroke-width="0"/>
<circle cx="193.65" cy="458.64" r="1.5" fill="#0a0a0a" stroke="none" stroke-width="0"/>
<circle cx="195.84" cy="459.52" r="1.5" fill="#0a0a0a" stroke="none" stroke-width="0"/>
<circle cx="195.84" cy="463.90" r="1.5" fill="#0a0a0a" stroke="none" stroke-width="0"/>
<circle cx="194.30" cy="466.09" r="1.5" fill="#0a0a0a" stroke="none" stroke-width="0"/>
<circle cx="197.81" cy="466.96" r="1.5" fill="#0a0a0a" stroke="none" stroke-width="0"/>
<circle cx="192.55" cy="467.84" r="1.5" fill="#0a0a0a" stroke="none" stroke-width="0"/>
<circle cx="195.18" cy="468.28" r="1.5" fill="#0a0a0a" stroke="none" stroke-width="0"/>
<circle cx="198.24" cy="467.62" r="1.5" fill="#0a0a0a" stroke="none" stroke-width="0"/>
<circle cx="200.43" cy="468.28" r="1.5" fill="#0a0a0a" stroke="none" stroke-width="0"/>
<circle cx="189.49" cy="470.47" r="1.5" fill="#0a0a0a" stroke="none" stroke-width="0"/>
<circle cx="191.89" cy="470.03" r="1.5" fill="#0a0a0a" stroke="none" stroke-width="0"/>
<circle cx="193.86" cy="475.28" r="1.5" fill="#0a0a0a" stroke="none" stroke-width="0"/>
<circle cx="196.27" cy="475.28" r="1.5" fill="#0a0a0a" stroke="none" stroke-width="0"/>
<circle cx="195.62" cy="491.27" r="1.5" fill="#0a0a0a" stroke="none" stroke-width="0"/>
<circle cx="193.65" cy="493.24" r="1.5" fill="#0a0a0a" stroke="none" stroke-width="0"/>
<circle cx="213.35" cy="426.02" r="1.5" fill="#0a0a0a" stroke="none" stroke-width="0"/>
<circle cx="218.83" cy="424.05" r="1.5" fill="#0a0a0a" stroke="none" stroke-width="0"/>
<circle cx="218.83" cy="427.11" r="1.5" fill="#0a0a0a" stroke="none" stroke-width="0"/>
<circle cx="213.35" cy="430.18" r="1.5" fill="#0a0a0a" stroke="none" stroke-width="0"/>
<circle cx="216.20" cy="433.24" r="1.5" fill="#0a0a0a" stroke="none" stroke-width="0"/>
<circle cx="213.13" cy="440.69" r="1.5" fill="#0a0a0a" stroke="none" stroke-width="0"/>
<circle cx="216.20" cy="438.72" r="1.5" fill="#0a0a0a" stroke="none" stroke-width="0"/>
<circle cx="219.26" cy="441.35" r="1.5" fill="#0a0a0a" stroke="none" stroke-width="0"/>
<circle cx="215.98" cy="455.80" r="1.5" fill="#0a0a0a" stroke="none" stroke-width="0"/>
<circle cx="236.78" cy="413.98" r="1.5" fill="#0a0a0a" stroke="none" stroke-width="0"/>
<circle cx="236.78" cy="423.17" r="1.5" fill="#0a0a0a" stroke="none" stroke-width="0"/>
<circle cx="233.50" cy="427.11" r="1.5" fill="#0a0a0a" stroke="none" stroke-width="0"/>
<circle cx="236.78" cy="426.68" r="1.5" fill="#0a0a0a" stroke="none" stroke-width="0"/>
<circle cx="240.72" cy="427.33" r="1.5" fill="#0a0a0a" stroke="none" stroke-width="0"/>
<circle cx="236.78" cy="432.15" r="1.5" fill="#0a0a0a" stroke="none" stroke-width="0"/>
<circle cx="231.53" cy="442.44" r="1.5" fill="#0a0a0a" stroke="none" stroke-width="0"/>
<circle cx="235.03" cy="440.69" r="1.5" fill="#0a0a0a" stroke="none" stroke-width="0"/>
<circle cx="238.53" cy="443.10" r="1.5" fill="#0a0a0a" stroke="none" stroke-width="0"/>
<circle cx="242.26" cy="443.32" r="1.5" fill="#0a0a0a" stroke="none" stroke-width="0"/>
<circle cx="233.28" cy="449.45" r="1.5" fill="#0a0a0a" stroke="none" stroke-width="0"/>
<circle cx="236.78" cy="450.32" r="1.5" fill="#0a0a0a" stroke="none" stroke-width="0"/>
<circle cx="240.72" cy="449.67" r="1.5" fill="#0a0a0a" stroke="none" stroke-width="0"/>
<circle cx="236.78" cy="463.02" r="1.5" fill="#0a0a0a" stroke="none" stroke-width="0"/>
<circle cx="238.53" cy="478.13" r="1.5" fill="#0a0a0a" stroke="none" stroke-width="0"/>
<circle cx="235.25" cy="480.54" r="1.5" fill="#0a0a0a" stroke="none" stroke-width="0"/>
<circle cx="258.24" cy="419.23" r="1.5" fill="#0a0a0a" stroke="none" stroke-width="0"/>
<circle cx="258.24" cy="430.18" r="1.5" fill="#0a0a0a" stroke="none" stroke-width="0"/>
<circle cx="258.24" cy="435.00" r="1.5" fill="#0a0a0a" stroke="none" stroke-width="0"/>
<circle cx="258.24" cy="440.91" r="1.5" fill="#0a0a0a" stroke="none" stroke-width="0"/>
<circle cx="258.24" cy="446.38" r="1.5" fill="#0a0a0a" stroke="none" stroke-width="0"/>
<circle cx="263.71" cy="447.91" r="1.5" fill="#0a0a0a" stroke="none" stroke-width="0"/>
<circle cx="256.05" cy="453.39" r="1.5" fill="#0a0a0a" stroke="none" stroke-width="0"/>
<circle cx="260.87" cy="454.05" r="1.5" fill="#0a0a0a" stroke="none" stroke-width="0"/>
<circle cx="258.02" cy="456.89" r="1.5" fill="#0a0a0a" stroke="none" stroke-width="0"/>
<circle cx="261.31" cy="458.42" r="1.5" fill="#0a0a0a" stroke="none" stroke-width="0"/>
<circle cx="258.24" cy="462.58" r="1.5" fill="#0a0a0a" stroke="none" stroke-width="0"/>
<circle cx="252.77" cy="467.40" r="1.5" fill="#0a0a0a" stroke="none" stroke-width="0"/>
<circle cx="258.24" cy="467.18" r="1.5" fill="#0a0a0a" stroke="none" stroke-width="0"/>
<circle cx="263.49" cy="467.84" r="1.5" fill="#0a0a0a" stroke="none" stroke-width="0"/>
<circle cx="258.24" cy="471.12" r="1.5" fill="#0a0a0a" stroke="none" stroke-width="0"/>
<circle cx="255.39" cy="475.72" r="1.5" fill="#0a0a0a" stroke="none" stroke-width="0"/>
<circle cx="261.31" cy="475.72" r="1.5" fill="#0a0a0a" stroke="none" stroke-width="0"/>
<text x="237.00" y="392.50" font-size="9.4" text-anchor="middle" fill="#000" stroke="#000" stroke-width="0.12">0.0093</text>
<line x1="216.00" y1="395.60" x2="258.20" y2="395.60" stroke="#555" stroke-width="0.8"/>
<text x="247.00" y="403.90" font-size="9.4" text-anchor="middle" fill="#000" stroke="#000" stroke-width="0.12">0.0757</text>
<line x1="237.00" y1="407.40" x2="258.20" y2="407.40" stroke="#555" stroke-width="0.8"/>
<text x="155.20" y="453.00" font-size="9.4" text-anchor="middle" transform="rotate(-90 155.20 453.00)" fill="#000" stroke="#000" stroke-width="0.12">dr-cLN mass (mg)</text>
<text x="197.75" y="510.50" font-size="9.4" text-anchor="end" transform="rotate(-45 197.75 510.50)" fill="#000" stroke="#000" stroke-width="0.12">Untreated</text>
<text x="218.80" y="510.50" font-size="9.4" text-anchor="end" transform="rotate(-45 218.80 510.50)" fill="#000" stroke="#000" stroke-width="0.12">PBS</text>
<text x="239.80" y="510.50" font-size="9.4" text-anchor="end" transform="rotate(-45 239.80 510.50)" fill="#000" stroke="#000" stroke-width="0.12">hTRAIL–Fc</text>
<text x="260.80" y="510.50" font-size="9.4" text-anchor="end" transform="rotate(-45 260.80 510.50)" fill="#000" stroke="#000" stroke-width="0.12">vCD44BP–Fc</text>
<line x1="203.40" y1="551.30" x2="264.70" y2="551.30" stroke="#777" stroke-width="0.8"/>
<text x="234.05" y="562.70" font-size="9.4" text-anchor="middle" fill="#000" stroke="#000" stroke-width="0.12">Montanide</text>
<text x="289.40" y="390.10" font-size="13" font-weight="bold" fill="#000" stroke="#000" stroke-width="0.4" stroke-linejoin="round">i</text>
<rect x="329.00" y="474.60" width="13.80" height="24.10" fill="#ffffff" stroke="#333" stroke-width="0.58"/>
<rect x="350.00" y="439.20" width="13.90" height="59.50" fill="#e9d2fc" stroke="#333" stroke-width="0.58"/>
<rect x="371.10" y="448.40" width="13.80" height="50.30" fill="#cd92c8" stroke="#333" stroke-width="0.58"/>
<rect x="392.10" y="463.20" width="13.80" height="35.50" fill="#8b96d2" stroke="#333" stroke-width="0.58"/>
<line x1="322.00" y1="407.05" x2="322.00" y2="499.05" stroke="#3a3a3a" stroke-width="0.65"/>
<line x1="318.60" y1="407.40" x2="322.00" y2="407.40" stroke="#3a3a3a" stroke-width="0.65"/>
<text x="313.80" y="411.05" font-size="9.4" text-anchor="end" fill="#000" stroke="#000" stroke-width="0.12">6</text>
<line x1="318.60" y1="437.80" x2="322.00" y2="437.80" stroke="#3a3a3a" stroke-width="0.65"/>
<text x="313.80" y="441.45" font-size="9.4" text-anchor="end" fill="#000" stroke="#000" stroke-width="0.12">4</text>
<line x1="318.60" y1="468.30" x2="322.00" y2="468.30" stroke="#3a3a3a" stroke-width="0.65"/>
<text x="313.80" y="471.95" font-size="9.4" text-anchor="end" fill="#000" stroke="#000" stroke-width="0.12">2</text>
<line x1="318.60" y1="498.70" x2="322.00" y2="498.70" stroke="#3a3a3a" stroke-width="0.65"/>
<text x="313.80" y="502.35" font-size="9.4" text-anchor="end" fill="#000" stroke="#000" stroke-width="0.12">0</text>
<line x1="318.80" y1="498.70" x2="413.00" y2="498.70" stroke="#3a3a3a" stroke-width="0.65"/>
<line x1="335.90" y1="498.70" x2="335.90" y2="501.90" stroke="#3a3a3a" stroke-width="0.65"/>
<line x1="356.95" y1="498.70" x2="356.95" y2="501.90" stroke="#3a3a3a" stroke-width="0.65"/>
<line x1="378.00" y1="498.70" x2="378.00" y2="501.90" stroke="#3a3a3a" stroke-width="0.65"/>
<line x1="399.00" y1="498.70" x2="399.00" y2="501.90" stroke="#3a3a3a" stroke-width="0.65"/>
<line x1="335.90" y1="473.40" x2="335.90" y2="476.00" stroke="#111" stroke-width="0.7"/>
<line x1="331.80" y1="473.40" x2="340.00" y2="473.40" stroke="#111" stroke-width="0.7"/>
<line x1="331.80" y1="476.00" x2="340.00" y2="476.00" stroke="#111" stroke-width="0.7"/>
<line x1="356.95" y1="435.50" x2="356.95" y2="443.00" stroke="#111" stroke-width="0.7"/>
<line x1="352.85" y1="435.50" x2="361.05" y2="435.50" stroke="#111" stroke-width="0.7"/>
<line x1="352.85" y1="443.00" x2="361.05" y2="443.00" stroke="#111" stroke-width="0.7"/>
<line x1="378.00" y1="445.40" x2="378.00" y2="451.30" stroke="#111" stroke-width="0.7"/>
<line x1="373.90" y1="445.40" x2="382.10" y2="445.40" stroke="#111" stroke-width="0.7"/>
<line x1="373.90" y1="451.30" x2="382.10" y2="451.30" stroke="#111" stroke-width="0.7"/>
<line x1="399.00" y1="461.60" x2="399.00" y2="466.20" stroke="#111" stroke-width="0.7"/>
<line x1="394.90" y1="461.60" x2="403.10" y2="461.60" stroke="#111" stroke-width="0.7"/>
<line x1="394.90" y1="466.20" x2="403.10" y2="466.20" stroke="#111" stroke-width="0.7"/>
<circle cx="332.99" cy="468.93" r="1.5" fill="#0a0a0a" stroke="none" stroke-width="0"/>
<circle cx="330.14" cy="470.91" r="1.5" fill="#0a0a0a" stroke="none" stroke-width="0"/>
<circle cx="335.84" cy="471.56" r="1.5" fill="#0a0a0a" stroke="none" stroke-width="0"/>
<circle cx="338.68" cy="469.81" r="1.5" fill="#0a0a0a" stroke="none" stroke-width="0"/>
<circle cx="341.53" cy="471.12" r="1.5" fill="#0a0a0a" stroke="none" stroke-width="0"/>
<circle cx="330.14" cy="474.63" r="1.5" fill="#0a0a0a" stroke="none" stroke-width="0"/>
<circle cx="332.99" cy="474.19" r="1.5" fill="#0a0a0a" stroke="none" stroke-width="0"/>
<circle cx="335.84" cy="475.50" r="1.5" fill="#0a0a0a" stroke="none" stroke-width="0"/>
<circle cx="338.68" cy="474.63" r="1.5" fill="#0a0a0a" stroke="none" stroke-width="0"/>
<circle cx="341.53" cy="474.19" r="1.5" fill="#0a0a0a" stroke="none" stroke-width="0"/>
<circle cx="332.99" cy="478.13" r="1.5" fill="#0a0a0a" stroke="none" stroke-width="0"/>
<circle cx="338.68" cy="477.26" r="1.5" fill="#0a0a0a" stroke="none" stroke-width="0"/>
<circle cx="341.53" cy="477.26" r="1.5" fill="#0a0a0a" stroke="none" stroke-width="0"/>
<circle cx="335.84" cy="473.10" r="1.5" fill="#0a0a0a" stroke="none" stroke-width="0"/>
<circle cx="332.99" cy="480.76" r="1.5" fill="#0a0a0a" stroke="none" stroke-width="0"/>
<circle cx="338.68" cy="479.23" r="1.5" fill="#0a0a0a" stroke="none" stroke-width="0"/>
<circle cx="357.07" cy="424.70" r="1.5" fill="#0a0a0a" stroke="none" stroke-width="0"/>
<circle cx="357.07" cy="427.99" r="1.5" fill="#0a0a0a" stroke="none" stroke-width="0"/>
<circle cx="357.07" cy="431.49" r="1.5" fill="#0a0a0a" stroke="none" stroke-width="0"/>
<circle cx="354.45" cy="439.37" r="1.5" fill="#0a0a0a" stroke="none" stroke-width="0"/>
<circle cx="359.70" cy="442.00" r="1.5" fill="#0a0a0a" stroke="none" stroke-width="0"/>
<circle cx="354.45" cy="443.54" r="1.5" fill="#0a0a0a" stroke="none" stroke-width="0"/>
<circle cx="357.07" cy="442.44" r="1.5" fill="#0a0a0a" stroke="none" stroke-width="0"/>
<circle cx="357.07" cy="448.57" r="1.5" fill="#0a0a0a" stroke="none" stroke-width="0"/>
<circle cx="357.07" cy="457.33" r="1.5" fill="#0a0a0a" stroke="none" stroke-width="0"/>
<circle cx="377.88" cy="420.98" r="1.5" fill="#0a0a0a" stroke="none" stroke-width="0"/>
<circle cx="377.88" cy="427.99" r="1.5" fill="#0a0a0a" stroke="none" stroke-width="0"/>
<circle cx="377.88" cy="435.43" r="1.5" fill="#0a0a0a" stroke="none" stroke-width="0"/>
<circle cx="377.88" cy="438.94" r="1.5" fill="#0a0a0a" stroke="none" stroke-width="0"/>
<circle cx="383.57" cy="442.00" r="1.5" fill="#0a0a0a" stroke="none" stroke-width="0"/>
<circle cx="376.12" cy="444.19" r="1.5" fill="#0a0a0a" stroke="none" stroke-width="0"/>
<circle cx="379.63" cy="444.19" r="1.5" fill="#0a0a0a" stroke="none" stroke-width="0"/>
<circle cx="377.88" cy="446.60" r="1.5" fill="#0a0a0a" stroke="none" stroke-width="0"/>
<circle cx="372.62" cy="453.83" r="1.5" fill="#0a0a0a" stroke="none" stroke-width="0"/>
<circle cx="372.62" cy="458.64" r="1.5" fill="#0a0a0a" stroke="none" stroke-width="0"/>
<circle cx="376.12" cy="456.02" r="1.5" fill="#0a0a0a" stroke="none" stroke-width="0"/>
<circle cx="379.63" cy="456.67" r="1.5" fill="#0a0a0a" stroke="none" stroke-width="0"/>
<circle cx="376.12" cy="459.74" r="1.5" fill="#0a0a0a" stroke="none" stroke-width="0"/>
<circle cx="379.63" cy="460.40" r="1.5" fill="#0a0a0a" stroke="none" stroke-width="0"/>
<circle cx="383.35" cy="459.08" r="1.5" fill="#0a0a0a" stroke="none" stroke-width="0"/>
<circle cx="377.88" cy="464.99" r="1.5" fill="#0a0a0a" stroke="none" stroke-width="0"/>
<circle cx="399.12" cy="437.62" r="1.5" fill="#0a0a0a" stroke="none" stroke-width="0"/>
<circle cx="396.05" cy="456.67" r="1.5" fill="#0a0a0a" stroke="none" stroke-width="0"/>
<circle cx="401.96" cy="456.89" r="1.5" fill="#0a0a0a" stroke="none" stroke-width="0"/>
<circle cx="399.12" cy="459.52" r="1.5" fill="#0a0a0a" stroke="none" stroke-width="0"/>
<circle cx="393.42" cy="464.12" r="1.5" fill="#0a0a0a" stroke="none" stroke-width="0"/>
<circle cx="396.05" cy="462.80" r="1.5" fill="#0a0a0a" stroke="none" stroke-width="0"/>
<circle cx="401.96" cy="463.46" r="1.5" fill="#0a0a0a" stroke="none" stroke-width="0"/>
<circle cx="404.59" cy="464.12" r="1.5" fill="#0a0a0a" stroke="none" stroke-width="0"/>
<circle cx="396.05" cy="466.53" r="1.5" fill="#0a0a0a" stroke="none" stroke-width="0"/>
<circle cx="399.12" cy="465.87" r="1.5" fill="#0a0a0a" stroke="none" stroke-width="0"/>
<circle cx="401.96" cy="466.96" r="1.5" fill="#0a0a0a" stroke="none" stroke-width="0"/>
<circle cx="396.05" cy="470.25" r="1.5" fill="#0a0a0a" stroke="none" stroke-width="0"/>
<circle cx="399.12" cy="470.25" r="1.5" fill="#0a0a0a" stroke="none" stroke-width="0"/>
<circle cx="401.96" cy="470.25" r="1.5" fill="#0a0a0a" stroke="none" stroke-width="0"/>
<circle cx="399.12" cy="476.16" r="1.5" fill="#0a0a0a" stroke="none" stroke-width="0"/>
<text x="377.80" y="392.50" font-size="9.4" text-anchor="middle" fill="#000" stroke="#000" stroke-width="0.12">0.0001</text>
<line x1="356.90" y1="395.60" x2="399.10" y2="395.60" stroke="#555" stroke-width="0.8"/>
<text x="388.40" y="403.90" font-size="9.4" text-anchor="middle" fill="#000" stroke="#000" stroke-width="0.12">0.0018</text>
<line x1="378.10" y1="407.40" x2="399.10" y2="407.40" stroke="#555" stroke-width="0.8"/>
<text x="300.60" y="452.70" font-size="9.4" text-anchor="middle" transform="rotate(-90 300.60 452.70)" fill="#000" stroke="#000" stroke-width="0.12">dr-cLN cell numbers (×10<tspan font-size="6.2" dy="-4.89">7</tspan><tspan dy="4.89" font-size="9.4">&#8203;</tspan>)</text>
<text x="338.70" y="510.50" font-size="9.4" text-anchor="end" transform="rotate(-45 338.70 510.50)" fill="#000" stroke="#000" stroke-width="0.12">Untreated</text>
<text x="359.75" y="510.50" font-size="9.4" text-anchor="end" transform="rotate(-45 359.75 510.50)" fill="#000" stroke="#000" stroke-width="0.12">PBS</text>
<text x="380.80" y="510.50" font-size="9.4" text-anchor="end" transform="rotate(-45 380.80 510.50)" fill="#000" stroke="#000" stroke-width="0.12">hTRAIL–Fc</text>
<text x="401.80" y="510.50" font-size="9.4" text-anchor="end" transform="rotate(-45 401.80 510.50)" fill="#000" stroke="#000" stroke-width="0.12">vCD44BP–Fc</text>
<line x1="343.20" y1="551.30" x2="405.00" y2="551.30" stroke="#777" stroke-width="0.8"/>
<text x="374.10" y="562.70" font-size="9.4" text-anchor="middle" fill="#000" stroke="#000" stroke-width="0.12">Montanide</text>
<text x="-0.80" y="581.10" font-size="13" font-weight="bold" fill="#000" stroke="#000" stroke-width="0.4" stroke-linejoin="round">j</text>
<g transform="translate(-0.80 197.00)"><path d="M66.0 474 L66.3 499 L68.9 499 L69.2 474Z" fill="#e6b3ae"/><path d="M57.4 473.0 L56.6 475.8 L48.0 477.7 L44.8 479.9 L42.3 479.7 L45.8 476.5 L54.6 473.2Z" fill="#e6b3ae"/><path d="M77.7 473.0 L78.5 475.8 L87.1 477.7 L90.3 479.9 L92.8 479.7 L89.3 476.5 L80.5 473.2Z" fill="#e6b3ae"/><path d="M52.2 463 C52.8 468 54.2 472 54.8 474.6 L57.8 474.4 C57.4 471 57.8 468.6 59 466.4Z" fill="#e6e0db" stroke="#bfb0a4" stroke-width="0.4"/><path d="M82.9 463 C82.3 468 80.9 472 80.3 474.6 L77.3 474.4 C77.7 471 77.3 468.6 76.1 466.4Z" fill="#e6e0db" stroke="#bfb0a4" stroke-width="0.4"/><path d="M48.6 425.2 L45.8 421.6 L43.4 422.6 L44.6 420.6 L43.2 418.6 L45.6 419.6 L46.6 417.8 L47.4 420.2 L50.4 423Z" fill="#e6b3ae"/><path d="M86.4 425.2 L89.2 421.6 L91.6 422.6 L90.4 420.6 L91.8 418.6 L89.4 419.6 L88.4 417.8 L87.6 420.2 L84.6 423Z" fill="#e6b3ae"/><ellipse cx="45.4" cy="421.0" rx="1.7" ry="2.0" fill="#e6b3ae" transform="rotate(-35 45.4 421)"/><ellipse cx="89.8" cy="421.0" rx="1.7" ry="2.0" fill="#e6b3ae" transform="rotate(35 89.8 421)"/><ellipse cx="56.9" cy="416.4" rx="2.7" ry="3.0" fill="#e6b3ae" stroke="#dba09b" stroke-width="0.4"/><ellipse cx="78.3" cy="416.4" rx="2.7" ry="3.0" fill="#e6b3ae" stroke="#dba09b" stroke-width="0.4"/><path d="M58.6 422.2 L48.8 421.6 L46.9 425.4 L56.0 436.5Z" fill="#e6e0db" stroke="#bfb0a4" stroke-width="0.5" stroke-linejoin="round"/><path d="M76.6 422.2 L86.4 421.6 L88.3 425.4 L79.2 436.5Z" fill="#e6e0db" stroke="#bfb0a4" stroke-width="0.5" stroke-linejoin="round"/><path d="M67.6 403.2 C66.0 403.4 65.2 405.2 64.4 407.4 C63.0 410.2 59.2 411.4 58.8 415.0 C58.4 418.2 59.6 420.6 58.2 422.8 C56.2 425.4 56.0 428.4 56.2 431.6 C56.6 436.4 55.8 440.0 54.6 443.4 C53.2 448.4 50.6 452.8 50.2 458.0 C49.9 463.2 52.4 467.2 55.8 469.2 C58.6 471.0 60.6 472.2 62.6 474.2 C64.6 476.2 66.4 476.6 67.6 476.6 C68.8 476.6 70.6 476.2 72.6 474.2 C74.6 472.2 76.6 471.0 79.4 469.2 C82.8 467.2 85.3 463.2 85.0 458.0 C84.6 452.8 82.0 448.4 80.6 443.4 C79.4 440.0 78.6 436.4 79.0 431.6 C79.2 428.4 79.0 425.4 77.0 422.8 C75.6 420.6 76.8 418.2 76.4 415.0 C76.0 411.4 72.2 410.2 70.8 407.4 C70.0 405.2 69.2 403.4 67.6 403.2Z" fill="#e6e0db" stroke="#bfb0a4" stroke-width="0.6"/><path d="M60.6 419.4 C63.4 422.6 65.6 420.0 67.6 421.6 C69.6 420.0 71.8 422.6 74.6 419.4" fill="none" stroke="#bfb0a4" stroke-width="0.5"/><ellipse cx="67.6" cy="447" rx="9.6" ry="24" fill="url(#belly)"/><ellipse cx="67.6" cy="413" rx="6.0" ry="7" fill="url(#belly)"/><path d="M52 455.5 C54.5 457 56.6 461 57 466" fill="none" stroke="#bfb0a4" stroke-width="0.5"/><path d="M83.2 455.5 C80.7 457 78.6 461 78.2 466" fill="none" stroke="#bfb0a4" stroke-width="0.5"/><path d="M65.6 407.4 C66.4 404.8 68.8 404.8 69.6 407.4" fill="none" stroke="#bfb0a4" stroke-width="0.4"/><ellipse cx="67.6" cy="403.6" rx="1.1" ry="0.7" fill="#dba09b"/><line x1="66" y1="405" x2="62.6" y2="403.6" stroke="#d9cfc8" stroke-width="0.3"/><line x1="66" y1="405.6" x2="62.4" y2="405.6" stroke="#d9cfc8" stroke-width="0.3"/><line x1="69.2" y1="405" x2="72.6" y2="403.6" stroke="#d9cfc8" stroke-width="0.3"/><line x1="69.2" y1="405.6" x2="72.8" y2="405.6" stroke="#d9cfc8" stroke-width="0.3"/></g>
<circle cx="67.50" cy="627.30" r="1.45" fill="#6a12a8" stroke="none" stroke-width="0"/>
<text x="70.40" y="640.20" font-size="9.8" text-anchor="middle" fill="#6a12a8" stroke="#6a12a8" stroke-width="0.12">dr-mLN</text>
<g transform="translate(74.80 654.80) rotate(42) scale(1.26)"><line x1="0" y1="0" x2="4" y2="0" stroke="#666" stroke-width="0.35"/><rect x="4" y="-1.15" width="8.2" height="2.3" fill="#f4f4f4" stroke="#444" stroke-width="0.45"/><rect x="4.6" y="-0.8" width="3.6" height="1.6" fill="#c0202a"/><line x1="12.2" y1="-1.9" x2="12.2" y2="1.9" stroke="#333" stroke-width="0.6"/><line x1="12.2" y1="0" x2="15.6" y2="0" stroke="#333" stroke-width="0.6"/><line x1="15.6" y1="-1.6" x2="15.6" y2="1.6" stroke="#333" stroke-width="0.6"/></g>
<line x1="20.60" y1="696.60" x2="113.60" y2="696.60" stroke="#666" stroke-width="0.8"/>
<line x1="20.90" y1="696.60" x2="20.90" y2="700.00" stroke="#666" stroke-width="0.8"/>
<line x1="46.70" y1="696.60" x2="46.70" y2="700.00" stroke="#666" stroke-width="0.8"/>
<line x1="68.00" y1="696.60" x2="68.00" y2="700.00" stroke="#666" stroke-width="0.8"/>
<line x1="89.40" y1="696.60" x2="89.40" y2="700.00" stroke="#666" stroke-width="0.8"/>
<line x1="113.30" y1="696.60" x2="113.30" y2="700.00" stroke="#666" stroke-width="0.8"/>
<text x="20.90" y="712.60" font-size="9.4" text-anchor="middle" fill="#000" stroke="#000" stroke-width="0.12">–4 h</text>
<text x="46.70" y="712.60" font-size="9.4" text-anchor="middle" fill="#000" stroke="#000" stroke-width="0.12">0</text>
<text x="69.30" y="712.60" font-size="9.4" text-anchor="middle" fill="#000" stroke="#000" stroke-width="0.12">Day</text>
<text x="89.40" y="712.60" font-size="9.4" text-anchor="middle" fill="#000" stroke="#000" stroke-width="0.12">Day</text>
<text x="113.60" y="712.60" font-size="9.4" text-anchor="middle" fill="#000" stroke="#000" stroke-width="0.12">Day</text>
<text x="69.00" y="724.00" font-size="9.4" text-anchor="middle" fill="#000" stroke="#000" stroke-width="0.12">1</text>
<text x="89.40" y="724.00" font-size="9.4" text-anchor="middle" fill="#000" stroke="#000" stroke-width="0.12">3</text>
<text x="113.60" y="724.00" font-size="9.4" text-anchor="middle" fill="#000" stroke="#000" stroke-width="0.12">10</text>
<text x="21.00" y="736.40" font-size="9.4" text-anchor="middle" fill="#000" stroke="#000" stroke-width="0.12">Fc</text>
<text x="47.00" y="736.40" font-size="9.4" text-anchor="middle" fill="#000" stroke="#000" stroke-width="0.12">Flu</text>
<text x="69.60" y="736.40" font-size="9.4" text-anchor="middle" fill="#000" stroke="#000" stroke-width="0.12">Fc</text>
<text x="89.60" y="736.40" font-size="9.4" text-anchor="middle" fill="#000" stroke="#000" stroke-width="0.12">Fc</text>
<text x="121.50" y="736.40" font-size="9.4" text-anchor="middle" fill="#000" stroke="#000" stroke-width="0.12">Collection</text>
<text x="144.60" y="584.10" font-size="13" font-weight="bold" fill="#000" stroke="#000" stroke-width="0.4" stroke-linejoin="round">k</text>
<rect x="188.20" y="681.20" width="13.50" height="18.00" fill="#ffffff" stroke="#333" stroke-width="0.58"/>
<rect x="209.20" y="654.70" width="13.60" height="44.50" fill="#e9d2fc" stroke="#333" stroke-width="0.58"/>
<rect x="230.20" y="649.90" width="13.60" height="49.30" fill="#cd92c8" stroke="#333" stroke-width="0.58"/>
<rect x="251.20" y="671.20" width="13.60" height="28.00" fill="#8b96d2" stroke="#333" stroke-width="0.58"/>
<line x1="181.20" y1="607.75" x2="181.20" y2="699.55" stroke="#3a3a3a" stroke-width="0.65"/>
<line x1="177.80" y1="608.10" x2="181.20" y2="608.10" stroke="#3a3a3a" stroke-width="0.65"/>
<text x="173.00" y="611.75" font-size="9.4" text-anchor="end" fill="#000" stroke="#000" stroke-width="0.12">5</text>
<line x1="177.80" y1="626.30" x2="181.20" y2="626.30" stroke="#3a3a3a" stroke-width="0.65"/>
<text x="173.00" y="629.95" font-size="9.4" text-anchor="end" fill="#000" stroke="#000" stroke-width="0.12">4</text>
<line x1="177.80" y1="644.50" x2="181.20" y2="644.50" stroke="#3a3a3a" stroke-width="0.65"/>
<text x="173.00" y="648.15" font-size="9.4" text-anchor="end" fill="#000" stroke="#000" stroke-width="0.12">3</text>
<line x1="177.80" y1="662.80" x2="181.20" y2="662.80" stroke="#3a3a3a" stroke-width="0.65"/>
<text x="173.00" y="666.45" font-size="9.4" text-anchor="end" fill="#000" stroke="#000" stroke-width="0.12">2</text>
<line x1="177.80" y1="681.00" x2="181.20" y2="681.00" stroke="#3a3a3a" stroke-width="0.65"/>
<text x="173.00" y="684.65" font-size="9.4" text-anchor="end" fill="#000" stroke="#000" stroke-width="0.12">1</text>
<line x1="177.80" y1="699.20" x2="181.20" y2="699.20" stroke="#3a3a3a" stroke-width="0.65"/>
<text x="173.00" y="702.85" font-size="9.4" text-anchor="end" fill="#000" stroke="#000" stroke-width="0.12">0</text>
<line x1="178.00" y1="699.20" x2="272.00" y2="699.20" stroke="#3a3a3a" stroke-width="0.65"/>
<line x1="194.95" y1="699.20" x2="194.95" y2="702.40" stroke="#3a3a3a" stroke-width="0.65"/>
<line x1="216.00" y1="699.20" x2="216.00" y2="702.40" stroke="#3a3a3a" stroke-width="0.65"/>
<line x1="237.00" y1="699.20" x2="237.00" y2="702.40" stroke="#3a3a3a" stroke-width="0.65"/>
<line x1="258.00" y1="699.20" x2="258.00" y2="702.40" stroke="#3a3a3a" stroke-width="0.65"/>
<line x1="194.95" y1="679.30" x2="194.95" y2="682.70" stroke="#111" stroke-width="0.7"/>
<line x1="190.85" y1="679.30" x2="199.05" y2="679.30" stroke="#111" stroke-width="0.7"/>
<line x1="190.85" y1="682.70" x2="199.05" y2="682.70" stroke="#111" stroke-width="0.7"/>
<line x1="216.00" y1="651.60" x2="216.00" y2="657.20" stroke="#111" stroke-width="0.7"/>
<line x1="211.90" y1="651.60" x2="220.10" y2="651.60" stroke="#111" stroke-width="0.7"/>
<line x1="211.90" y1="657.20" x2="220.10" y2="657.20" stroke="#111" stroke-width="0.7"/>
<line x1="237.00" y1="645.40" x2="237.00" y2="652.90" stroke="#111" stroke-width="0.7"/>
<line x1="232.90" y1="645.40" x2="241.10" y2="645.40" stroke="#111" stroke-width="0.7"/>
<line x1="232.90" y1="652.90" x2="241.10" y2="652.90" stroke="#111" stroke-width="0.7"/>
<line x1="258.00" y1="666.20" x2="258.00" y2="675.20" stroke="#111" stroke-width="0.7"/>
<line x1="253.90" y1="666.20" x2="262.10" y2="666.20" stroke="#111" stroke-width="0.7"/>
<line x1="253.90" y1="675.20" x2="262.10" y2="675.20" stroke="#111" stroke-width="0.7"/>
<circle cx="197.59" cy="672.69" r="1.5" fill="#0a0a0a" stroke="none" stroke-width="0"/>
<circle cx="192.11" cy="674.88" r="1.5" fill="#0a0a0a" stroke="none" stroke-width="0"/>
<circle cx="194.96" cy="677.07" r="1.5" fill="#0a0a0a" stroke="none" stroke-width="0"/>
<circle cx="194.96" cy="680.58" r="1.5" fill="#0a0a0a" stroke="none" stroke-width="0"/>
<circle cx="189.27" cy="683.86" r="1.5" fill="#0a0a0a" stroke="none" stroke-width="0"/>
<circle cx="192.11" cy="682.11" r="1.5" fill="#0a0a0a" stroke="none" stroke-width="0"/>
<circle cx="197.59" cy="682.33" r="1.5" fill="#0a0a0a" stroke="none" stroke-width="0"/>
<circle cx="200.43" cy="682.55" r="1.5" fill="#0a0a0a" stroke="none" stroke-width="0"/>
<circle cx="194.96" cy="684.52" r="1.5" fill="#0a0a0a" stroke="none" stroke-width="0"/>
<circle cx="197.59" cy="684.74" r="1.5" fill="#0a0a0a" stroke="none" stroke-width="0"/>
<circle cx="194.96" cy="689.55" r="1.5" fill="#0a0a0a" stroke="none" stroke-width="0"/>
<circle cx="215.98" cy="638.32" r="1.5" fill="#0a0a0a" stroke="none" stroke-width="0"/>
<circle cx="215.98" cy="640.51" r="1.5" fill="#0a0a0a" stroke="none" stroke-width="0"/>
<circle cx="215.98" cy="645.10" r="1.5" fill="#0a0a0a" stroke="none" stroke-width="0"/>
<circle cx="210.51" cy="652.55" r="1.5" fill="#0a0a0a" stroke="none" stroke-width="0"/>
<circle cx="214.45" cy="652.55" r="1.5" fill="#0a0a0a" stroke="none" stroke-width="0"/>
<circle cx="217.95" cy="652.55" r="1.5" fill="#0a0a0a" stroke="none" stroke-width="0"/>
<circle cx="221.67" cy="652.55" r="1.5" fill="#0a0a0a" stroke="none" stroke-width="0"/>
<circle cx="210.51" cy="657.15" r="1.5" fill="#0a0a0a" stroke="none" stroke-width="0"/>
<circle cx="215.98" cy="654.74" r="1.5" fill="#0a0a0a" stroke="none" stroke-width="0"/>
<circle cx="215.98" cy="659.12" r="1.5" fill="#0a0a0a" stroke="none" stroke-width="0"/>
<circle cx="215.98" cy="663.72" r="1.5" fill="#0a0a0a" stroke="none" stroke-width="0"/>
<circle cx="215.98" cy="668.10" r="1.5" fill="#0a0a0a" stroke="none" stroke-width="0"/>
<circle cx="215.98" cy="672.26" r="1.5" fill="#0a0a0a" stroke="none" stroke-width="0"/>
<circle cx="237.00" cy="624.96" r="1.5" fill="#0a0a0a" stroke="none" stroke-width="0"/>
<circle cx="237.00" cy="635.03" r="1.5" fill="#0a0a0a" stroke="none" stroke-width="0"/>
<circle cx="234.15" cy="642.26" r="1.5" fill="#0a0a0a" stroke="none" stroke-width="0"/>
<circle cx="239.85" cy="642.70" r="1.5" fill="#0a0a0a" stroke="none" stroke-width="0"/>
<circle cx="237.00" cy="646.64" r="1.5" fill="#0a0a0a" stroke="none" stroke-width="0"/>
<circle cx="234.15" cy="649.70" r="1.5" fill="#0a0a0a" stroke="none" stroke-width="0"/>
<circle cx="239.85" cy="649.26" r="1.5" fill="#0a0a0a" stroke="none" stroke-width="0"/>
<circle cx="234.15" cy="653.42" r="1.5" fill="#0a0a0a" stroke="none" stroke-width="0"/>
<circle cx="237.00" cy="652.55" r="1.5" fill="#0a0a0a" stroke="none" stroke-width="0"/>
<circle cx="239.85" cy="655.18" r="1.5" fill="#0a0a0a" stroke="none" stroke-width="0"/>
<circle cx="234.15" cy="657.15" r="1.5" fill="#0a0a0a" stroke="none" stroke-width="0"/>
<circle cx="237.00" cy="663.72" r="1.5" fill="#0a0a0a" stroke="none" stroke-width="0"/>
<circle cx="237.00" cy="672.91" r="1.5" fill="#0a0a0a" stroke="none" stroke-width="0"/>
<circle cx="258.24" cy="639.85" r="1.5" fill="#0a0a0a" stroke="none" stroke-width="0"/>
<circle cx="258.24" cy="654.08" r="1.5" fill="#0a0a0a" stroke="none" stroke-width="0"/>
<circle cx="258.24" cy="657.15" r="1.5" fill="#0a0a0a" stroke="none" stroke-width="0"/>
<circle cx="255.39" cy="667.22" r="1.5" fill="#0a0a0a" stroke="none" stroke-width="0"/>
<circle cx="260.87" cy="666.56" r="1.5" fill="#0a0a0a" stroke="none" stroke-width="0"/>
<circle cx="258.24" cy="670.94" r="1.5" fill="#0a0a0a" stroke="none" stroke-width="0"/>
<circle cx="255.39" cy="676.42" r="1.5" fill="#0a0a0a" stroke="none" stroke-width="0"/>
<circle cx="260.87" cy="674.66" r="1.5" fill="#0a0a0a" stroke="none" stroke-width="0"/>
<circle cx="258.24" cy="680.14" r="1.5" fill="#0a0a0a" stroke="none" stroke-width="0"/>
<circle cx="255.39" cy="685.17" r="1.5" fill="#0a0a0a" stroke="none" stroke-width="0"/>
<circle cx="260.87" cy="687.58" r="1.5" fill="#0a0a0a" stroke="none" stroke-width="0"/>
<circle cx="258.24" cy="691.09" r="1.5" fill="#0a0a0a" stroke="none" stroke-width="0"/>
<text x="237.00" y="603.00" font-size="9.4" text-anchor="middle" fill="#000" stroke="#000" stroke-width="0.12">0.0262</text>
<line x1="216.00" y1="605.60" x2="258.20" y2="605.60" stroke="#555" stroke-width="0.8"/>
<text x="247.60" y="614.60" font-size="9.4" text-anchor="middle" fill="#000" stroke="#000" stroke-width="0.12">0.0036</text>
<line x1="237.00" y1="618.20" x2="258.20" y2="618.20" stroke="#555" stroke-width="0.8"/>
<text x="159.60" y="653.50" font-size="9.4" text-anchor="middle" transform="rotate(-90 159.60 653.50)" fill="#000" stroke="#000" stroke-width="0.12">mLN cell numbers (×10<tspan font-size="6.2" dy="-4.89">6</tspan><tspan dy="4.89" font-size="9.4">&#8203;</tspan>)</text>
<text x="197.75" y="711.00" font-size="9.4" text-anchor="end" transform="rotate(-45 197.75 711.00)" fill="#000" stroke="#000" stroke-width="0.12">Untreated</text>
<text x="218.80" y="711.00" font-size="9.4" text-anchor="end" transform="rotate(-45 218.80 711.00)" fill="#000" stroke="#000" stroke-width="0.12">PBS</text>
<text x="239.80" y="711.00" font-size="9.4" text-anchor="end" transform="rotate(-45 239.80 711.00)" fill="#000" stroke="#000" stroke-width="0.12">hTRAIL–Fc</text>
<text x="260.80" y="711.00" font-size="9.4" text-anchor="end" transform="rotate(-45 260.80 711.00)" fill="#000" stroke="#000" stroke-width="0.12">vCD44BP–Fc</text>
<line x1="202.60" y1="751.30" x2="270.80" y2="751.30" stroke="#777" stroke-width="0.8"/>
<text x="236.70" y="762.70" font-size="9.4" text-anchor="middle" fill="#000" stroke="#000" stroke-width="0.12">Flu</text>
<text x="284.40" y="584.10" font-size="13" font-weight="bold" fill="#000" stroke="#000" stroke-width="0.4" stroke-linejoin="round">l</text>
<rect x="323.60" y="679.00" width="13.80" height="20.20" fill="#ffffff" stroke="#333" stroke-width="0.58"/>
<rect x="344.60" y="656.90" width="13.80" height="42.30" fill="#e9d2fc" stroke="#333" stroke-width="0.58"/>
<rect x="365.40" y="653.20" width="13.80" height="46.00" fill="#cd92c8" stroke="#333" stroke-width="0.58"/>
<rect x="386.70" y="670.30" width="13.80" height="28.90" fill="#8b96d2" stroke="#333" stroke-width="0.58"/>
<line x1="316.60" y1="607.75" x2="316.60" y2="699.55" stroke="#3a3a3a" stroke-width="0.65"/>
<line x1="313.20" y1="608.10" x2="316.60" y2="608.10" stroke="#3a3a3a" stroke-width="0.65"/>
<text x="308.40" y="611.75" font-size="9.4" text-anchor="end" fill="#000" stroke="#000" stroke-width="0.12">10</text>
<line x1="313.20" y1="626.30" x2="316.60" y2="626.30" stroke="#3a3a3a" stroke-width="0.65"/>
<text x="308.40" y="629.95" font-size="9.4" text-anchor="end" fill="#000" stroke="#000" stroke-width="0.12">8</text>
<line x1="313.20" y1="644.50" x2="316.60" y2="644.50" stroke="#3a3a3a" stroke-width="0.65"/>
<text x="308.40" y="648.15" font-size="9.4" text-anchor="end" fill="#000" stroke="#000" stroke-width="0.12">6</text>
<line x1="313.20" y1="662.80" x2="316.60" y2="662.80" stroke="#3a3a3a" stroke-width="0.65"/>
<text x="308.40" y="666.45" font-size="9.4" text-anchor="end" fill="#000" stroke="#000" stroke-width="0.12">4</text>
<line x1="313.20" y1="681.00" x2="316.60" y2="681.00" stroke="#3a3a3a" stroke-width="0.65"/>
<text x="308.40" y="684.65" font-size="9.4" text-anchor="end" fill="#000" stroke="#000" stroke-width="0.12">2</text>
<line x1="313.20" y1="699.20" x2="316.60" y2="699.20" stroke="#3a3a3a" stroke-width="0.65"/>
<text x="308.40" y="702.85" font-size="9.4" text-anchor="end" fill="#000" stroke="#000" stroke-width="0.12">0</text>
<line x1="313.40" y1="699.20" x2="407.50" y2="699.20" stroke="#3a3a3a" stroke-width="0.65"/>
<line x1="330.50" y1="699.20" x2="330.50" y2="702.40" stroke="#3a3a3a" stroke-width="0.65"/>
<line x1="351.50" y1="699.20" x2="351.50" y2="702.40" stroke="#3a3a3a" stroke-width="0.65"/>
<line x1="372.30" y1="699.20" x2="372.30" y2="702.40" stroke="#3a3a3a" stroke-width="0.65"/>
<line x1="393.60" y1="699.20" x2="393.60" y2="702.40" stroke="#3a3a3a" stroke-width="0.65"/>
<line x1="330.50" y1="677.30" x2="330.50" y2="681.00" stroke="#111" stroke-width="0.7"/>
<line x1="326.40" y1="677.30" x2="334.60" y2="677.30" stroke="#111" stroke-width="0.7"/>
<line x1="326.40" y1="681.00" x2="334.60" y2="681.00" stroke="#111" stroke-width="0.7"/>
<line x1="351.50" y1="652.50" x2="351.50" y2="660.90" stroke="#111" stroke-width="0.7"/>
<line x1="347.40" y1="652.50" x2="355.60" y2="652.50" stroke="#111" stroke-width="0.7"/>
<line x1="347.40" y1="660.90" x2="355.60" y2="660.90" stroke="#111" stroke-width="0.7"/>
<line x1="372.30" y1="648.50" x2="372.30" y2="658.20" stroke="#111" stroke-width="0.7"/>
<line x1="368.20" y1="648.50" x2="376.40" y2="648.50" stroke="#111" stroke-width="0.7"/>
<line x1="368.20" y1="658.20" x2="376.40" y2="658.20" stroke="#111" stroke-width="0.7"/>
<line x1="393.60" y1="664.70" x2="393.60" y2="675.20" stroke="#111" stroke-width="0.7"/>
<line x1="389.50" y1="664.70" x2="397.70" y2="664.70" stroke="#111" stroke-width="0.7"/>
<line x1="389.50" y1="675.20" x2="397.70" y2="675.20" stroke="#111" stroke-width="0.7"/>
<circle cx="333.24" cy="669.41" r="1.5" fill="#0a0a0a" stroke="none" stroke-width="0"/>
<circle cx="327.77" cy="671.82" r="1.5" fill="#0a0a0a" stroke="none" stroke-width="0"/>
<circle cx="333.24" cy="674.01" r="1.5" fill="#0a0a0a" stroke="none" stroke-width="0"/>
<circle cx="327.77" cy="676.42" r="1.5" fill="#0a0a0a" stroke="none" stroke-width="0"/>
<circle cx="330.62" cy="678.39" r="1.5" fill="#0a0a0a" stroke="none" stroke-width="0"/>
<circle cx="327.77" cy="680.79" r="1.5" fill="#0a0a0a" stroke="none" stroke-width="0"/>
<circle cx="333.24" cy="679.26" r="1.5" fill="#0a0a0a" stroke="none" stroke-width="0"/>
<circle cx="333.24" cy="681.67" r="1.5" fill="#0a0a0a" stroke="none" stroke-width="0"/>
<circle cx="327.77" cy="683.86" r="1.5" fill="#0a0a0a" stroke="none" stroke-width="0"/>
<circle cx="333.24" cy="684.96" r="1.5" fill="#0a0a0a" stroke="none" stroke-width="0"/>
<circle cx="330.62" cy="688.46" r="1.5" fill="#0a0a0a" stroke="none" stroke-width="0"/>
<circle cx="351.42" cy="631.09" r="1.5" fill="#0a0a0a" stroke="none" stroke-width="0"/>
<circle cx="351.42" cy="637.66" r="1.5" fill="#0a0a0a" stroke="none" stroke-width="0"/>
<circle cx="351.42" cy="649.70" r="1.5" fill="#0a0a0a" stroke="none" stroke-width="0"/>
<circle cx="345.72" cy="652.55" r="1.5" fill="#0a0a0a" stroke="none" stroke-width="0"/>
<circle cx="351.42" cy="652.99" r="1.5" fill="#0a0a0a" stroke="none" stroke-width="0"/>
<circle cx="345.72" cy="657.15" r="1.5" fill="#0a0a0a" stroke="none" stroke-width="0"/>
<circle cx="351.42" cy="656.05" r="1.5" fill="#0a0a0a" stroke="none" stroke-width="0"/>
<circle cx="356.89" cy="656.05" r="1.5" fill="#0a0a0a" stroke="none" stroke-width="0"/>
<circle cx="351.42" cy="664.15" r="1.5" fill="#0a0a0a" stroke="none" stroke-width="0"/>
<circle cx="351.42" cy="668.97" r="1.5" fill="#0a0a0a" stroke="none" stroke-width="0"/>
<circle cx="354.26" cy="677.07" r="1.5" fill="#0a0a0a" stroke="none" stroke-width="0"/>
<circle cx="348.57" cy="679.70" r="1.5" fill="#0a0a0a" stroke="none" stroke-width="0"/>
<circle cx="372.44" cy="624.96" r="1.5" fill="#0a0a0a" stroke="none" stroke-width="0"/>
<circle cx="372.44" cy="634.37" r="1.5" fill="#0a0a0a" stroke="none" stroke-width="0"/>
<circle cx="372.44" cy="641.82" r="1.5" fill="#0a0a0a" stroke="none" stroke-width="0"/>
<circle cx="372.44" cy="646.20" r="1.5" fill="#0a0a0a" stroke="none" stroke-width="0"/>
<circle cx="372.44" cy="650.80" r="1.5" fill="#0a0a0a" stroke="none" stroke-width="0"/>
<circle cx="372.44" cy="654.08" r="1.5" fill="#0a0a0a" stroke="none" stroke-width="0"/>
<circle cx="366.96" cy="664.59" r="1.5" fill="#0a0a0a" stroke="none" stroke-width="0"/>
<circle cx="378.13" cy="663.50" r="1.5" fill="#0a0a0a" stroke="none" stroke-width="0"/>
<circle cx="378.13" cy="666.12" r="1.5" fill="#0a0a0a" stroke="none" stroke-width="0"/>
<circle cx="372.44" cy="667.00" r="1.5" fill="#0a0a0a" stroke="none" stroke-width="0"/>
<circle cx="372.44" cy="674.23" r="1.5" fill="#0a0a0a" stroke="none" stroke-width="0"/>
<circle cx="390.61" cy="636.35" r="1.5" fill="#0a0a0a" stroke="none" stroke-width="0"/>
<circle cx="396.31" cy="637.44" r="1.5" fill="#0a0a0a" stroke="none" stroke-width="0"/>
<circle cx="387.98" cy="664.59" r="1.5" fill="#0a0a0a" stroke="none" stroke-width="0"/>
<circle cx="393.68" cy="666.12" r="1.5" fill="#0a0a0a" stroke="none" stroke-width="0"/>
<circle cx="387.98" cy="668.10" r="1.5" fill="#0a0a0a" stroke="none" stroke-width="0"/>
<circle cx="399.15" cy="668.10" r="1.5" fill="#0a0a0a" stroke="none" stroke-width="0"/>
<circle cx="393.68" cy="673.57" r="1.5" fill="#0a0a0a" stroke="none" stroke-width="0"/>
<circle cx="390.61" cy="681.01" r="1.5" fill="#0a0a0a" stroke="none" stroke-width="0"/>
<circle cx="396.31" cy="680.79" r="1.5" fill="#0a0a0a" stroke="none" stroke-width="0"/>
<circle cx="393.68" cy="686.27" r="1.5" fill="#0a0a0a" stroke="none" stroke-width="0"/>
<circle cx="399.15" cy="687.58" r="1.5" fill="#0a0a0a" stroke="none" stroke-width="0"/>
<circle cx="387.98" cy="690.43" r="1.5" fill="#0a0a0a" stroke="none" stroke-width="0"/>
<text x="372.40" y="603.00" font-size="9.4" text-anchor="middle" fill="#000" stroke="#000" stroke-width="0.12">0.0804</text>
<line x1="351.20" y1="605.60" x2="393.90" y2="605.60" stroke="#555" stroke-width="0.8"/>
<text x="383.10" y="614.60" font-size="9.4" text-anchor="middle" fill="#000" stroke="#000" stroke-width="0.12">0.0278</text>
<line x1="372.40" y1="618.20" x2="393.90" y2="618.20" stroke="#555" stroke-width="0.8"/>
<text x="292.40" y="653.20" font-size="9.4" text-anchor="middle" transform="rotate(-90 292.40 653.20)" fill="#000" stroke="#000" stroke-width="0.12">CD8 T cells (×10<tspan font-size="6.2" dy="-4.89">5</tspan><tspan dy="4.89" font-size="9.4">&#8203;</tspan>)</text>
<text x="333.30" y="711.00" font-size="9.4" text-anchor="end" transform="rotate(-45 333.30 711.00)" fill="#000" stroke="#000" stroke-width="0.12">Untreated</text>
<text x="354.30" y="711.00" font-size="9.4" text-anchor="end" transform="rotate(-45 354.30 711.00)" fill="#000" stroke="#000" stroke-width="0.12">PBS</text>
<text x="375.10" y="711.00" font-size="9.4" text-anchor="end" transform="rotate(-45 375.10 711.00)" fill="#000" stroke="#000" stroke-width="0.12">hTRAIL–Fc</text>
<text x="396.40" y="711.00" font-size="9.4" text-anchor="end" transform="rotate(-45 396.40 711.00)" fill="#000" stroke="#000" stroke-width="0.12">vCD44BP–Fc</text>
<line x1="337.00" y1="751.30" x2="405.70" y2="751.30" stroke="#777" stroke-width="0.8"/>
<text x="371.35" y="762.70" font-size="9.4" text-anchor="middle" fill="#000" stroke="#000" stroke-width="0.12">Flu</text>
<text x="419.40" y="583.70" font-size="13" font-weight="bold" fill="#000" stroke="#000" stroke-width="0.4" stroke-linejoin="round">m</text>
<rect x="464.00" y="694.60" width="13.60" height="3.70" fill="#ffffff" stroke="#333" stroke-width="0.58"/>
<rect x="485.10" y="660.20" width="13.60" height="38.10" fill="#e9d2fc" stroke="#333" stroke-width="0.58"/>
<rect x="506.10" y="658.20" width="13.60" height="40.10" fill="#cd92c8" stroke="#333" stroke-width="0.58"/>
<rect x="527.10" y="672.90" width="13.60" height="25.40" fill="#8b96d2" stroke="#333" stroke-width="0.58"/>
<line x1="457.10" y1="606.85" x2="457.10" y2="698.65" stroke="#3a3a3a" stroke-width="0.65"/>
<line x1="453.70" y1="607.20" x2="457.10" y2="607.20" stroke="#3a3a3a" stroke-width="0.65"/>
<text x="448.90" y="610.85" font-size="9.4" text-anchor="end" fill="#000" stroke="#000" stroke-width="0.12">2.0</text>
<line x1="453.70" y1="630.00" x2="457.10" y2="630.00" stroke="#3a3a3a" stroke-width="0.65"/>
<text x="448.90" y="633.65" font-size="9.4" text-anchor="end" fill="#000" stroke="#000" stroke-width="0.12">1.5</text>
<line x1="453.70" y1="652.80" x2="457.10" y2="652.80" stroke="#3a3a3a" stroke-width="0.65"/>
<text x="448.90" y="656.45" font-size="9.4" text-anchor="end" fill="#000" stroke="#000" stroke-width="0.12">1.0</text>
<line x1="453.70" y1="675.50" x2="457.10" y2="675.50" stroke="#3a3a3a" stroke-width="0.65"/>
<text x="448.90" y="679.15" font-size="9.4" text-anchor="end" fill="#000" stroke="#000" stroke-width="0.12">0.5</text>
<line x1="453.70" y1="698.30" x2="457.10" y2="698.30" stroke="#3a3a3a" stroke-width="0.65"/>
<text x="448.90" y="701.95" font-size="9.4" text-anchor="end" fill="#000" stroke="#000" stroke-width="0.12">0</text>
<line x1="453.90" y1="698.30" x2="548.00" y2="698.30" stroke="#3a3a3a" stroke-width="0.65"/>
<line x1="470.80" y1="698.30" x2="470.80" y2="701.50" stroke="#3a3a3a" stroke-width="0.65"/>
<line x1="491.90" y1="698.30" x2="491.90" y2="701.50" stroke="#3a3a3a" stroke-width="0.65"/>
<line x1="512.90" y1="698.30" x2="512.90" y2="701.50" stroke="#3a3a3a" stroke-width="0.65"/>
<line x1="533.90" y1="698.30" x2="533.90" y2="701.50" stroke="#3a3a3a" stroke-width="0.65"/>
<line x1="491.90" y1="656.90" x2="491.90" y2="663.70" stroke="#111" stroke-width="0.7"/>
<line x1="487.80" y1="656.90" x2="496.00" y2="656.90" stroke="#111" stroke-width="0.7"/>
<line x1="487.80" y1="663.70" x2="496.00" y2="663.70" stroke="#111" stroke-width="0.7"/>
<line x1="512.90" y1="653.20" x2="512.90" y2="663.70" stroke="#111" stroke-width="0.7"/>
<line x1="508.80" y1="653.20" x2="517.00" y2="653.20" stroke="#111" stroke-width="0.7"/>
<line x1="508.80" y1="663.70" x2="517.00" y2="663.70" stroke="#111" stroke-width="0.7"/>
<line x1="533.90" y1="671.20" x2="533.90" y2="674.70" stroke="#111" stroke-width="0.7"/>
<line x1="529.80" y1="671.20" x2="538.00" y2="671.20" stroke="#111" stroke-width="0.7"/>
<line x1="529.80" y1="674.70" x2="538.00" y2="674.70" stroke="#111" stroke-width="0.7"/>
<circle cx="465.84" cy="695.90" r="1.5" fill="#0a0a0a" stroke="none" stroke-width="0"/>
<circle cx="467.81" cy="696.34" r="1.5" fill="#0a0a0a" stroke="none" stroke-width="0"/>
<circle cx="469.78" cy="695.68" r="1.5" fill="#0a0a0a" stroke="none" stroke-width="0"/>
<circle cx="471.75" cy="696.34" r="1.5" fill="#0a0a0a" stroke="none" stroke-width="0"/>
<circle cx="473.72" cy="695.68" r="1.5" fill="#0a0a0a" stroke="none" stroke-width="0"/>
<circle cx="475.69" cy="696.12" r="1.5" fill="#0a0a0a" stroke="none" stroke-width="0"/>
<circle cx="469.12" cy="697.22" r="1.5" fill="#0a0a0a" stroke="none" stroke-width="0"/>
<circle cx="472.62" cy="695.03" r="1.5" fill="#0a0a0a" stroke="none" stroke-width="0"/>
<circle cx="466.93" cy="695.03" r="1.5" fill="#0a0a0a" stroke="none" stroke-width="0"/>
<circle cx="475.25" cy="695.03" r="1.5" fill="#0a0a0a" stroke="none" stroke-width="0"/>
<circle cx="491.67" cy="639.41" r="1.5" fill="#0a0a0a" stroke="none" stroke-width="0"/>
<circle cx="491.67" cy="646.20" r="1.5" fill="#0a0a0a" stroke="none" stroke-width="0"/>
<circle cx="497.15" cy="655.40" r="1.5" fill="#0a0a0a" stroke="none" stroke-width="0"/>
<circle cx="486.64" cy="657.58" r="1.5" fill="#0a0a0a" stroke="none" stroke-width="0"/>
<circle cx="492.11" cy="658.68" r="1.5" fill="#0a0a0a" stroke="none" stroke-width="0"/>
<circle cx="488.83" cy="660.87" r="1.5" fill="#0a0a0a" stroke="none" stroke-width="0"/>
<circle cx="486.20" cy="661.96" r="1.5" fill="#0a0a0a" stroke="none" stroke-width="0"/>
<circle cx="494.30" cy="661.96" r="1.5" fill="#0a0a0a" stroke="none" stroke-width="0"/>
<circle cx="491.02" cy="664.59" r="1.5" fill="#0a0a0a" stroke="none" stroke-width="0"/>
<circle cx="496.49" cy="665.25" r="1.5" fill="#0a0a0a" stroke="none" stroke-width="0"/>
<circle cx="488.83" cy="672.91" r="1.5" fill="#0a0a0a" stroke="none" stroke-width="0"/>
<circle cx="493.64" cy="672.91" r="1.5" fill="#0a0a0a" stroke="none" stroke-width="0"/>
<circle cx="510.72" cy="635.03" r="1.5" fill="#0a0a0a" stroke="none" stroke-width="0"/>
<circle cx="514.66" cy="632.84" r="1.5" fill="#0a0a0a" stroke="none" stroke-width="0"/>
<circle cx="512.91" cy="638.97" r="1.5" fill="#0a0a0a" stroke="none" stroke-width="0"/>
<circle cx="510.28" cy="657.58" r="1.5" fill="#0a0a0a" stroke="none" stroke-width="0"/>
<circle cx="514.66" cy="658.68" r="1.5" fill="#0a0a0a" stroke="none" stroke-width="0"/>
<circle cx="508.10" cy="663.06" r="1.5" fill="#0a0a0a" stroke="none" stroke-width="0"/>
<circle cx="512.91" cy="663.72" r="1.5" fill="#0a0a0a" stroke="none" stroke-width="0"/>
<circle cx="517.29" cy="663.06" r="1.5" fill="#0a0a0a" stroke="none" stroke-width="0"/>
<circle cx="510.72" cy="670.72" r="1.5" fill="#0a0a0a" stroke="none" stroke-width="0"/>
<circle cx="515.10" cy="670.28" r="1.5" fill="#0a0a0a" stroke="none" stroke-width="0"/>
<circle cx="512.91" cy="683.42" r="1.5" fill="#0a0a0a" stroke="none" stroke-width="0"/>
<circle cx="534.81" cy="663.72" r="1.5" fill="#0a0a0a" stroke="none" stroke-width="0"/>
<circle cx="537.00" cy="665.25" r="1.5" fill="#0a0a0a" stroke="none" stroke-width="0"/>
<circle cx="532.62" cy="667.44" r="1.5" fill="#0a0a0a" stroke="none" stroke-width="0"/>
<circle cx="535.90" cy="668.53" r="1.5" fill="#0a0a0a" stroke="none" stroke-width="0"/>
<circle cx="529.33" cy="674.01" r="1.5" fill="#0a0a0a" stroke="none" stroke-width="0"/>
<circle cx="532.62" cy="674.66" r="1.5" fill="#0a0a0a" stroke="none" stroke-width="0"/>
<circle cx="535.90" cy="674.01" r="1.5" fill="#0a0a0a" stroke="none" stroke-width="0"/>
<circle cx="539.19" cy="674.66" r="1.5" fill="#0a0a0a" stroke="none" stroke-width="0"/>
<circle cx="530.43" cy="676.20" r="1.5" fill="#0a0a0a" stroke="none" stroke-width="0"/>
<circle cx="534.81" cy="676.85" r="1.5" fill="#0a0a0a" stroke="none" stroke-width="0"/>
<circle cx="538.09" cy="676.20" r="1.5" fill="#0a0a0a" stroke="none" stroke-width="0"/>
<circle cx="533.71" cy="679.04" r="1.5" fill="#0a0a0a" stroke="none" stroke-width="0"/>
<text x="512.40" y="603.00" font-size="9.4" text-anchor="middle" fill="#000" stroke="#000" stroke-width="0.12">0.0025</text>
<line x1="491.70" y1="605.60" x2="534.20" y2="605.60" stroke="#555" stroke-width="0.8"/>
<text x="523.10" y="614.60" font-size="9.4" text-anchor="middle" fill="#000" stroke="#000" stroke-width="0.12">0.0048</text>
<line x1="512.90" y1="618.20" x2="534.20" y2="618.20" stroke="#555" stroke-width="0.8"/>
<text x="428.20" y="652.00" font-size="9.4" text-anchor="middle" transform="rotate(-90 428.20 652.00)" fill="#000" stroke="#000" stroke-width="0.12">NP tetramer<tspan font-size="6.2" dy="-4.89">+</tspan><tspan dy="4.89" font-size="9.4">&#8203;</tspan> CD8 T cells (%)</text>
<text x="473.60" y="710.10" font-size="9.4" text-anchor="end" transform="rotate(-45 473.60 710.10)" fill="#000" stroke="#000" stroke-width="0.12">Untreated</text>
<text x="494.70" y="710.10" font-size="9.4" text-anchor="end" transform="rotate(-45 494.70 710.10)" fill="#000" stroke="#000" stroke-width="0.12">PBS</text>
<text x="515.70" y="710.10" font-size="9.4" text-anchor="end" transform="rotate(-45 515.70 710.10)" fill="#000" stroke="#000" stroke-width="0.12">hTRAIL–Fc</text>
<text x="536.70" y="710.10" font-size="9.4" text-anchor="end" transform="rotate(-45 536.70 710.10)" fill="#000" stroke="#000" stroke-width="0.12">vCD44BP–Fc</text>
<line x1="476.30" y1="751.50" x2="545.30" y2="751.50" stroke="#777" stroke-width="0.8"/>
<text x="510.80" y="762.90" font-size="9.4" text-anchor="middle" fill="#000" stroke="#000" stroke-width="0.12">Flu</text>
<rect x="601.60" y="697.60" width="13.60" height="1.20" fill="#ffffff" stroke="#333" stroke-width="0.58"/>
<rect x="622.30" y="664.60" width="13.60" height="34.20" fill="#e9d2fc" stroke="#333" stroke-width="0.58"/>
<rect x="643.30" y="658.50" width="13.50" height="40.30" fill="#cd92c8" stroke="#333" stroke-width="0.58"/>
<rect x="664.10" y="682.00" width="13.70" height="16.80" fill="#8b96d2" stroke="#333" stroke-width="0.58"/>
<line x1="594.00" y1="607.75" x2="594.00" y2="699.15" stroke="#3a3a3a" stroke-width="0.65"/>
<line x1="590.60" y1="608.10" x2="594.00" y2="608.10" stroke="#3a3a3a" stroke-width="0.65"/>
<text x="585.80" y="611.75" font-size="9.4" text-anchor="end" fill="#000" stroke="#000" stroke-width="0.12">10</text>
<line x1="590.60" y1="626.20" x2="594.00" y2="626.20" stroke="#3a3a3a" stroke-width="0.65"/>
<text x="585.80" y="629.85" font-size="9.4" text-anchor="end" fill="#000" stroke="#000" stroke-width="0.12">8</text>
<line x1="590.60" y1="644.40" x2="594.00" y2="644.40" stroke="#3a3a3a" stroke-width="0.65"/>
<text x="585.80" y="648.05" font-size="9.4" text-anchor="end" fill="#000" stroke="#000" stroke-width="0.12">6</text>
<line x1="590.60" y1="662.50" x2="594.00" y2="662.50" stroke="#3a3a3a" stroke-width="0.65"/>
<text x="585.80" y="666.15" font-size="9.4" text-anchor="end" fill="#000" stroke="#000" stroke-width="0.12">4</text>
<line x1="590.60" y1="680.70" x2="594.00" y2="680.70" stroke="#3a3a3a" stroke-width="0.65"/>
<text x="585.80" y="684.35" font-size="9.4" text-anchor="end" fill="#000" stroke="#000" stroke-width="0.12">2</text>
<line x1="590.60" y1="698.80" x2="594.00" y2="698.80" stroke="#3a3a3a" stroke-width="0.65"/>
<text x="585.80" y="702.45" font-size="9.4" text-anchor="end" fill="#000" stroke="#000" stroke-width="0.12">0</text>
<line x1="590.80" y1="698.80" x2="686.00" y2="698.80" stroke="#3a3a3a" stroke-width="0.65"/>
<line x1="608.40" y1="698.80" x2="608.40" y2="702.00" stroke="#3a3a3a" stroke-width="0.65"/>
<line x1="629.10" y1="698.80" x2="629.10" y2="702.00" stroke="#3a3a3a" stroke-width="0.65"/>
<line x1="650.05" y1="698.80" x2="650.05" y2="702.00" stroke="#3a3a3a" stroke-width="0.65"/>
<line x1="670.95" y1="698.80" x2="670.95" y2="702.00" stroke="#3a3a3a" stroke-width="0.65"/>
<line x1="629.10" y1="660.60" x2="629.10" y2="668.40" stroke="#111" stroke-width="0.7"/>
<line x1="625.00" y1="660.60" x2="633.20" y2="660.60" stroke="#111" stroke-width="0.7"/>
<line x1="625.00" y1="668.40" x2="633.20" y2="668.40" stroke="#111" stroke-width="0.7"/>
<line x1="650.05" y1="652.40" x2="650.05" y2="665.10" stroke="#111" stroke-width="0.7"/>
<line x1="645.95" y1="652.40" x2="654.15" y2="652.40" stroke="#111" stroke-width="0.7"/>
<line x1="645.95" y1="665.10" x2="654.15" y2="665.10" stroke="#111" stroke-width="0.7"/>
<line x1="670.95" y1="678.40" x2="670.95" y2="686.20" stroke="#111" stroke-width="0.7"/>
<line x1="666.85" y1="678.40" x2="675.05" y2="678.40" stroke="#111" stroke-width="0.7"/>
<line x1="666.85" y1="686.20" x2="675.05" y2="686.20" stroke="#111" stroke-width="0.7"/>
<circle cx="603.25" cy="698.02" r="1.5" fill="#0a0a0a" stroke="none" stroke-width="0"/>
<circle cx="605.29" cy="698.43" r="1.5" fill="#0a0a0a" stroke="none" stroke-width="0"/>
<circle cx="607.33" cy="697.82" r="1.5" fill="#0a0a0a" stroke="none" stroke-width="0"/>
<circle cx="609.38" cy="698.43" r="1.5" fill="#0a0a0a" stroke="none" stroke-width="0"/>
<circle cx="611.42" cy="697.82" r="1.5" fill="#0a0a0a" stroke="none" stroke-width="0"/>
<circle cx="613.47" cy="698.23" r="1.5" fill="#0a0a0a" stroke="none" stroke-width="0"/>
<circle cx="604.27" cy="697.00" r="1.5" fill="#0a0a0a" stroke="none" stroke-width="0"/>
<circle cx="608.36" cy="699.05" r="1.5" fill="#0a0a0a" stroke="none" stroke-width="0"/>
<circle cx="612.44" cy="697.21" r="1.5" fill="#0a0a0a" stroke="none" stroke-width="0"/>
<circle cx="626.14" cy="642.84" r="1.5" fill="#0a0a0a" stroke="none" stroke-width="0"/>
<circle cx="631.86" cy="642.84" r="1.5" fill="#0a0a0a" stroke="none" stroke-width="0"/>
<circle cx="623.68" cy="661.65" r="1.5" fill="#0a0a0a" stroke="none" stroke-width="0"/>
<circle cx="628.79" cy="660.01" r="1.5" fill="#0a0a0a" stroke="none" stroke-width="0"/>
<circle cx="633.90" cy="661.03" r="1.5" fill="#0a0a0a" stroke="none" stroke-width="0"/>
<circle cx="626.14" cy="665.73" r="1.5" fill="#0a0a0a" stroke="none" stroke-width="0"/>
<circle cx="630.84" cy="666.35" r="1.5" fill="#0a0a0a" stroke="none" stroke-width="0"/>
<circle cx="634.92" cy="665.12" r="1.5" fill="#0a0a0a" stroke="none" stroke-width="0"/>
<circle cx="626.75" cy="668.80" r="1.5" fill="#0a0a0a" stroke="none" stroke-width="0"/>
<circle cx="623.68" cy="673.50" r="1.5" fill="#0a0a0a" stroke="none" stroke-width="0"/>
<circle cx="628.79" cy="674.52" r="1.5" fill="#0a0a0a" stroke="none" stroke-width="0"/>
<circle cx="633.90" cy="673.91" r="1.5" fill="#0a0a0a" stroke="none" stroke-width="0"/>
<circle cx="628.79" cy="682.08" r="1.5" fill="#0a0a0a" stroke="none" stroke-width="0"/>
<circle cx="649.84" cy="618.73" r="1.5" fill="#0a0a0a" stroke="none" stroke-width="0"/>
<circle cx="649.84" cy="637.73" r="1.5" fill="#0a0a0a" stroke="none" stroke-width="0"/>
<circle cx="647.19" cy="652.45" r="1.5" fill="#0a0a0a" stroke="none" stroke-width="0"/>
<circle cx="652.30" cy="651.43" r="1.5" fill="#0a0a0a" stroke="none" stroke-width="0"/>
<circle cx="649.84" cy="658.58" r="1.5" fill="#0a0a0a" stroke="none" stroke-width="0"/>
<circle cx="651.27" cy="663.69" r="1.5" fill="#0a0a0a" stroke="none" stroke-width="0"/>
<circle cx="654.34" cy="664.71" r="1.5" fill="#0a0a0a" stroke="none" stroke-width="0"/>
<circle cx="647.19" cy="665.73" r="1.5" fill="#0a0a0a" stroke="none" stroke-width="0"/>
<circle cx="646.78" cy="670.43" r="1.5" fill="#0a0a0a" stroke="none" stroke-width="0"/>
<circle cx="653.32" cy="671.25" r="1.5" fill="#0a0a0a" stroke="none" stroke-width="0"/>
<circle cx="649.84" cy="690.87" r="1.5" fill="#0a0a0a" stroke="none" stroke-width="0"/>
<circle cx="671.10" cy="656.13" r="1.5" fill="#0a0a0a" stroke="none" stroke-width="0"/>
<circle cx="671.10" cy="666.14" r="1.5" fill="#0a0a0a" stroke="none" stroke-width="0"/>
<circle cx="671.10" cy="675.95" r="1.5" fill="#0a0a0a" stroke="none" stroke-width="0"/>
<circle cx="665.58" cy="682.08" r="1.5" fill="#0a0a0a" stroke="none" stroke-width="0"/>
<circle cx="675.80" cy="682.70" r="1.5" fill="#0a0a0a" stroke="none" stroke-width="0"/>
<circle cx="667.62" cy="685.15" r="1.5" fill="#0a0a0a" stroke="none" stroke-width="0"/>
<circle cx="672.73" cy="685.56" r="1.5" fill="#0a0a0a" stroke="none" stroke-width="0"/>
<circle cx="665.58" cy="689.24" r="1.5" fill="#0a0a0a" stroke="none" stroke-width="0"/>
<circle cx="670.69" cy="689.85" r="1.5" fill="#0a0a0a" stroke="none" stroke-width="0"/>
<circle cx="676.41" cy="693.32" r="1.5" fill="#0a0a0a" stroke="none" stroke-width="0"/>
<circle cx="667.62" cy="693.94" r="1.5" fill="#0a0a0a" stroke="none" stroke-width="0"/>
<circle cx="671.71" cy="694.96" r="1.5" fill="#0a0a0a" stroke="none" stroke-width="0"/>
<text x="649.80" y="598.70" font-size="9.4" text-anchor="middle" fill="#000" stroke="#000" stroke-width="0.12">0.0120</text>
<line x1="629.20" y1="602.00" x2="671.10" y2="602.00" stroke="#9a9a9a" stroke-width="1.2"/>
<text x="660.00" y="611.20" font-size="9.4" text-anchor="middle" fill="#000" stroke="#000" stroke-width="0.12">0.0011</text>
<line x1="649.80" y1="614.50" x2="671.10" y2="614.50" stroke="#555" stroke-width="0.8"/>
<text x="568.60" y="653.00" font-size="9.4" text-anchor="middle" transform="rotate(-90 568.60 653.00)" fill="#000" stroke="#000" stroke-width="0.12">NP<tspan font-size="6.2" dy="-4.89">+</tspan><tspan dy="4.89" font-size="9.4">&#8203;</tspan> CD8 T cells per mLN (×10<tspan font-size="6.2" dy="-4.89">3</tspan><tspan dy="4.89" font-size="9.4">&#8203;</tspan>)</text>
<text x="611.20" y="710.60" font-size="9.4" text-anchor="end" transform="rotate(-45 611.20 710.60)" fill="#000" stroke="#000" stroke-width="0.12">Untreated</text>
<text x="631.90" y="710.60" font-size="9.4" text-anchor="end" transform="rotate(-45 631.90 710.60)" fill="#000" stroke="#000" stroke-width="0.12">PBS</text>
<text x="652.85" y="710.60" font-size="9.4" text-anchor="end" transform="rotate(-45 652.85 710.60)" fill="#000" stroke="#000" stroke-width="0.12">hTRAIL–Fc</text>
<text x="673.75" y="710.60" font-size="9.4" text-anchor="end" transform="rotate(-45 673.75 710.60)" fill="#000" stroke="#000" stroke-width="0.12">vCD44BP–Fc</text>
<line x1="614.00" y1="751.50" x2="686.00" y2="751.50" stroke="#777" stroke-width="0.8"/>
<text x="650.00" y="762.90" font-size="9.4" text-anchor="middle" fill="#000" stroke="#000" stroke-width="0.12">Flu</text>
</svg>
</body></html>
